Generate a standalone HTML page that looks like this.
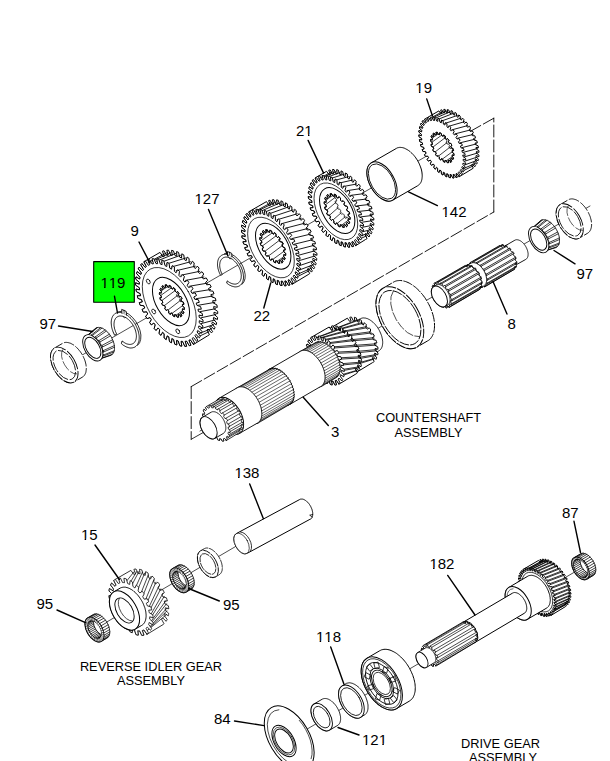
<!DOCTYPE html>
<html><head><meta charset="utf-8"><style>
html,body{margin:0;padding:0;background:#fff;width:610px;height:761px;overflow:hidden}
svg{display:block}
text{font-family:"Liberation Sans",sans-serif;fill:#000}
</style></head><body>
<svg width="610" height="761" viewBox="0 0 610 761" stroke-linecap="round" stroke-linejoin="round">
<line x1="191.20" y1="386.60" x2="191.20" y2="439.30" stroke="#000" stroke-width="0.9" stroke-dasharray="12,3"/>
<line x1="191.20" y1="386.60" x2="493.80" y2="212.00" stroke="#000" stroke-width="0.9" stroke-dasharray="12,3"/>
<line x1="493.80" y1="212.00" x2="493.80" y2="118.20" stroke="#000" stroke-width="0.9" stroke-dasharray="12,3"/>
<line x1="493.80" y1="118.20" x2="462.00" y2="136.00" stroke="#000" stroke-width="0.9" stroke-dasharray="12,3"/>
<line x1="191.20" y1="439.30" x2="205.00" y2="431.50" stroke="#000" stroke-width="0.8"/>
<line x1="58.00" y1="369.00" x2="470.00" y2="131.00" stroke="#000" stroke-width="0.7"/>
<line x1="200.00" y1="431.00" x2="590.00" y2="206.00" stroke="#000" stroke-width="0.7"/>
<line x1="88.00" y1="633.00" x2="245.00" y2="541.00" stroke="#000" stroke-width="0.7"/>
<line x1="280.00" y1="745.00" x2="590.00" y2="563.00" stroke="#000" stroke-width="0.7"/>
<path d="M472.3,168.8 L473.3,168.1 L471.6,164.8 L472.4,164.1 L474.7,166.8 L475.5,165.9 L473.6,162.7 L474.2,161.8 L476.7,164.1 L477.3,162.9 L475.1,160.0 L475.5,158.8 L478.1,160.8 L478.5,159.3 L476.0,156.8 L476.2,155.4 L478.9,156.8 L479.0,155.2 L476.4,153.1 L476.4,151.5 L479.0,152.4 L478.9,150.7 L476.3,149.0 L476.0,147.4 L478.5,147.7 L478.1,145.8 L475.5,144.7 L475.1,143.0 L477.4,142.8 L476.8,140.8 L474.3,140.2 L473.6,138.5 L475.6,137.7 L474.8,135.8 L472.5,135.7 L471.7,134.1 L473.4,132.8 L472.4,130.9 L470.2,131.4 L469.3,129.8 L470.6,128.0 L469.4,126.2 L467.6,127.3 L466.5,125.8 L467.4,123.5 L466.1,121.9 L464.6,123.5 L463.4,122.2 L463.9,119.5 L462.5,118.1 L461.4,120.1 L460.1,119.0 L460.2,116.1 L458.8,114.9 L458.0,117.4 L456.7,116.4 L456.4,113.3 L454.9,112.4 L454.6,115.2 L453.2,114.5 L452.5,111.2 L451.0,110.6 L451.1,113.7 L449.9,113.3 L448.7,109.9 L447.3,109.6 L447.8,112.9 L446.6,112.8 L445.1,109.4 L443.8,109.4 L444.7,112.8 L443.6,113.0 L441.8,109.8 L440.6,110.1 L441.9,113.5 L441.0,113.9 L438.9,110.9 L425.6,118.6 L424.6,119.2 L426.3,122.5 L425.5,123.3 L423.1,120.5 L422.3,121.5 L424.3,124.6 L423.7,125.6 L421.2,123.2 L420.6,124.4 L422.8,127.3 L422.4,128.5 L419.8,126.6 L419.4,128.0 L421.8,130.6 L421.6,131.9 L419.0,130.5 L418.9,132.1 L421.4,134.3 L421.4,135.8 L418.9,134.9 L419.0,136.7 L421.6,138.4 L421.8,140.0 L419.4,139.6 L419.7,141.5 L422.3,142.7 L422.7,144.4 L420.5,144.6 L421.1,146.5 L423.6,147.2 L424.2,148.9 L422.2,149.6 L423.0,151.5 L425.4,151.6 L426.2,153.3 L424.5,154.6 L425.5,156.4 L427.6,156.0 L428.6,157.6 L427.2,159.4 L428.4,161.1 L430.3,160.1 L431.4,161.6 L430.4,163.8 L431.7,165.4 L433.2,163.9 L434.4,165.2 L433.9,167.8 L435.3,169.2 L436.5,167.2 L437.7,168.3 L437.6,171.3 L439.1,172.4 L439.8,170.0 L441.2,170.9 L441.5,174.1 L443.0,175.0 L443.3,172.2 L444.6,172.8 L445.4,176.2 L446.8,176.8 L446.7,173.7 L448.0,174.1 L449.1,177.5 L450.5,177.7 L450.0,174.5 L451.2,174.6 L452.7,177.9 L454.0,177.9 L453.1,174.5 L454.2,174.4 L456.1,177.6 L457.2,177.2 L455.9,173.9 L456.9,173.4 L459.0,176.4Z" fill="#fff" stroke="#000" stroke-width="1.0" />
<path d="M461.5,171.6 L473.1,165.9 M463.1,168.7 L475.1,163.6 M464.1,165.2 L476.5,160.6 M464.5,161.3 L477.4,157.0 M464.3,156.9 L477.7,153.0 M463.4,152.3 L477.4,148.6 M462.1,147.6 L476.5,143.9 M460.1,142.8 L475.1,139.2 M457.7,138.2 L473.0,134.5 M454.9,133.9 L470.6,129.9 M451.7,129.9 L467.7,125.6 M448.3,126.4 L464.5,121.7 M444.7,123.5 L461.0,118.2 M441.0,121.2 L457.4,115.4 M437.4,119.6 L453.7,113.2 M433.9,118.8 L450.1,111.8 M430.6,118.8 L446.6,111.1 M427.7,119.6 L443.4,111.2" fill="none" stroke="#000" stroke-width="0.9" />
<path d="M459.0,176.4 L460.0,175.8 L458.3,172.5 L459.1,171.7 L461.5,174.5 L462.3,173.5 L460.3,170.4 L460.9,169.4 L463.4,171.8 L464.0,170.6 L461.8,167.7 L462.2,166.5 L464.8,168.4 L465.2,167.0 L462.8,164.4 L463.0,163.1 L465.6,164.5 L465.7,162.9 L463.2,160.7 L463.2,159.2 L465.7,160.1 L465.6,158.3 L463.0,156.6 L462.8,155.0 L465.2,155.4 L464.9,153.5 L462.3,152.3 L461.9,150.6 L464.1,150.4 L463.5,148.5 L461.0,147.8 L460.4,146.1 L462.4,145.4 L461.6,143.5 L459.2,143.4 L458.4,141.7 L460.1,140.4 L459.1,138.6 L457.0,139.0 L456.0,137.4 L457.4,135.6 L456.2,133.9 L454.3,134.9 L453.2,133.4 L454.2,131.2 L452.9,129.6 L451.4,131.1 L450.2,129.8 L450.7,127.2 L449.3,125.8 L448.1,127.8 L446.9,126.7 L447.0,123.7 L445.5,122.6 L444.8,125.0 L443.4,124.1 L443.1,120.9 L441.6,120.0 L441.3,122.8 L440.0,122.2 L439.2,118.8 L437.8,118.2 L437.9,121.3 L436.6,120.9 L435.5,117.5 L434.1,117.3 L434.6,120.5 L433.4,120.4 L431.9,117.1 L430.6,117.1 L431.5,120.5 L430.4,120.6 L428.5,117.4 L427.4,117.8 L428.7,121.1 L427.7,121.6 L425.6,118.6 L424.6,119.2 L426.3,122.5 L425.5,123.3 L423.1,120.5 L422.3,121.5 L424.3,124.6 L423.7,125.6 L421.2,123.2 L420.6,124.4 L422.8,127.3 L422.4,128.5 L419.8,126.6 L419.4,128.0 L421.8,130.6 L421.6,131.9 L419.0,130.5 L418.9,132.1 L421.4,134.3 L421.4,135.8 L418.9,134.9 L419.0,136.7 L421.6,138.4 L421.8,140.0 L419.4,139.6 L419.7,141.5 L422.3,142.7 L422.7,144.4 L420.5,144.6 L421.1,146.5 L423.6,147.2 L424.2,148.9 L422.2,149.6 L423.0,151.5 L425.4,151.6 L426.2,153.3 L424.5,154.6 L425.5,156.4 L427.6,156.0 L428.6,157.6 L427.2,159.4 L428.4,161.1 L430.3,160.1 L431.4,161.6 L430.4,163.8 L431.7,165.4 L433.2,163.9 L434.4,165.2 L433.9,167.8 L435.3,169.2 L436.5,167.2 L437.7,168.3 L437.6,171.3 L439.1,172.4 L439.8,170.0 L441.2,170.9 L441.5,174.1 L443.0,175.0 L443.3,172.2 L444.6,172.8 L445.4,176.2 L446.8,176.8 L446.7,173.7 L448.0,174.1 L449.1,177.5 L450.5,177.7 L450.0,174.5 L451.2,174.6 L452.7,177.9 L454.0,177.9 L453.1,174.5 L454.2,174.4 L456.1,177.6 L457.2,177.2 L455.9,173.9 L456.9,173.4 L459.0,176.4Z" fill="#fff" stroke="#000" stroke-width="1.0" />
<clipPath id="c1"><path d="M450.7,162.0 L451.2,161.6 L451.7,161.2 L450.6,159.0 L451.0,158.6 L451.3,158.1 L453.0,159.5 L453.3,158.8 L453.5,158.1 L452.1,156.2 L452.2,155.6 L452.3,154.9 L454.0,155.5 L454.0,154.6 L454.0,153.7 L452.3,152.4 L452.3,151.5 L452.1,150.7 L453.6,150.6 L453.4,149.6 L453.1,148.6 L451.4,147.9 L451.1,147.0 L450.8,146.2 L451.9,145.3 L451.4,144.3 L450.9,143.4 L449.4,143.4 L448.9,142.6 L448.4,141.8 L449.0,140.3 L448.3,139.4 L447.6,138.6 L446.5,139.4 L445.9,138.7 L445.3,138.1 L445.3,136.1 L444.5,135.5 L443.7,134.9 L443.1,136.4 L442.4,135.9 L441.8,135.6 L441.2,133.4 L440.4,133.0 L439.7,132.7 L439.6,134.7 L439.0,134.5 L438.4,134.4 L437.3,132.3 L436.6,132.3 L435.9,132.4 L436.5,134.5 L435.9,134.7 L435.4,134.9 L433.9,133.0 L433.4,133.4 L432.9,133.8 L434.0,136.0 L433.6,136.4 L433.3,136.9 L431.6,135.5 L431.3,136.2 L431.1,136.9 L432.5,138.8 L432.4,139.4 L432.3,140.1 L430.6,139.5 L430.6,140.4 L430.6,141.3 L432.3,142.6 L432.3,143.5 L432.5,144.3 L431.0,144.4 L431.2,145.4 L431.5,146.4 L433.2,147.1 L433.5,148.0 L433.8,148.8 L432.7,149.7 L433.2,150.7 L433.7,151.6 L435.2,151.6 L435.7,152.4 L436.2,153.2 L435.6,154.7 L436.3,155.6 L437.0,156.4 L438.1,155.6 L438.7,156.3 L439.3,156.9 L439.3,158.9 L440.1,159.5 L440.9,160.1 L441.5,158.6 L442.2,159.1 L442.8,159.4 L443.4,161.6 L444.2,162.0 L444.9,162.3 L445.0,160.3 L445.6,160.5 L446.2,160.6 L447.3,162.7 L448.0,162.7 L448.7,162.6 L448.1,160.5 L448.7,160.3 L449.2,160.1 L450.6,162.0Z"/></clipPath>
<path d="M450.7,162.0 L451.2,161.6 L451.7,161.2 L450.6,159.0 L451.0,158.6 L451.3,158.1 L453.0,159.5 L453.3,158.8 L453.5,158.1 L452.1,156.2 L452.2,155.6 L452.3,154.9 L454.0,155.5 L454.0,154.6 L454.0,153.7 L452.3,152.4 L452.3,151.5 L452.1,150.7 L453.6,150.6 L453.4,149.6 L453.1,148.6 L451.4,147.9 L451.1,147.0 L450.8,146.2 L451.9,145.3 L451.4,144.3 L450.9,143.4 L449.4,143.4 L448.9,142.6 L448.4,141.8 L449.0,140.3 L448.3,139.4 L447.6,138.6 L446.5,139.4 L445.9,138.7 L445.3,138.1 L445.3,136.1 L444.5,135.5 L443.7,134.9 L443.1,136.4 L442.4,135.9 L441.8,135.6 L441.2,133.4 L440.4,133.0 L439.7,132.7 L439.6,134.7 L439.0,134.5 L438.4,134.4 L437.3,132.3 L436.6,132.3 L435.9,132.4 L436.5,134.5 L435.9,134.7 L435.4,134.9 L433.9,133.0 L433.4,133.4 L432.9,133.8 L434.0,136.0 L433.6,136.4 L433.3,136.9 L431.6,135.5 L431.3,136.2 L431.1,136.9 L432.5,138.8 L432.4,139.4 L432.3,140.1 L430.6,139.5 L430.6,140.4 L430.6,141.3 L432.3,142.6 L432.3,143.5 L432.5,144.3 L431.0,144.4 L431.2,145.4 L431.5,146.4 L433.2,147.1 L433.5,148.0 L433.8,148.8 L432.7,149.7 L433.2,150.7 L433.7,151.6 L435.2,151.6 L435.7,152.4 L436.2,153.2 L435.6,154.7 L436.3,155.6 L437.0,156.4 L438.1,155.6 L438.7,156.3 L439.3,156.9 L439.3,158.9 L440.1,159.5 L440.9,160.1 L441.5,158.6 L442.2,159.1 L442.8,159.4 L443.4,161.6 L444.2,162.0 L444.9,162.3 L445.0,160.3 L445.6,160.5 L446.2,160.6 L447.3,162.7 L448.0,162.7 L448.7,162.6 L448.1,160.5 L448.7,160.3 L449.2,160.1 L450.6,162.0Z" fill="#fff" stroke="#000" stroke-width="0.9" />
<g clip-path="url(#c1)">
<path d="M451.4,159.8 L463.7,153.0 M435.8,133.5 L450.3,125.7 M433.2,135.2 L447.4,126.7 M431.7,138.3 L445.4,129.2 M431.5,142.5 L444.6,133.1 M432.5,147.4 L445.2,137.7 M434.8,152.2 L447.0,142.6 M438.0,156.5 L449.9,147.2 M441.6,159.7 L453.4,150.9 M445.4,161.4 L457.2,153.3 M448.8,161.5 L460.8,154.0" fill="none" stroke="#000" stroke-width="0.75" />
<path d="M463.9,154.3 L464.4,154.0 L464.9,153.6 L463.9,151.4 L464.2,151.0 L464.5,150.5 L466.2,151.8 L466.5,151.2 L466.8,150.5 L465.3,148.6 L465.5,147.9 L465.6,147.2 L467.2,147.9 L467.3,147.0 L467.3,146.1 L465.6,144.7 L465.5,143.9 L465.4,143.1 L466.9,143.0 L466.6,142.0 L466.4,141.0 L464.7,140.3 L464.4,139.4 L464.0,138.5 L465.1,137.7 L464.6,136.7 L464.1,135.7 L462.6,135.8 L462.1,134.9 L461.6,134.1 L462.2,132.7 L461.6,131.8 L460.9,130.9 L459.8,131.7 L459.1,131.1 L458.5,130.5 L458.5,128.5 L457.8,127.8 L457.0,127.3 L456.4,128.7 L455.7,128.3 L455.0,127.9 L454.5,125.7 L453.7,125.4 L452.9,125.1 L452.9,127.0 L452.2,126.9 L451.6,126.8 L450.5,124.6 L449.8,124.6 L449.2,124.7 L449.7,126.9 L449.2,127.0 L448.7,127.3 L447.2,125.4 L446.7,125.7 L446.2,126.1 L447.2,128.3 L446.9,128.7 L446.6,129.2 L444.9,127.9 L444.6,128.5 L444.3,129.2 L445.8,131.1 L445.6,131.8 L445.5,132.5 L443.9,131.8 L443.8,132.7 L443.8,133.6 L445.5,135.0 L445.6,135.8 L445.7,136.6 L444.2,136.7 L444.5,137.7 L444.7,138.7 L446.4,139.4 L446.7,140.3 L447.1,141.2 L446.0,142.0 L446.5,143.0 L447.0,144.0 L448.5,143.9 L449.0,144.8 L449.5,145.6 L448.9,147.0 L449.5,147.9 L450.2,148.8 L451.3,148.0 L452.0,148.6 L452.6,149.2 L452.6,151.2 L453.3,151.9 L454.1,152.4 L454.7,151.0 L455.4,151.4 L456.1,151.8 L456.6,154.0 L457.4,154.3 L458.2,154.6 L458.2,152.7 L458.9,152.8 L459.5,152.9 L460.6,155.1 L461.3,155.1 L461.9,155.0 L461.4,152.8 L461.9,152.7 L462.4,152.4 L463.9,154.3Z" fill="none" stroke="#000" stroke-width="0.75" />
</g>
<path d="M450.7,162.0 L451.2,161.6 L451.7,161.2 L450.6,159.0 L451.0,158.6 L451.3,158.1 L453.0,159.5 L453.3,158.8 L453.5,158.1 L452.1,156.2 L452.2,155.6 L452.3,154.9 L454.0,155.5 L454.0,154.6 L454.0,153.7 L452.3,152.4 L452.3,151.5 L452.1,150.7 L453.6,150.6 L453.4,149.6 L453.1,148.6 L451.4,147.9 L451.1,147.0 L450.8,146.2 L451.9,145.3 L451.4,144.3 L450.9,143.4 L449.4,143.4 L448.9,142.6 L448.4,141.8 L449.0,140.3 L448.3,139.4 L447.6,138.6 L446.5,139.4 L445.9,138.7 L445.3,138.1 L445.3,136.1 L444.5,135.5 L443.7,134.9 L443.1,136.4 L442.4,135.9 L441.8,135.6 L441.2,133.4 L440.4,133.0 L439.7,132.7 L439.6,134.7 L439.0,134.5 L438.4,134.4 L437.3,132.3 L436.6,132.3 L435.9,132.4 L436.5,134.5 L435.9,134.7 L435.4,134.9 L433.9,133.0 L433.4,133.4 L432.9,133.8 L434.0,136.0 L433.6,136.4 L433.3,136.9 L431.6,135.5 L431.3,136.2 L431.1,136.9 L432.5,138.8 L432.4,139.4 L432.3,140.1 L430.6,139.5 L430.6,140.4 L430.6,141.3 L432.3,142.6 L432.3,143.5 L432.5,144.3 L431.0,144.4 L431.2,145.4 L431.5,146.4 L433.2,147.1 L433.5,148.0 L433.8,148.8 L432.7,149.7 L433.2,150.7 L433.7,151.6 L435.2,151.6 L435.7,152.4 L436.2,153.2 L435.6,154.7 L436.3,155.6 L437.0,156.4 L438.1,155.6 L438.7,156.3 L439.3,156.9 L439.3,158.9 L440.1,159.5 L440.9,160.1 L441.5,158.6 L442.2,159.1 L442.8,159.4 L443.4,161.6 L444.2,162.0 L444.9,162.3 L445.0,160.3 L445.6,160.5 L446.2,160.6 L447.3,162.7 L448.0,162.7 L448.7,162.6 L448.1,160.5 L448.7,160.3 L449.2,160.1 L450.6,162.0Z" fill="none" stroke="#000" stroke-width="0.9" />
<path d="M417.9,185.6 L418.4,185.3 L418.9,184.9 L419.4,184.4 L419.8,183.9 L420.2,183.4 L420.6,182.8 L421.0,182.2 L421.3,181.5 L421.5,180.8 L421.7,180.1 L421.9,179.3 L422.0,178.5 L422.1,177.6 L422.2,176.7 L422.2,175.8 L422.2,174.9 L422.1,174.0 L422.0,173.0 L421.9,172.0 L421.7,171.0 L421.5,170.0 L421.2,169.0 L420.9,168.0 L420.5,166.9 L420.1,165.9 L419.7,164.9 L419.3,163.9 L418.8,162.9 L418.3,161.9 L417.7,160.9 L417.2,159.9 L416.5,159.0 L415.9,158.0 L415.3,157.1 L414.6,156.3 L413.9,155.4 L413.2,154.6 L412.4,153.8 L411.7,153.1 L410.9,152.4 L410.2,151.7 L409.4,151.1 L408.6,150.5 L407.8,150.0 L407.0,149.5 L406.2,149.1 L405.4,148.7 L404.7,148.3 L403.9,148.0 L403.1,147.8 L402.4,147.6 L401.6,147.5 L400.9,147.4 L400.2,147.4 L399.5,147.4 L398.8,147.5 L398.2,147.7 L397.5,147.8 L396.9,148.1 L396.4,148.4 L371.2,162.9 L370.7,163.2 L370.2,163.6 L369.7,164.1 L369.3,164.6 L368.9,165.1 L368.5,165.7 L368.2,166.3 L367.9,167.0 L367.6,167.7 L367.4,168.4 L367.2,169.2 L367.1,170.0 L367.0,170.9 L366.9,171.8 L366.9,172.7 L366.9,173.6 L367.0,174.5 L367.1,175.5 L367.2,176.5 L367.4,177.5 L367.7,178.5 L367.9,179.5 L368.2,180.5 L368.6,181.6 L369.0,182.6 L369.4,183.6 L369.8,184.6 L370.3,185.6 L370.8,186.6 L371.4,187.6 L372.0,188.6 L372.6,189.5 L373.2,190.5 L373.9,191.4 L374.5,192.2 L375.2,193.1 L375.9,193.9 L376.7,194.7 L377.4,195.4 L378.2,196.1 L379.0,196.8 L379.7,197.4 L380.5,198.0 L381.3,198.5 L382.1,199.0 L382.9,199.4 L383.7,199.8 L384.5,200.2 L385.2,200.5 L386.0,200.7 L386.8,200.9 L387.5,201.0 L388.2,201.1 L388.9,201.1 L389.6,201.1 L390.3,201.0 L391.0,200.8 L391.6,200.7 L392.2,200.4 L392.8,200.1Z" fill="#fff" stroke="#000" stroke-width="1.0" />
<ellipse cx="382.0" cy="181.5" rx="12.25" ry="21.50" transform="rotate(-30 382.0 181.5)" fill="#fff" stroke="#000" stroke-width="1.0"/>
<ellipse cx="382.0" cy="181.5" rx="11.03" ry="19.35" transform="rotate(-30 382.0 181.5)" fill="none" stroke="#000" stroke-width="0.8"/>
<path d="M365.9,239.3 L367.1,238.6 L364.9,234.3 L365.9,233.5 L368.9,237.0 L369.8,235.9 L367.2,231.9 L368.0,230.8 L371.2,233.9 L371.9,232.4 L369.0,228.8 L369.5,227.4 L372.8,229.9 L373.2,228.2 L370.1,225.0 L370.4,223.4 L373.7,225.3 L373.9,223.4 L370.6,220.7 L370.6,218.9 L373.9,220.1 L373.7,218.0 L370.4,215.9 L370.1,214.0 L373.3,214.5 L372.9,212.3 L369.5,210.9 L369.0,208.9 L372.0,208.7 L371.3,206.5 L368.1,205.7 L367.3,203.7 L369.9,202.8 L369.0,200.6 L366.0,200.5 L365.0,198.6 L367.2,196.9 L366.1,194.8 L363.4,195.4 L362.2,193.6 L364.0,191.3 L362.6,189.3 L360.3,190.6 L359.0,188.9 L360.3,186.1 L358.8,184.2 L356.8,186.3 L355.4,184.7 L356.2,181.4 L354.5,179.7 L353.1,182.4 L351.6,181.1 L351.8,177.3 L350.1,176.0 L349.1,179.1 L347.6,178.1 L347.3,174.0 L345.5,173.0 L345.1,176.6 L343.6,175.8 L342.7,171.6 L341.0,170.9 L341.2,174.8 L339.7,174.4 L338.2,170.0 L336.6,169.7 L337.3,173.9 L335.9,173.8 L334.0,169.5 L332.5,169.5 L333.7,173.8 L332.4,174.0 L330.1,169.9 L328.7,170.3 L330.5,174.6 L329.3,175.2 L326.6,171.3 L316.2,177.3 L315.1,178.0 L317.3,182.3 L316.3,183.1 L313.3,179.6 L312.4,180.7 L314.9,184.7 L314.2,185.8 L311.0,182.7 L310.3,184.2 L313.2,187.8 L312.7,189.2 L309.4,186.7 L309.0,188.4 L312.1,191.6 L311.8,193.2 L308.5,191.3 L308.3,193.2 L311.6,195.9 L311.6,197.7 L308.3,196.5 L308.5,198.6 L311.8,200.7 L312.1,202.6 L308.9,202.1 L309.3,204.3 L312.7,205.7 L313.1,207.7 L310.2,207.9 L310.9,210.1 L314.1,210.9 L314.9,212.9 L312.3,213.8 L313.2,216.0 L316.2,216.1 L317.1,218.0 L314.9,219.7 L316.1,221.8 L318.8,221.2 L319.9,223.0 L318.2,225.3 L319.6,227.3 L321.9,226.0 L323.2,227.7 L321.9,230.5 L323.4,232.4 L325.4,230.3 L326.8,231.9 L326.0,235.2 L327.7,236.9 L329.1,234.2 L330.6,235.5 L330.4,239.3 L332.1,240.6 L333.0,237.5 L334.6,238.5 L334.9,242.6 L336.7,243.6 L337.1,240.0 L338.6,240.8 L339.5,245.0 L341.2,245.7 L341.0,241.8 L342.5,242.2 L343.9,246.6 L345.6,246.9 L344.9,242.7 L346.3,242.8 L348.2,247.1 L349.7,247.1 L348.5,242.8 L349.8,242.6 L352.1,246.7 L353.5,246.3 L351.7,242.0 L352.8,241.4 L355.5,245.3Z" fill="#fff" stroke="#000" stroke-width="1.0" />
<path d="M358.4,239.5 L366.8,235.8 M360.2,236.1 L369.1,233.1 M361.4,232.1 L370.8,229.6 M361.8,227.4 L371.9,225.4 M361.6,222.3 L372.2,220.7 M360.7,216.9 L371.9,215.5 M359.0,211.4 L370.8,210.1 M356.8,205.9 L369.1,204.5 M354.0,200.5 L366.8,199.0 M350.6,195.4 L363.9,193.6 M346.9,190.7 L360.5,188.6 M342.9,186.6 L356.7,184.0 M338.7,183.2 L352.7,180.0 M334.4,180.5 L348.4,176.7 M330.2,178.7 L344.1,174.2 M326.1,177.7 L339.9,172.5 M322.3,177.7 L335.9,171.7 M318.8,178.6 L332.1,171.8" fill="none" stroke="#000" stroke-width="0.9" />
<path d="M355.5,245.3 L356.7,244.6 L354.5,240.3 L355.5,239.5 L358.5,243.0 L359.4,241.9 L356.9,237.9 L357.6,236.8 L360.8,239.9 L361.5,238.4 L358.6,234.8 L359.1,233.4 L362.4,235.9 L362.8,234.2 L359.7,231.0 L360.0,229.4 L363.3,231.3 L363.5,229.4 L360.2,226.7 L360.2,224.9 L363.5,226.1 L363.3,224.0 L360.0,221.9 L359.7,220.0 L362.9,220.5 L362.5,218.3 L359.1,216.9 L358.7,214.9 L361.6,214.7 L360.9,212.5 L357.7,211.7 L356.9,209.7 L359.5,208.8 L358.6,206.6 L355.6,206.5 L354.7,204.6 L356.9,202.9 L355.7,200.8 L353.0,201.4 L351.9,199.6 L353.6,197.3 L352.2,195.3 L349.9,196.6 L348.6,194.9 L349.9,192.1 L348.4,190.2 L346.4,192.3 L345.0,190.7 L345.8,187.4 L344.1,185.7 L342.7,188.4 L341.2,187.1 L341.4,183.3 L339.7,182.0 L338.8,185.1 L337.2,184.1 L336.9,180.0 L335.1,179.0 L334.7,182.6 L333.2,181.8 L332.3,177.6 L330.6,176.9 L330.8,180.8 L329.3,180.4 L327.9,176.0 L326.2,175.7 L326.9,179.9 L325.5,179.8 L323.6,175.5 L322.1,175.5 L323.3,179.8 L322.0,180.0 L319.7,175.9 L318.3,176.3 L320.1,180.6 L319.0,181.2 L316.2,177.3 L315.1,178.0 L317.3,182.3 L316.3,183.1 L313.3,179.6 L312.4,180.7 L314.9,184.7 L314.2,185.8 L311.0,182.7 L310.3,184.2 L313.2,187.8 L312.7,189.2 L309.4,186.7 L309.0,188.4 L312.1,191.6 L311.8,193.2 L308.5,191.3 L308.3,193.2 L311.6,195.9 L311.6,197.7 L308.3,196.5 L308.5,198.6 L311.8,200.7 L312.1,202.6 L308.9,202.1 L309.3,204.3 L312.7,205.7 L313.1,207.7 L310.2,207.9 L310.9,210.1 L314.1,210.9 L314.9,212.9 L312.3,213.8 L313.2,216.0 L316.2,216.1 L317.1,218.0 L314.9,219.7 L316.1,221.8 L318.8,221.2 L319.9,223.0 L318.2,225.3 L319.6,227.3 L321.9,226.0 L323.2,227.7 L321.9,230.5 L323.4,232.4 L325.4,230.3 L326.8,231.9 L326.0,235.2 L327.7,236.9 L329.1,234.2 L330.6,235.5 L330.4,239.3 L332.1,240.6 L333.0,237.5 L334.6,238.5 L334.9,242.6 L336.7,243.6 L337.1,240.0 L338.6,240.8 L339.5,245.0 L341.2,245.7 L341.0,241.8 L342.5,242.2 L343.9,246.6 L345.6,246.9 L344.9,242.7 L346.3,242.8 L348.2,247.1 L349.7,247.1 L348.5,242.8 L349.8,242.6 L352.1,246.7 L353.5,246.3 L351.7,242.0 L352.8,241.4 L355.5,245.3Z" fill="#fff" stroke="#000" stroke-width="1.0" />
<ellipse cx="335.9" cy="211.3" rx="17.74" ry="31.13" transform="rotate(-30 335.9 211.3)" fill="none" stroke="#000" stroke-width="0.7"/>
<ellipse cx="337.2" cy="210.6" rx="14.34" ry="25.15" transform="rotate(-30 337.2 210.6)" fill="none" stroke="#000" stroke-width="1.0"/>
<clipPath id="c2"><path d="M346.4,226.5 L347.0,226.2 L347.6,225.7 L346.4,223.3 L346.8,222.8 L347.1,222.3 L349.0,223.8 L349.3,223.1 L349.6,222.3 L348.0,220.2 L348.2,219.5 L348.3,218.7 L350.1,219.4 L350.2,218.5 L350.2,217.4 L348.3,215.9 L348.2,215.0 L348.1,214.1 L349.7,214.0 L349.5,212.9 L349.1,211.8 L347.3,211.0 L346.9,210.0 L346.6,209.1 L347.8,208.1 L347.3,207.0 L346.7,206.0 L345.0,206.0 L344.5,205.1 L343.9,204.2 L344.6,202.6 L343.9,201.6 L343.1,200.7 L341.9,201.6 L341.2,200.9 L340.5,200.2 L340.5,198.0 L339.6,197.3 L338.8,196.6 L338.1,198.2 L337.4,197.8 L336.6,197.3 L336.0,194.9 L335.1,194.5 L334.3,194.2 L334.2,196.4 L333.5,196.2 L332.8,196.1 L331.6,193.7 L330.9,193.7 L330.1,193.8 L330.7,196.2 L330.1,196.4 L329.6,196.6 L328.0,194.6 L327.4,194.9 L326.8,195.4 L328.0,197.8 L327.6,198.3 L327.3,198.8 L325.4,197.3 L325.1,198.0 L324.8,198.8 L326.4,200.9 L326.2,201.6 L326.1,202.4 L324.3,201.7 L324.2,202.6 L324.2,203.7 L326.1,205.2 L326.2,206.1 L326.3,207.0 L324.7,207.1 L324.9,208.2 L325.2,209.3 L327.1,210.1 L327.5,211.1 L327.8,212.0 L326.6,213.0 L327.1,214.1 L327.7,215.1 L329.4,215.1 L329.9,216.0 L330.5,216.9 L329.8,218.5 L330.5,219.5 L331.3,220.4 L332.5,219.5 L333.2,220.2 L333.9,220.9 L333.9,223.1 L334.8,223.8 L335.6,224.5 L336.3,222.9 L337.0,223.3 L337.8,223.8 L338.4,226.2 L339.3,226.6 L340.1,226.9 L340.2,224.7 L340.9,224.9 L341.6,225.0 L342.8,227.4 L343.5,227.4 L344.3,227.3 L343.7,224.9 L344.2,224.7 L344.8,224.5 L346.4,226.5Z"/></clipPath>
<path d="M346.4,226.5 L347.0,226.2 L347.6,225.7 L346.4,223.3 L346.8,222.8 L347.1,222.3 L349.0,223.8 L349.3,223.1 L349.6,222.3 L348.0,220.2 L348.2,219.5 L348.3,218.7 L350.1,219.4 L350.2,218.5 L350.2,217.4 L348.3,215.9 L348.2,215.0 L348.1,214.1 L349.7,214.0 L349.5,212.9 L349.1,211.8 L347.3,211.0 L346.9,210.0 L346.6,209.1 L347.8,208.1 L347.3,207.0 L346.7,206.0 L345.0,206.0 L344.5,205.1 L343.9,204.2 L344.6,202.6 L343.9,201.6 L343.1,200.7 L341.9,201.6 L341.2,200.9 L340.5,200.2 L340.5,198.0 L339.6,197.3 L338.8,196.6 L338.1,198.2 L337.4,197.8 L336.6,197.3 L336.0,194.9 L335.1,194.5 L334.3,194.2 L334.2,196.4 L333.5,196.2 L332.8,196.1 L331.6,193.7 L330.9,193.7 L330.1,193.8 L330.7,196.2 L330.1,196.4 L329.6,196.6 L328.0,194.6 L327.4,194.9 L326.8,195.4 L328.0,197.8 L327.6,198.3 L327.3,198.8 L325.4,197.3 L325.1,198.0 L324.8,198.8 L326.4,200.9 L326.2,201.6 L326.1,202.4 L324.3,201.7 L324.2,202.6 L324.2,203.7 L326.1,205.2 L326.2,206.1 L326.3,207.0 L324.7,207.1 L324.9,208.2 L325.2,209.3 L327.1,210.1 L327.5,211.1 L327.8,212.0 L326.6,213.0 L327.1,214.1 L327.7,215.1 L329.4,215.1 L329.9,216.0 L330.5,216.9 L329.8,218.5 L330.5,219.5 L331.3,220.4 L332.5,219.5 L333.2,220.2 L333.9,220.9 L333.9,223.1 L334.8,223.8 L335.6,224.5 L336.3,222.9 L337.0,223.3 L337.8,223.8 L338.4,226.2 L339.3,226.6 L340.1,226.9 L340.2,224.7 L340.9,224.9 L341.6,225.0 L342.8,227.4 L343.5,227.4 L344.3,227.3 L343.7,224.9 L344.2,224.7 L344.8,224.5 L346.4,226.5Z" fill="#fff" stroke="#000" stroke-width="0.9" />
<g clip-path="url(#c2)">
<path d="M347.3,224.2 L356.6,219.1 M330.0,195.1 L341.8,188.9 M327.1,196.9 L338.5,190.0 M325.5,200.4 L336.4,192.8 M325.2,205.0 L335.5,197.1 M326.4,210.4 L336.1,202.2 M328.9,215.8 L338.2,207.6 M332.4,220.5 L341.3,212.7 M336.5,224.0 L345.2,216.8 M340.6,225.9 L349.4,219.4 M344.4,226.0 L353.4,220.2" fill="none" stroke="#000" stroke-width="0.75" />
<path d="M356.8,220.5 L357.4,220.2 L358.0,219.7 L356.8,217.3 L357.2,216.8 L357.5,216.3 L359.4,217.8 L359.7,217.1 L360.0,216.3 L358.4,214.2 L358.6,213.5 L358.7,212.7 L360.5,213.4 L360.6,212.5 L360.6,211.4 L358.7,209.9 L358.6,209.0 L358.5,208.1 L360.1,208.0 L359.9,206.9 L359.5,205.8 L357.7,205.0 L357.3,204.0 L357.0,203.1 L358.2,202.1 L357.7,201.0 L357.1,200.0 L355.4,200.0 L354.9,199.1 L354.3,198.2 L355.0,196.6 L354.2,195.6 L353.5,194.7 L352.2,195.6 L351.6,194.9 L350.9,194.2 L350.9,192.0 L350.0,191.3 L349.2,190.6 L348.5,192.2 L347.8,191.8 L347.0,191.3 L346.4,188.9 L345.5,188.5 L344.7,188.2 L344.6,190.4 L343.9,190.2 L343.2,190.1 L342.0,187.7 L341.3,187.7 L340.5,187.8 L341.1,190.2 L340.5,190.4 L340.0,190.6 L338.4,188.6 L337.8,188.9 L337.2,189.4 L338.4,191.8 L338.0,192.3 L337.6,192.8 L335.8,191.3 L335.5,192.0 L335.2,192.8 L336.8,194.9 L336.6,195.6 L336.5,196.4 L334.7,195.7 L334.6,196.6 L334.6,197.7 L336.5,199.2 L336.6,200.1 L336.7,201.0 L335.1,201.1 L335.3,202.2 L335.6,203.3 L337.5,204.1 L337.8,205.1 L338.2,206.0 L337.0,207.0 L337.5,208.1 L338.1,209.1 L339.7,209.1 L340.3,210.0 L340.9,210.9 L340.2,212.5 L340.9,213.5 L341.7,214.4 L342.9,213.5 L343.6,214.2 L344.3,214.9 L344.3,217.1 L345.2,217.8 L346.0,218.5 L346.7,216.9 L347.4,217.3 L348.2,217.8 L348.8,220.2 L349.7,220.6 L350.5,220.9 L350.5,218.7 L351.3,218.9 L351.9,219.0 L353.2,221.4 L353.9,221.4 L354.7,221.3 L354.1,218.9 L354.6,218.7 L355.2,218.5 L356.8,220.5Z" fill="none" stroke="#000" stroke-width="0.75" />
</g>
<path d="M346.4,226.5 L347.0,226.2 L347.6,225.7 L346.4,223.3 L346.8,222.8 L347.1,222.3 L349.0,223.8 L349.3,223.1 L349.6,222.3 L348.0,220.2 L348.2,219.5 L348.3,218.7 L350.1,219.4 L350.2,218.5 L350.2,217.4 L348.3,215.9 L348.2,215.0 L348.1,214.1 L349.7,214.0 L349.5,212.9 L349.1,211.8 L347.3,211.0 L346.9,210.0 L346.6,209.1 L347.8,208.1 L347.3,207.0 L346.7,206.0 L345.0,206.0 L344.5,205.1 L343.9,204.2 L344.6,202.6 L343.9,201.6 L343.1,200.7 L341.9,201.6 L341.2,200.9 L340.5,200.2 L340.5,198.0 L339.6,197.3 L338.8,196.6 L338.1,198.2 L337.4,197.8 L336.6,197.3 L336.0,194.9 L335.1,194.5 L334.3,194.2 L334.2,196.4 L333.5,196.2 L332.8,196.1 L331.6,193.7 L330.9,193.7 L330.1,193.8 L330.7,196.2 L330.1,196.4 L329.6,196.6 L328.0,194.6 L327.4,194.9 L326.8,195.4 L328.0,197.8 L327.6,198.3 L327.3,198.8 L325.4,197.3 L325.1,198.0 L324.8,198.8 L326.4,200.9 L326.2,201.6 L326.1,202.4 L324.3,201.7 L324.2,202.6 L324.2,203.7 L326.1,205.2 L326.2,206.1 L326.3,207.0 L324.7,207.1 L324.9,208.2 L325.2,209.3 L327.1,210.1 L327.5,211.1 L327.8,212.0 L326.6,213.0 L327.1,214.1 L327.7,215.1 L329.4,215.1 L329.9,216.0 L330.5,216.9 L329.8,218.5 L330.5,219.5 L331.3,220.4 L332.5,219.5 L333.2,220.2 L333.9,220.9 L333.9,223.1 L334.8,223.8 L335.6,224.5 L336.3,222.9 L337.0,223.3 L337.8,223.8 L338.4,226.2 L339.3,226.6 L340.1,226.9 L340.2,224.7 L340.9,224.9 L341.6,225.0 L342.8,227.4 L343.5,227.4 L344.3,227.3 L343.7,224.9 L344.2,224.7 L344.8,224.5 L346.4,226.5Z" fill="none" stroke="#000" stroke-width="0.9" />
<path d="M308.5,274.4 L309.7,273.6 L307.3,269.1 L308.3,268.3 L311.4,272.1 L312.4,270.9 L309.7,266.7 L310.4,265.6 L313.8,268.9 L314.6,267.5 L311.5,263.5 L312.1,262.2 L315.6,265.0 L316.1,263.3 L312.7,259.8 L313.1,258.2 L316.6,260.4 L316.8,258.5 L313.4,255.5 L313.4,253.7 L317.0,255.3 L316.9,253.2 L313.3,250.8 L313.2,248.9 L316.6,249.7 L316.2,247.5 L312.7,245.7 L312.3,243.8 L315.5,243.8 L314.9,241.6 L311.4,240.5 L310.7,238.5 L313.7,237.9 L312.8,235.6 L309.5,235.2 L308.7,233.2 L311.2,231.9 L310.1,229.6 L307.1,230.0 L306.0,228.1 L308.2,226.0 L306.9,223.9 L304.2,225.0 L303.0,223.2 L304.6,220.5 L303.2,218.5 L300.9,220.3 L299.5,218.6 L300.7,215.4 L299.1,213.6 L297.2,216.0 L295.8,214.5 L296.4,210.8 L294.7,209.3 L293.4,212.3 L291.8,211.0 L291.9,206.9 L290.1,205.7 L289.3,209.2 L287.8,208.2 L287.3,203.8 L285.5,202.8 L285.3,206.8 L283.7,206.1 L282.7,201.5 L280.9,200.9 L281.2,205.2 L279.7,204.8 L278.2,200.2 L276.5,199.9 L277.4,204.4 L276.0,204.3 L273.9,199.7 L272.3,199.8 L273.7,204.4 L272.5,204.6 L270.0,200.2 L268.6,200.6 L270.5,205.3 L269.3,205.8 L266.5,201.6 L250.0,211.1 L248.8,211.9 L251.1,216.4 L250.2,217.2 L247.0,213.4 L246.0,214.6 L248.8,218.8 L248.0,219.9 L244.6,216.6 L243.9,218.0 L246.9,222.0 L246.4,223.3 L242.9,220.5 L242.4,222.2 L245.7,225.7 L245.4,227.3 L241.8,225.1 L241.6,227.0 L245.1,230.0 L245.0,231.8 L241.5,230.2 L241.6,232.3 L245.1,234.7 L245.3,236.6 L241.9,235.8 L242.2,238.0 L245.8,239.8 L246.2,241.7 L243.0,241.7 L243.6,243.9 L247.1,245.0 L247.7,247.0 L244.8,247.6 L245.6,249.9 L248.9,250.3 L249.8,252.3 L247.2,253.6 L248.3,255.9 L251.4,255.5 L252.4,257.4 L250.3,259.5 L251.6,261.6 L254.3,260.5 L255.5,262.3 L253.8,265.0 L255.3,267.0 L257.6,265.2 L258.9,266.9 L257.8,270.1 L259.4,271.9 L261.2,269.5 L262.7,271.0 L262.1,274.7 L263.8,276.2 L265.1,273.2 L266.6,274.5 L266.6,278.6 L268.3,279.8 L269.1,276.3 L270.7,277.3 L271.2,281.7 L272.9,282.7 L273.2,278.7 L274.7,279.4 L275.8,284.0 L277.5,284.6 L277.2,280.3 L278.7,280.7 L280.3,285.3 L282.0,285.6 L281.1,281.1 L282.5,281.2 L284.6,285.8 L286.1,285.7 L284.7,281.1 L286.0,280.9 L288.5,285.3 L289.9,284.9 L288.0,280.2 L289.1,279.7 L292.0,283.9Z" fill="#fff" stroke="#000" stroke-width="1.0" />
<path d="M294.9,277.9 L309.1,270.8 M296.8,274.6 L311.6,268.1 M298.1,270.5 L313.4,264.7 M298.7,265.9 L314.6,260.5 M298.6,260.8 L315.2,255.9 M297.9,255.4 L315.0,250.8 M296.5,249.9 L314.2,245.3 M294.4,244.2 L312.7,239.7 M291.8,238.6 L310.6,234.1 M288.7,233.3 L307.9,228.5 M285.1,228.3 L304.8,223.2 M281.2,223.8 L301.2,218.3 M277.0,219.8 L297.2,213.8 M272.7,216.6 L293.0,209.9 M268.4,214.1 L288.7,206.8 M264.1,212.4 L284.4,204.3 M260.0,211.6 L280.1,202.8 M256.1,211.7 L276.0,202.0 M252.7,212.6 L272.2,202.2" fill="none" stroke="#000" stroke-width="0.9" />
<path d="M292.0,283.9 L293.2,283.1 L290.9,278.6 L291.8,277.8 L295.0,281.6 L296.0,280.4 L293.2,276.2 L294.0,275.1 L297.4,278.4 L298.1,277.0 L295.1,273.0 L295.6,271.7 L299.1,274.5 L299.6,272.8 L296.3,269.3 L296.6,267.7 L300.2,269.9 L300.4,268.0 L296.9,265.0 L297.0,263.2 L300.5,264.8 L300.4,262.7 L296.9,260.3 L296.7,258.4 L300.1,259.2 L299.8,257.0 L296.2,255.2 L295.8,253.3 L299.0,253.3 L298.4,251.1 L294.9,250.0 L294.3,248.0 L297.2,247.4 L296.4,245.1 L293.1,244.7 L292.2,242.7 L294.8,241.4 L293.7,239.1 L290.6,239.5 L289.6,237.6 L291.7,235.5 L290.4,233.4 L287.7,234.5 L286.5,232.7 L288.2,230.0 L286.7,228.0 L284.4,229.8 L283.1,228.1 L284.2,224.9 L282.6,223.1 L280.8,225.5 L279.3,224.0 L279.9,220.3 L278.2,218.8 L276.9,221.8 L275.4,220.5 L275.4,216.4 L273.7,215.2 L272.9,218.7 L271.3,217.7 L270.8,213.3 L269.1,212.3 L268.8,216.3 L267.3,215.6 L266.2,211.0 L264.5,210.4 L264.8,214.7 L263.3,214.3 L261.7,209.7 L260.0,209.4 L260.9,213.9 L259.5,213.8 L257.4,209.2 L255.9,209.3 L257.3,213.9 L256.0,214.1 L253.5,209.7 L252.1,210.1 L254.0,214.8 L252.9,215.3 L250.0,211.1 L248.8,211.9 L251.1,216.4 L250.2,217.2 L247.0,213.4 L246.0,214.6 L248.8,218.8 L248.0,219.9 L244.6,216.6 L243.9,218.0 L246.9,222.0 L246.4,223.3 L242.9,220.5 L242.4,222.2 L245.7,225.7 L245.4,227.3 L241.8,225.1 L241.6,227.0 L245.1,230.0 L245.0,231.8 L241.5,230.2 L241.6,232.3 L245.1,234.7 L245.3,236.6 L241.9,235.8 L242.2,238.0 L245.8,239.8 L246.2,241.7 L243.0,241.7 L243.6,243.9 L247.1,245.0 L247.7,247.0 L244.8,247.6 L245.6,249.9 L248.9,250.3 L249.8,252.3 L247.2,253.6 L248.3,255.9 L251.4,255.5 L252.4,257.4 L250.3,259.5 L251.6,261.6 L254.3,260.5 L255.5,262.3 L253.8,265.0 L255.3,267.0 L257.6,265.2 L258.9,266.9 L257.8,270.1 L259.4,271.9 L261.2,269.5 L262.7,271.0 L262.1,274.7 L263.8,276.2 L265.1,273.2 L266.6,274.5 L266.6,278.6 L268.3,279.8 L269.1,276.3 L270.7,277.3 L271.2,281.7 L272.9,282.7 L273.2,278.7 L274.7,279.4 L275.8,284.0 L277.5,284.6 L277.2,280.3 L278.7,280.7 L280.3,285.3 L282.0,285.6 L281.1,281.1 L282.5,281.2 L284.6,285.8 L286.1,285.7 L284.7,281.1 L286.0,280.9 L288.5,285.3 L289.9,284.9 L288.0,280.2 L289.1,279.7 L292.0,283.9Z" fill="#fff" stroke="#000" stroke-width="1.0" />
<ellipse cx="271.0" cy="247.5" rx="18.96" ry="33.26" transform="rotate(-30 271.0 247.5)" fill="none" stroke="#000" stroke-width="0.7"/>
<ellipse cx="273.2" cy="246.2" rx="14.36" ry="25.20" transform="rotate(-30 273.2 246.2)" fill="none" stroke="#000" stroke-width="1.0"/>
<clipPath id="c3"><path d="M282.0,262.5 L282.6,262.1 L283.1,261.7 L281.9,259.3 L282.3,258.8 L282.7,258.2 L284.5,259.7 L284.9,259.0 L285.1,258.2 L283.5,256.2 L283.7,255.4 L283.8,254.6 L285.7,255.4 L285.7,254.4 L285.7,253.4 L283.8,251.9 L283.8,251.0 L283.6,250.1 L285.3,249.9 L285.0,248.8 L284.7,247.7 L282.8,247.0 L282.5,246.0 L282.1,245.0 L283.3,244.1 L282.8,243.0 L282.2,241.9 L280.6,242.0 L280.0,241.1 L279.5,240.2 L280.1,238.5 L279.4,237.6 L278.6,236.6 L277.4,237.5 L276.7,236.8 L276.0,236.1 L276.0,233.9 L275.2,233.2 L274.3,232.6 L273.6,234.2 L272.9,233.7 L272.2,233.3 L271.5,230.9 L270.7,230.5 L269.8,230.2 L269.8,232.3 L269.1,232.2 L268.4,232.0 L267.2,229.7 L266.4,229.7 L265.7,229.7 L266.3,232.2 L265.7,232.3 L265.1,232.6 L263.5,230.5 L262.9,230.9 L262.4,231.3 L263.5,233.7 L263.1,234.2 L262.8,234.8 L260.9,233.3 L260.6,234.0 L260.3,234.8 L261.9,236.8 L261.8,237.6 L261.6,238.4 L259.8,237.6 L259.7,238.6 L259.8,239.6 L261.6,241.1 L261.7,242.0 L261.9,242.9 L260.2,243.1 L260.5,244.2 L260.8,245.3 L262.6,246.0 L263.0,247.0 L263.4,248.0 L262.1,248.9 L262.7,250.0 L263.2,251.1 L264.9,251.0 L265.4,251.9 L266.0,252.8 L265.4,254.5 L266.1,255.4 L266.8,256.4 L268.1,255.5 L268.8,256.2 L269.5,256.9 L269.5,259.1 L270.3,259.8 L271.1,260.4 L271.8,258.8 L272.6,259.3 L273.3,259.7 L273.9,262.1 L274.8,262.5 L275.6,262.8 L275.7,260.7 L276.4,260.8 L277.1,261.0 L278.3,263.3 L279.1,263.3 L279.8,263.3 L279.2,260.8 L279.8,260.7 L280.3,260.4 L282.0,262.5Z"/></clipPath>
<path d="M282.0,262.5 L282.6,262.1 L283.1,261.7 L281.9,259.3 L282.3,258.8 L282.7,258.2 L284.5,259.7 L284.9,259.0 L285.1,258.2 L283.5,256.2 L283.7,255.4 L283.8,254.6 L285.7,255.4 L285.7,254.4 L285.7,253.4 L283.8,251.9 L283.8,251.0 L283.6,250.1 L285.3,249.9 L285.0,248.8 L284.7,247.7 L282.8,247.0 L282.5,246.0 L282.1,245.0 L283.3,244.1 L282.8,243.0 L282.2,241.9 L280.6,242.0 L280.0,241.1 L279.5,240.2 L280.1,238.5 L279.4,237.6 L278.6,236.6 L277.4,237.5 L276.7,236.8 L276.0,236.1 L276.0,233.9 L275.2,233.2 L274.3,232.6 L273.6,234.2 L272.9,233.7 L272.2,233.3 L271.5,230.9 L270.7,230.5 L269.8,230.2 L269.8,232.3 L269.1,232.2 L268.4,232.0 L267.2,229.7 L266.4,229.7 L265.7,229.7 L266.3,232.2 L265.7,232.3 L265.1,232.6 L263.5,230.5 L262.9,230.9 L262.4,231.3 L263.5,233.7 L263.1,234.2 L262.8,234.8 L260.9,233.3 L260.6,234.0 L260.3,234.8 L261.9,236.8 L261.8,237.6 L261.6,238.4 L259.8,237.6 L259.7,238.6 L259.8,239.6 L261.6,241.1 L261.7,242.0 L261.9,242.9 L260.2,243.1 L260.5,244.2 L260.8,245.3 L262.6,246.0 L263.0,247.0 L263.4,248.0 L262.1,248.9 L262.7,250.0 L263.2,251.1 L264.9,251.0 L265.4,251.9 L266.0,252.8 L265.4,254.5 L266.1,255.4 L266.8,256.4 L268.1,255.5 L268.8,256.2 L269.5,256.9 L269.5,259.1 L270.3,259.8 L271.1,260.4 L271.8,258.8 L272.6,259.3 L273.3,259.7 L273.9,262.1 L274.8,262.5 L275.6,262.8 L275.7,260.7 L276.4,260.8 L277.1,261.0 L278.3,263.3 L279.1,263.3 L279.8,263.3 L279.2,260.8 L279.8,260.7 L280.3,260.4 L282.0,262.5Z" fill="#fff" stroke="#000" stroke-width="0.9" />
<g clip-path="url(#c3)">
<path d="M282.8,260.1 L298.2,251.6 M265.5,231.0 L283.4,221.3 M262.7,232.9 L280.1,222.4 M261.0,236.3 L277.9,225.2 M260.7,241.0 L277.1,229.5 M261.9,246.3 L277.7,234.7 M264.4,251.7 L279.7,240.1 M267.9,256.4 L282.9,245.2 M272.0,260.0 L286.8,249.2 M276.2,261.9 L291.0,251.9 M279.9,262.0 L295.0,252.7" fill="none" stroke="#000" stroke-width="0.75" />
<path d="M298.4,253.0 L299.0,252.6 L299.6,252.2 L298.4,249.8 L298.8,249.3 L299.1,248.7 L301.0,250.2 L301.3,249.5 L301.6,248.7 L300.0,246.7 L300.2,245.9 L300.3,245.1 L302.1,245.9 L302.2,244.9 L302.2,243.9 L300.3,242.4 L300.2,241.5 L300.1,240.6 L301.7,240.4 L301.5,239.3 L301.1,238.2 L299.3,237.5 L298.9,236.5 L298.6,235.5 L299.8,234.6 L299.3,233.5 L298.7,232.4 L297.0,232.5 L296.5,231.6 L295.9,230.7 L296.6,229.0 L295.8,228.1 L295.1,227.1 L293.8,228.0 L293.2,227.3 L292.5,226.6 L292.5,224.4 L291.6,223.7 L290.8,223.1 L290.1,224.7 L289.3,224.2 L288.6,223.8 L288.0,221.4 L287.1,221.0 L286.3,220.7 L286.2,222.8 L285.5,222.7 L284.8,222.5 L283.6,220.2 L282.9,220.2 L282.1,220.2 L282.7,222.7 L282.1,222.8 L281.6,223.1 L279.9,221.0 L279.4,221.4 L278.8,221.8 L280.0,224.2 L279.6,224.7 L279.2,225.3 L277.4,223.8 L277.1,224.5 L276.8,225.3 L278.4,227.3 L278.2,228.1 L278.1,228.9 L276.2,228.1 L276.2,229.1 L276.2,230.1 L278.1,231.6 L278.2,232.5 L278.3,233.4 L276.7,233.6 L276.9,234.7 L277.2,235.8 L279.1,236.5 L279.4,237.5 L279.8,238.5 L278.6,239.4 L279.1,240.5 L279.7,241.6 L281.3,241.5 L281.9,242.4 L282.5,243.3 L281.8,245.0 L282.5,245.9 L283.3,246.9 L284.5,246.0 L285.2,246.7 L285.9,247.4 L285.9,249.6 L286.7,250.3 L287.6,250.9 L288.3,249.3 L289.0,249.8 L289.8,250.2 L290.4,252.6 L291.3,253.0 L292.1,253.3 L292.1,251.2 L292.9,251.3 L293.5,251.5 L294.7,253.8 L295.5,253.8 L296.3,253.8 L295.6,251.3 L296.2,251.2 L296.8,250.9 L298.4,253.0Z" fill="none" stroke="#000" stroke-width="0.75" />
</g>
<path d="M282.0,262.5 L282.6,262.1 L283.1,261.7 L281.9,259.3 L282.3,258.8 L282.7,258.2 L284.5,259.7 L284.9,259.0 L285.1,258.2 L283.5,256.2 L283.7,255.4 L283.8,254.6 L285.7,255.4 L285.7,254.4 L285.7,253.4 L283.8,251.9 L283.8,251.0 L283.6,250.1 L285.3,249.9 L285.0,248.8 L284.7,247.7 L282.8,247.0 L282.5,246.0 L282.1,245.0 L283.3,244.1 L282.8,243.0 L282.2,241.9 L280.6,242.0 L280.0,241.1 L279.5,240.2 L280.1,238.5 L279.4,237.6 L278.6,236.6 L277.4,237.5 L276.7,236.8 L276.0,236.1 L276.0,233.9 L275.2,233.2 L274.3,232.6 L273.6,234.2 L272.9,233.7 L272.2,233.3 L271.5,230.9 L270.7,230.5 L269.8,230.2 L269.8,232.3 L269.1,232.2 L268.4,232.0 L267.2,229.7 L266.4,229.7 L265.7,229.7 L266.3,232.2 L265.7,232.3 L265.1,232.6 L263.5,230.5 L262.9,230.9 L262.4,231.3 L263.5,233.7 L263.1,234.2 L262.8,234.8 L260.9,233.3 L260.6,234.0 L260.3,234.8 L261.9,236.8 L261.8,237.6 L261.6,238.4 L259.8,237.6 L259.7,238.6 L259.8,239.6 L261.6,241.1 L261.7,242.0 L261.9,242.9 L260.2,243.1 L260.5,244.2 L260.8,245.3 L262.6,246.0 L263.0,247.0 L263.4,248.0 L262.1,248.9 L262.7,250.0 L263.2,251.1 L264.9,251.0 L265.4,251.9 L266.0,252.8 L265.4,254.5 L266.1,255.4 L266.8,256.4 L268.1,255.5 L268.8,256.2 L269.5,256.9 L269.5,259.1 L270.3,259.8 L271.1,260.4 L271.8,258.8 L272.6,259.3 L273.3,259.7 L273.9,262.1 L274.8,262.5 L275.6,262.8 L275.7,260.7 L276.4,260.8 L277.1,261.0 L278.3,263.3 L279.1,263.3 L279.8,263.3 L279.2,260.8 L279.8,260.7 L280.3,260.4 L282.0,262.5Z" fill="none" stroke="#000" stroke-width="0.9" />
<path d="M242.0,284.3 L243.9,281.9 L245.0,278.7 L245.2,274.8 L244.4,270.5 L242.8,266.2 L240.5,262.1 L237.5,258.6 L234.2,255.8 L230.7,254.0 L227.4,253.3 L224.4,253.8" fill="none" stroke="#000" stroke-width="0.81" />
<path d="M227.0,283.3 L227.8,283.9 L228.6,284.5 L229.4,285.0 L230.3,285.4 L231.1,285.8 L231.9,286.2 L232.7,286.4 L233.5,286.6 L234.3,286.8 L235.1,286.9 L235.8,286.9 L236.6,286.8 L237.3,286.7 L238.0,286.5 L238.6,286.3 L239.3,286.0 L239.8,285.6 L240.4,285.2 L240.9,284.7 L241.4,284.2 L241.8,283.6 L242.2,282.9 L242.5,282.2 L242.8,281.5 L243.0,280.7 L243.2,279.9 L243.4,279.0 L243.5,278.1 L243.5,277.2 L243.5,276.2 L243.4,275.3 L243.3,274.3 L243.1,273.3 L242.9,272.2 L242.6,271.2 L242.3,270.2 L241.9,269.2 L241.5,268.1 L241.1,267.1 L240.6,266.1 L240.0,265.2 L239.5,264.2 L238.8,263.3 L238.2,262.4 L237.5,261.5 L236.8,260.7 L236.1,259.9 L235.3,259.1 L234.6,258.4 L233.8,257.8 L233.0,257.1 L232.2,256.6 L231.4,256.1 L230.5,255.7 L229.7,255.3 L228.9,255.0 L228.1,254.7 L227.3,254.5 L226.5,254.4 L225.7,254.3 L225.0,254.3 L224.2,254.4 L223.5,254.5 L222.9,254.7 L222.2,255.0 L221.6,255.3 L221.0,255.7 L220.5,256.1 L220.0,256.6 L219.5,257.2 L219.1,257.8 L218.7,258.4 L218.4,259.2 L218.1,259.9 L217.9,260.7 L217.7,261.5 L217.6,262.4 L217.5,263.3 L217.5,264.2 L217.5,265.2 L217.6,266.2 L217.8,267.2 L217.9,268.2 L218.2,269.2 L218.5,270.2 L218.8,271.3 L219.2,272.3 L219.6,273.3 L220.1,274.3 L220.6,275.3 L222.3,274.5 L221.8,273.7 L221.4,272.9 L221.1,272.0 L220.8,271.2 L220.5,270.3 L220.3,269.5 L220.1,268.6 L219.9,267.8 L219.8,266.9 L219.7,266.1 L219.7,265.3 L219.7,264.6 L219.8,263.8 L219.9,263.1 L220.0,262.4 L220.2,261.7 L220.5,261.1 L220.7,260.5 L221.0,260.0 L221.4,259.5 L221.8,259.0 L222.2,258.6 L222.6,258.2 L223.1,257.9 L223.6,257.6 L224.2,257.4 L224.7,257.3 L225.3,257.1 L225.9,257.1 L226.5,257.1 L227.2,257.1 L227.8,257.3 L228.5,257.4 L229.2,257.6 L229.8,257.9 L230.5,258.2 L231.2,258.6 L231.9,259.0 L232.6,259.4 L233.2,259.9 L233.9,260.5 L234.5,261.1 L235.1,261.7 L235.7,262.3 L236.3,263.0 L236.9,263.8 L237.4,264.5 L237.9,265.3 L238.4,266.1 L238.9,266.9 L239.3,267.7 L239.6,268.6 L240.0,269.4 L240.3,270.3 L240.6,271.1 L240.8,272.0 L241.0,272.8 L241.1,273.6 L241.2,274.5 L241.3,275.3 L241.3,276.1 L241.2,276.8 L241.2,277.6 L241.1,278.3 L240.9,279.0 L240.7,279.6 L240.5,280.3 L240.2,280.8 L239.9,281.4 L239.5,281.9 L239.1,282.3 L238.7,282.7 L238.3,283.1 L237.8,283.4 L237.2,283.6 L236.7,283.8 L236.1,284.0 L235.5,284.1 L234.9,284.1 L234.3,284.1 L233.7,284.0 L233.0,283.9 L232.3,283.7 L231.7,283.5 L231.0,283.2 L230.3,282.9 L229.6,282.5 L228.9,282.1 L228.3,281.6 L227.6,281.1Z" fill="#fff" stroke="#000" stroke-width="0.9" />
<path d="M231.9,256.7 L231.7,253.3 L227.5,251.5 L227.6,254.9" fill="#fff" stroke="#000" stroke-width="0.9" />
<line x1="229.59" y1="252.23" x2="229.73" y2="254.99" stroke="#000" stroke-width="0.7200000000000001"/>
<path d="M231.0,258.4 L229.9,258.9 L228.8,257.5" fill="#fff" stroke="#000" stroke-width="0.81" />
<path d="M208.0,335.6 L209.4,334.7 L207.0,329.9 L208.1,329.0 L211.4,332.9 L212.6,331.7 L209.7,327.1 L210.6,325.9 L214.2,329.3 L215.0,327.7 L211.8,323.5 L212.5,322.0 L216.2,324.8 L216.7,322.9 L213.3,319.2 L213.6,317.4 L217.4,319.6 L217.6,317.4 L214.0,314.2 L214.0,312.2 L217.7,313.7 L217.7,311.4 L213.9,308.8 L213.7,306.6 L217.3,307.4 L216.9,304.9 L213.2,302.9 L212.7,300.7 L216.0,300.7 L215.3,298.1 L211.7,296.9 L210.9,294.6 L214.0,293.8 L213.0,291.2 L209.5,290.8 L208.5,288.5 L211.2,287.0 L209.9,284.4 L206.7,284.8 L205.5,282.5 L207.7,280.3 L206.2,277.9 L203.4,279.0 L202.0,276.8 L203.7,274.0 L202.0,271.7 L199.5,273.5 L198.0,271.6 L199.1,268.1 L197.3,266.1 L195.3,268.6 L193.7,266.9 L194.2,262.9 L192.3,261.2 L190.8,264.3 L189.1,262.8 L189.1,258.5 L187.1,257.0 L186.2,260.7 L184.4,259.6 L183.8,254.9 L181.8,253.8 L181.5,258.0 L179.7,257.1 L178.5,252.3 L176.6,251.6 L176.8,256.1 L175.1,255.6 L173.4,250.8 L171.5,250.4 L172.4,255.2 L170.7,255.1 L168.5,250.2 L166.8,250.3 L168.2,255.2 L166.7,255.4 L164.0,250.8 L162.4,251.3 L164.4,256.2 L163.1,256.8 L160.0,252.4 L145.3,260.9 L143.9,261.8 L146.4,266.6 L145.2,267.5 L141.9,263.6 L140.8,264.8 L143.6,269.4 L142.7,270.6 L139.2,267.2 L138.3,268.8 L141.5,273.0 L140.9,274.5 L137.2,271.7 L136.6,273.6 L140.1,277.3 L139.7,279.1 L136.0,276.9 L135.7,279.1 L139.4,282.3 L139.3,284.3 L135.6,282.8 L135.6,285.1 L139.4,287.7 L139.6,289.9 L136.0,289.1 L136.4,291.6 L140.2,293.6 L140.6,295.8 L137.3,295.8 L138.0,298.4 L141.6,299.6 L142.4,301.9 L139.3,302.7 L140.3,305.3 L143.8,305.7 L144.8,308.0 L142.1,309.5 L143.4,312.1 L146.6,311.7 L147.8,314.0 L145.6,316.2 L147.1,318.6 L150.0,317.5 L151.4,319.7 L149.7,322.5 L151.3,324.8 L153.8,323.0 L155.3,324.9 L154.2,328.4 L156.0,330.4 L158.0,327.9 L159.7,329.6 L159.1,333.6 L161.0,335.3 L162.5,332.2 L164.2,333.7 L164.2,338.0 L166.2,339.5 L167.1,335.8 L168.9,336.9 L169.5,341.6 L171.5,342.7 L171.8,338.5 L173.6,339.4 L174.8,344.2 L176.8,344.9 L176.5,340.4 L178.2,340.9 L179.9,345.7 L181.8,346.1 L181.0,341.3 L182.6,341.4 L184.8,346.3 L186.6,346.2 L185.1,341.3 L186.6,341.1 L189.3,345.7 L190.9,345.2 L188.9,340.3 L190.3,339.7 L193.3,344.1Z" fill="#fff" stroke="#000" stroke-width="1.0" />
<path d="M196.7,337.5 L208.9,331.7 M198.9,333.6 L211.7,328.6 M200.4,328.9 L213.9,324.6 M201.1,323.6 L215.2,319.9 M201.0,317.8 L215.9,314.5 M200.2,311.6 L215.7,308.7 M198.5,305.2 L214.8,302.4 M196.2,298.7 L213.0,296.0 M193.2,292.3 L210.6,289.5 M189.6,286.2 L207.6,283.1 M185.5,280.4 L203.9,277.0 M181.0,275.2 L199.8,271.3 M176.2,270.7 L195.2,266.2 M171.3,267.0 L190.4,261.8 M166.3,264.1 L185.5,258.1 M161.4,262.2 L180.5,255.3 M156.6,261.2 L175.6,253.5 M152.2,261.3 L170.9,252.7 M148.2,262.4 L166.5,252.9" fill="none" stroke="#000" stroke-width="0.9" />
<path d="M193.3,344.1 L194.7,343.2 L192.2,338.4 L193.4,337.5 L196.7,341.4 L197.8,340.2 L195.0,335.6 L195.9,334.4 L199.4,337.8 L200.3,336.2 L197.1,332.0 L197.7,330.5 L201.4,333.3 L202.0,331.4 L198.5,327.7 L198.9,325.9 L202.6,328.1 L202.9,325.9 L199.2,322.7 L199.3,320.7 L203.0,322.2 L203.0,319.9 L199.2,317.3 L199.0,315.1 L202.6,315.9 L202.2,313.4 L198.4,311.4 L198.0,309.2 L201.3,309.2 L200.6,306.6 L197.0,305.4 L196.2,303.1 L199.3,302.3 L198.3,299.7 L194.8,299.3 L193.8,297.0 L196.5,295.5 L195.2,292.9 L192.0,293.3 L190.8,291.0 L193.0,288.8 L191.5,286.4 L188.6,287.5 L187.2,285.3 L188.9,282.5 L187.3,280.2 L184.8,282.0 L183.3,280.1 L184.4,276.6 L182.6,274.6 L180.6,277.1 L178.9,275.4 L179.5,271.4 L177.6,269.7 L176.1,272.8 L174.4,271.3 L174.4,267.0 L172.4,265.5 L171.5,269.2 L169.7,268.1 L169.1,263.4 L167.1,262.3 L166.8,266.5 L165.0,265.6 L163.8,260.8 L161.8,260.1 L162.1,264.6 L160.4,264.1 L158.7,259.3 L156.8,258.9 L157.6,263.7 L156.0,263.6 L153.8,258.7 L152.0,258.8 L153.5,263.7 L152.0,263.9 L149.3,259.3 L147.7,259.8 L149.7,264.7 L148.3,265.3 L145.3,260.9 L143.9,261.8 L146.4,266.6 L145.2,267.5 L141.9,263.6 L140.8,264.8 L143.6,269.4 L142.7,270.6 L139.2,267.2 L138.3,268.8 L141.5,273.0 L140.9,274.5 L137.2,271.7 L136.6,273.6 L140.1,277.3 L139.7,279.1 L136.0,276.9 L135.7,279.1 L139.4,282.3 L139.3,284.3 L135.6,282.8 L135.6,285.1 L139.4,287.7 L139.6,289.9 L136.0,289.1 L136.4,291.6 L140.2,293.6 L140.6,295.8 L137.3,295.8 L138.0,298.4 L141.6,299.6 L142.4,301.9 L139.3,302.7 L140.3,305.3 L143.8,305.7 L144.8,308.0 L142.1,309.5 L143.4,312.1 L146.6,311.7 L147.8,314.0 L145.6,316.2 L147.1,318.6 L150.0,317.5 L151.4,319.7 L149.7,322.5 L151.3,324.8 L153.8,323.0 L155.3,324.9 L154.2,328.4 L156.0,330.4 L158.0,327.9 L159.7,329.6 L159.1,333.6 L161.0,335.3 L162.5,332.2 L164.2,333.7 L164.2,338.0 L166.2,339.5 L167.1,335.8 L168.9,336.9 L169.5,341.6 L171.5,342.7 L171.8,338.5 L173.6,339.4 L174.8,344.2 L176.8,344.9 L176.5,340.4 L178.2,340.9 L179.9,345.7 L181.8,346.1 L181.0,341.3 L182.6,341.4 L184.8,346.3 L186.6,346.2 L185.1,341.3 L186.6,341.1 L189.3,345.7 L190.9,345.2 L188.9,340.3 L190.3,339.7 L193.3,344.1Z" fill="#fff" stroke="#000" stroke-width="1.0" />
<ellipse cx="169.3" cy="302.5" rx="21.92" ry="38.45" transform="rotate(-30 169.3 302.5)" fill="none" stroke="#000" stroke-width="0.7"/>
<ellipse cx="171.0" cy="301.5" rx="15.05" ry="26.40" transform="rotate(-30 171.0 301.5)" fill="none" stroke="#000" stroke-width="1.0"/>
<ellipse cx="148.3" cy="281.5" rx="1.6" ry="2.6" transform="rotate(-30 148.3 281.5)" fill="none" stroke="#000" stroke-width="0.8"/>
<ellipse cx="153.7" cy="311.5" rx="1.6" ry="2.6" transform="rotate(-30 153.7 311.5)" fill="none" stroke="#000" stroke-width="0.8"/>
<ellipse cx="177.8" cy="331.3" rx="1.6" ry="2.6" transform="rotate(-30 177.8 331.3)" fill="none" stroke="#000" stroke-width="0.8"/>
<clipPath id="c4"><path d="M180.8,316.4 L181.3,316.0 L181.9,315.6 L180.7,313.3 L181.1,312.8 L181.5,312.3 L183.2,313.7 L183.6,313.0 L183.8,312.3 L182.3,310.3 L182.4,309.6 L182.5,308.8 L184.3,309.5 L184.4,308.6 L184.4,307.6 L182.6,306.2 L182.5,305.3 L182.4,304.4 L183.9,304.3 L183.7,303.2 L183.4,302.2 L181.6,301.4 L181.3,300.5 L180.9,299.6 L182.1,298.7 L181.6,297.6 L181.0,296.6 L179.4,296.6 L178.9,295.8 L178.4,294.9 L179.0,293.3 L178.3,292.4 L177.6,291.5 L176.4,292.4 L175.7,291.7 L175.0,291.0 L175.1,288.9 L174.2,288.2 L173.4,287.6 L172.8,289.2 L172.1,288.7 L171.3,288.3 L170.7,286.0 L169.9,285.6 L169.1,285.3 L169.1,287.4 L168.4,287.2 L167.7,287.1 L166.6,284.8 L165.8,284.8 L165.1,284.9 L165.7,287.2 L165.1,287.4 L164.6,287.6 L163.0,285.6 L162.5,286.0 L161.9,286.4 L163.1,288.7 L162.7,289.2 L162.3,289.7 L160.6,288.3 L160.2,289.0 L160.0,289.7 L161.5,291.7 L161.4,292.4 L161.2,293.2 L159.5,292.5 L159.4,293.4 L159.4,294.4 L161.2,295.8 L161.3,296.7 L161.4,297.6 L159.9,297.7 L160.1,298.8 L160.4,299.8 L162.2,300.6 L162.5,301.5 L162.9,302.4 L161.7,303.3 L162.2,304.4 L162.8,305.4 L164.4,305.4 L164.9,306.2 L165.4,307.1 L164.8,308.7 L165.5,309.6 L166.2,310.5 L167.4,309.6 L168.1,310.3 L168.8,311.0 L168.7,313.1 L169.6,313.8 L170.4,314.4 L171.0,312.8 L171.7,313.3 L172.5,313.7 L173.1,316.0 L173.9,316.4 L174.7,316.7 L174.7,314.6 L175.4,314.8 L176.1,314.9 L177.2,317.2 L178.0,317.2 L178.7,317.1 L178.1,314.8 L178.7,314.6 L179.2,314.4 L180.8,316.4Z"/></clipPath>
<path d="M180.8,316.4 L181.3,316.0 L181.9,315.6 L180.7,313.3 L181.1,312.8 L181.5,312.3 L183.2,313.7 L183.6,313.0 L183.8,312.3 L182.3,310.3 L182.4,309.6 L182.5,308.8 L184.3,309.5 L184.4,308.6 L184.4,307.6 L182.6,306.2 L182.5,305.3 L182.4,304.4 L183.9,304.3 L183.7,303.2 L183.4,302.2 L181.6,301.4 L181.3,300.5 L180.9,299.6 L182.1,298.7 L181.6,297.6 L181.0,296.6 L179.4,296.6 L178.9,295.8 L178.4,294.9 L179.0,293.3 L178.3,292.4 L177.6,291.5 L176.4,292.4 L175.7,291.7 L175.0,291.0 L175.1,288.9 L174.2,288.2 L173.4,287.6 L172.8,289.2 L172.1,288.7 L171.3,288.3 L170.7,286.0 L169.9,285.6 L169.1,285.3 L169.1,287.4 L168.4,287.2 L167.7,287.1 L166.6,284.8 L165.8,284.8 L165.1,284.9 L165.7,287.2 L165.1,287.4 L164.6,287.6 L163.0,285.6 L162.5,286.0 L161.9,286.4 L163.1,288.7 L162.7,289.2 L162.3,289.7 L160.6,288.3 L160.2,289.0 L160.0,289.7 L161.5,291.7 L161.4,292.4 L161.2,293.2 L159.5,292.5 L159.4,293.4 L159.4,294.4 L161.2,295.8 L161.3,296.7 L161.4,297.6 L159.9,297.7 L160.1,298.8 L160.4,299.8 L162.2,300.6 L162.5,301.5 L162.9,302.4 L161.7,303.3 L162.2,304.4 L162.8,305.4 L164.4,305.4 L164.9,306.2 L165.4,307.1 L164.8,308.7 L165.5,309.6 L166.2,310.5 L167.4,309.6 L168.1,310.3 L168.8,311.0 L168.7,313.1 L169.6,313.8 L170.4,314.4 L171.0,312.8 L171.7,313.3 L172.5,313.7 L173.1,316.0 L173.9,316.4 L174.7,316.7 L174.7,314.6 L175.4,314.8 L176.1,314.9 L177.2,317.2 L178.0,317.2 L178.7,317.1 L178.1,314.8 L178.7,314.6 L179.2,314.4 L180.8,316.4Z" fill="#fff" stroke="#000" stroke-width="0.9" />
<g clip-path="url(#c4)">
<path d="M181.6,314.1 L195.3,306.5 M165.0,286.1 L181.1,277.4 M162.2,287.9 L177.9,278.5 M160.6,291.2 L175.8,281.2 M160.4,295.7 L175.0,285.3 M161.5,300.8 L175.6,290.2 M163.9,306.0 L177.5,295.5 M167.3,310.6 L180.6,300.3 M171.2,314.0 L184.3,304.3 M175.2,315.8 L188.3,306.8 M178.8,315.9 L192.2,307.6" fill="none" stroke="#000" stroke-width="0.75" />
<path d="M195.5,307.9 L196.1,307.5 L196.6,307.1 L195.5,304.8 L195.8,304.3 L196.2,303.8 L198.0,305.2 L198.3,304.5 L198.6,303.8 L197.0,301.8 L197.2,301.1 L197.3,300.3 L199.1,301.0 L199.1,300.1 L199.1,299.1 L197.3,297.7 L197.2,296.8 L197.1,295.9 L198.7,295.8 L198.4,294.7 L198.1,293.7 L196.3,292.9 L196.0,292.0 L195.6,291.1 L196.8,290.2 L196.3,289.1 L195.8,288.1 L194.2,288.1 L193.6,287.3 L193.1,286.4 L193.7,284.8 L193.0,283.9 L192.3,283.0 L191.1,283.9 L190.4,283.2 L189.8,282.5 L189.8,280.4 L189.0,279.7 L188.1,279.1 L187.5,280.7 L186.8,280.2 L186.1,279.8 L185.5,277.5 L184.6,277.1 L183.8,276.8 L183.8,278.9 L183.1,278.7 L182.4,278.6 L181.3,276.3 L180.5,276.3 L179.8,276.4 L180.4,278.7 L179.8,278.9 L179.3,279.1 L177.7,277.1 L177.2,277.5 L176.7,277.9 L177.8,280.2 L177.4,280.7 L177.1,281.2 L175.3,279.8 L175.0,280.5 L174.7,281.2 L176.2,283.2 L176.1,283.9 L176.0,284.7 L174.2,284.0 L174.1,284.9 L174.2,285.9 L175.9,287.3 L176.0,288.2 L176.2,289.1 L174.6,289.2 L174.8,290.3 L175.1,291.3 L176.9,292.1 L177.2,293.0 L177.6,293.9 L176.4,294.8 L176.9,295.9 L177.5,296.9 L179.1,296.9 L179.6,297.7 L180.2,298.6 L179.5,300.2 L180.2,301.1 L180.9,302.0 L182.1,301.1 L182.8,301.8 L183.5,302.5 L183.5,304.6 L184.3,305.3 L185.1,305.9 L185.8,304.3 L186.5,304.8 L187.2,305.2 L187.8,307.5 L188.6,307.9 L189.4,308.2 L189.5,306.1 L190.1,306.3 L190.8,306.4 L192.0,308.7 L192.7,308.7 L193.4,308.6 L192.8,306.3 L193.4,306.1 L193.9,305.9 L195.5,307.9Z" fill="none" stroke="#000" stroke-width="0.75" />
</g>
<path d="M180.8,316.4 L181.3,316.0 L181.9,315.6 L180.7,313.3 L181.1,312.8 L181.5,312.3 L183.2,313.7 L183.6,313.0 L183.8,312.3 L182.3,310.3 L182.4,309.6 L182.5,308.8 L184.3,309.5 L184.4,308.6 L184.4,307.6 L182.6,306.2 L182.5,305.3 L182.4,304.4 L183.9,304.3 L183.7,303.2 L183.4,302.2 L181.6,301.4 L181.3,300.5 L180.9,299.6 L182.1,298.7 L181.6,297.6 L181.0,296.6 L179.4,296.6 L178.9,295.8 L178.4,294.9 L179.0,293.3 L178.3,292.4 L177.6,291.5 L176.4,292.4 L175.7,291.7 L175.0,291.0 L175.1,288.9 L174.2,288.2 L173.4,287.6 L172.8,289.2 L172.1,288.7 L171.3,288.3 L170.7,286.0 L169.9,285.6 L169.1,285.3 L169.1,287.4 L168.4,287.2 L167.7,287.1 L166.6,284.8 L165.8,284.8 L165.1,284.9 L165.7,287.2 L165.1,287.4 L164.6,287.6 L163.0,285.6 L162.5,286.0 L161.9,286.4 L163.1,288.7 L162.7,289.2 L162.3,289.7 L160.6,288.3 L160.2,289.0 L160.0,289.7 L161.5,291.7 L161.4,292.4 L161.2,293.2 L159.5,292.5 L159.4,293.4 L159.4,294.4 L161.2,295.8 L161.3,296.7 L161.4,297.6 L159.9,297.7 L160.1,298.8 L160.4,299.8 L162.2,300.6 L162.5,301.5 L162.9,302.4 L161.7,303.3 L162.2,304.4 L162.8,305.4 L164.4,305.4 L164.9,306.2 L165.4,307.1 L164.8,308.7 L165.5,309.6 L166.2,310.5 L167.4,309.6 L168.1,310.3 L168.8,311.0 L168.7,313.1 L169.6,313.8 L170.4,314.4 L171.0,312.8 L171.7,313.3 L172.5,313.7 L173.1,316.0 L173.9,316.4 L174.7,316.7 L174.7,314.6 L175.4,314.8 L176.1,314.9 L177.2,317.2 L178.0,317.2 L178.7,317.1 L178.1,314.8 L178.7,314.6 L179.2,314.4 L180.8,316.4Z" fill="none" stroke="#000" stroke-width="0.9" />
<path d="M137.6,345.3 L139.6,342.8 L140.7,339.3 L140.9,335.0 L140.0,330.4 L138.2,325.7 L135.6,321.2 L132.4,317.3 L128.8,314.2 L125.1,312.2 L121.5,311.4 L118.3,311.9" fill="none" stroke="#000" stroke-width="0.81" />
<path d="M121.7,343.9 L122.5,344.6 L123.4,345.3 L124.3,345.8 L125.2,346.3 L126.1,346.8 L126.9,347.1 L127.8,347.4 L128.7,347.7 L129.5,347.9 L130.3,348.0 L131.2,348.0 L131.9,347.9 L132.7,347.8 L133.4,347.6 L134.1,347.4 L134.8,347.1 L135.4,346.7 L136.0,346.2 L136.5,345.7 L137.0,345.1 L137.5,344.5 L137.9,343.8 L138.2,343.0 L138.5,342.2 L138.8,341.4 L139.0,340.5 L139.1,339.5 L139.2,338.6 L139.2,337.6 L139.2,336.5 L139.1,335.5 L138.9,334.4 L138.7,333.3 L138.5,332.2 L138.2,331.1 L137.8,329.9 L137.4,328.8 L136.9,327.7 L136.4,326.6 L135.9,325.5 L135.3,324.4 L134.7,323.4 L134.0,322.4 L133.3,321.4 L132.6,320.4 L131.8,319.5 L131.0,318.6 L130.2,317.8 L129.4,317.0 L128.5,316.3 L127.6,315.6 L126.8,315.0 L125.9,314.4 L125.0,314.0 L124.1,313.5 L123.2,313.2 L122.4,312.9 L121.5,312.7 L120.7,312.5 L119.8,312.4 L119.0,312.4 L118.3,312.5 L117.5,312.6 L116.8,312.8 L116.1,313.1 L115.4,313.4 L114.8,313.8 L114.3,314.3 L113.7,314.8 L113.3,315.4 L112.8,316.1 L112.4,316.8 L112.1,317.6 L111.8,318.4 L111.6,319.2 L111.4,320.2 L111.3,321.1 L111.2,322.1 L111.2,323.1 L111.3,324.1 L111.4,325.2 L111.5,326.3 L111.7,327.4 L112.0,328.5 L112.3,329.6 L112.7,330.7 L113.1,331.9 L113.6,333.0 L114.1,334.1 L114.6,335.2 L116.8,334.2 L116.3,333.3 L115.9,332.4 L115.5,331.5 L115.2,330.6 L114.9,329.7 L114.6,328.8 L114.4,328.0 L114.3,327.1 L114.1,326.2 L114.0,325.3 L114.0,324.5 L114.0,323.7 L114.1,322.9 L114.2,322.2 L114.3,321.4 L114.5,320.7 L114.7,320.1 L115.0,319.5 L115.3,318.9 L115.6,318.4 L116.0,317.9 L116.4,317.5 L116.9,317.1 L117.4,316.8 L117.9,316.5 L118.5,316.3 L119.0,316.1 L119.7,316.0 L120.3,316.0 L120.9,316.0 L121.6,316.1 L122.3,316.2 L122.9,316.3 L123.6,316.6 L124.3,316.9 L125.0,317.2 L125.8,317.6 L126.5,318.0 L127.2,318.5 L127.8,319.1 L128.5,319.6 L129.2,320.3 L129.8,320.9 L130.5,321.6 L131.1,322.4 L131.7,323.1 L132.2,323.9 L132.8,324.7 L133.3,325.6 L133.8,326.4 L134.2,327.3 L134.6,328.2 L135.0,329.1 L135.3,330.0 L135.6,330.9 L135.8,331.8 L136.0,332.7 L136.2,333.5 L136.3,334.4 L136.4,335.3 L136.4,336.1 L136.4,336.9 L136.3,337.7 L136.2,338.4 L136.1,339.1 L135.9,339.8 L135.6,340.5 L135.3,341.1 L135.0,341.6 L134.7,342.1 L134.3,342.6 L133.8,343.0 L133.4,343.4 L132.9,343.7 L132.3,343.9 L131.8,344.1 L131.2,344.3 L130.6,344.4 L130.0,344.4 L129.3,344.4 L128.7,344.3 L128.0,344.2 L127.3,344.0 L126.6,343.8 L125.9,343.5 L125.2,343.1 L124.5,342.7 L123.8,342.2 L123.1,341.7 L122.4,341.2Z" fill="#fff" stroke="#000" stroke-width="0.9" />
<path d="M126.5,315.1 L126.2,311.4 L121.7,309.4 L121.9,313.1" fill="#fff" stroke="#000" stroke-width="0.9" />
<line x1="123.95" y1="310.22" x2="124.14" y2="313.21" stroke="#000" stroke-width="0.7200000000000001"/>
<path d="M125.5,317.5 L124.4,317.9 L123.2,316.4" fill="#fff" stroke="#000" stroke-width="0.81" />
<path d="M111.4,355.0 L111.8,354.7 L112.1,354.4 L112.5,354.1 L112.8,353.8 L113.1,353.4 L113.4,353.0 L113.6,352.5 L113.8,352.0 L114.0,351.5 L114.2,351.0 L114.3,350.4 L114.4,349.8 L114.5,349.2 L114.5,348.6 L114.5,347.9 L114.5,347.2 L114.4,346.6 L114.4,345.9 L114.3,345.2 L114.1,344.4 L114.0,343.7 L113.8,343.0 L113.5,342.2 L113.3,341.5 L113.0,340.8 L112.7,340.0 L112.4,339.3 L112.0,338.6 L111.7,337.8 L111.3,337.1 L110.9,336.4 L110.4,335.8 L110.0,335.1 L109.5,334.4 L109.0,333.8 L108.5,333.2 L108.0,332.6 L107.5,332.1 L106.9,331.5 L106.4,331.0 L105.8,330.5 L105.3,330.1 L104.7,329.7 L104.1,329.3 L103.6,328.9 L103.0,328.6 L102.4,328.3 L101.9,328.1 L101.3,327.9 L100.7,327.7 L100.2,327.6 L99.7,327.5 L99.1,327.4 L98.6,327.4 L98.1,327.4 L97.6,327.5 L97.2,327.6 L96.7,327.7 L96.3,327.9 L95.9,328.1 L87.3,335.4 L87.0,335.6 L86.7,335.8 L86.4,336.1 L86.1,336.4 L85.9,336.8 L85.6,337.1 L85.4,337.5 L85.2,337.9 L85.1,338.4 L84.9,338.8 L84.8,339.3 L84.7,339.9 L84.7,340.4 L84.6,340.9 L84.6,341.5 L84.6,342.1 L84.7,342.7 L84.7,343.3 L84.8,343.9 L85.0,344.5 L85.1,345.2 L85.3,345.8 L85.5,346.5 L85.7,347.1 L85.9,347.7 L86.2,348.4 L86.5,349.0 L86.8,349.7 L87.1,350.3 L87.4,350.9 L87.8,351.5 L88.2,352.1 L88.6,352.7 L89.0,353.2 L89.4,353.8 L89.8,354.3 L90.3,354.8 L90.8,355.3 L91.2,355.8 L91.7,356.2 L92.2,356.6 L92.7,357.0 L93.2,357.4 L93.7,357.7 L94.2,358.0 L94.7,358.3 L95.2,358.6 L95.6,358.8 L96.1,359.0 L96.6,359.1 L97.1,359.2 L97.6,359.3 L98.0,359.3 L98.5,359.4 L98.9,359.3 L99.3,359.3 L99.7,359.2 L100.1,359.1 L100.5,358.9 L100.8,358.7Z" fill="#fff" stroke="#000" stroke-width="0.9" />
<path d="M101.6,358.2 L112.3,354.3 M103.0,356.2 L113.8,352.0 M103.3,355.1 L114.2,350.7 M103.6,352.0 L114.5,347.2 M103.4,350.6 L114.3,345.6 M102.5,347.0 L113.3,341.5 M101.9,345.5 L112.6,339.7 M100.0,342.0 L110.4,335.8 M99.0,340.6 L109.3,334.2 M96.5,337.9 L106.4,331.0 M95.3,336.9 L105.0,329.9 M92.6,335.3 L101.9,328.1 M91.4,335.0 L100.5,327.7 M88.9,334.8 L97.6,327.5 M87.9,335.1 L96.5,327.8" fill="none" stroke="#000" stroke-width="0.75" />
<path d="M100.8,358.7 L101.4,358.4 L101.8,358.0 L101.3,356.6 L101.6,356.1 L101.9,355.6 L103.0,356.2 L103.2,355.5 L103.4,354.7 L102.5,353.5 L102.6,352.8 L102.6,352.0 L103.6,352.0 L103.5,351.1 L103.4,350.2 L102.3,349.3 L102.1,348.4 L101.9,347.6 L102.5,347.0 L102.1,346.0 L101.7,345.1 L100.7,344.7 L100.2,343.9 L99.8,343.0 L100.0,342.0 L99.4,341.1 L98.8,340.3 L97.9,340.5 L97.3,339.8 L96.7,339.2 L96.5,337.9 L95.8,337.2 L95.0,336.7 L94.5,337.4 L93.8,337.0 L93.1,336.7 L92.6,335.3 L91.8,335.1 L91.1,334.9 L91.0,336.0 L90.4,336.0 L89.8,336.0 L88.9,334.8 L88.3,335.0 L87.7,335.2 L88.0,336.5 L87.6,336.8 L87.2,337.2 L86.1,336.4 L85.7,336.9 L85.4,337.5 L86.1,338.8 L85.9,339.5 L85.7,340.1 L84.7,339.9 L84.6,340.7 L84.6,341.5 L85.6,342.6 L85.6,343.4 L85.8,344.2 L85.0,344.5 L85.2,345.5 L85.5,346.5 L86.5,347.1 L86.9,348.0 L87.2,348.8 L86.8,349.7 L87.3,350.6 L87.8,351.5 L88.8,351.6 L89.3,352.4 L89.9,353.1 L89.8,354.3 L90.5,355.1 L91.2,355.8 L91.9,355.3 L92.6,355.9 L93.3,356.4 L93.7,357.7 L94.4,358.2 L95.2,358.6 L95.5,357.6 L96.2,357.8 L96.8,358.0 L97.6,359.3 L98.2,359.4 L98.9,359.3 L98.8,358.1 L99.3,357.9 L99.9,357.7 L100.8,358.7Z" fill="#fff" stroke="#000" stroke-width="0.9" />
<ellipse cx="92.8" cy="347.8" rx="8.21" ry="14.40" transform="rotate(-30 92.8 347.8)" fill="#fff" stroke="#000" stroke-width="0.9"/>
<ellipse cx="92.8" cy="347.8" rx="6.57" ry="11.52" transform="rotate(-30 92.8 347.8)" fill="#fff" stroke="#000" stroke-width="0.9"/>
<path d="M82.3,377.2 L82.8,376.9 L83.3,376.5 L83.7,376.1 L84.1,375.7 L84.5,375.2 L84.8,374.7 L85.1,374.1 L85.4,373.5 L85.7,372.8 L85.9,372.2 L86.0,371.4 L86.1,370.7 L86.2,369.9 L86.3,369.1 L86.3,368.3 L86.3,367.5 L86.2,366.6 L86.1,365.7 L86.0,364.8 L85.8,363.9 L85.6,363.0 L85.4,362.1 L85.1,361.1 L84.8,360.2 L84.4,359.2 L84.0,358.3 L83.6,357.4 L83.2,356.5 L82.7,355.6 L82.2,354.7 L81.7,353.8 L81.1,352.9 L80.6,352.1 L80.0,351.3 L79.3,350.5 L78.7,349.7 L78.0,349.0 L77.4,348.2 L76.7,347.6 L76.0,346.9 L75.3,346.3 L74.6,345.8 L73.9,345.2 L73.2,344.7 L72.4,344.3 L71.7,343.9 L71.0,343.5 L70.3,343.2 L69.6,343.0 L68.9,342.8 L68.2,342.6 L67.5,342.5 L66.8,342.4 L66.2,342.4 L65.6,342.4 L65.0,342.5 L64.4,342.6 L63.8,342.8 L63.2,343.0 L62.7,343.3 L54.5,348.0 L54.0,348.3 L53.5,348.7 L53.1,349.1 L52.7,349.6 L52.3,350.1 L52.0,350.6 L51.7,351.2 L51.4,351.8 L51.2,352.4 L51.0,353.1 L50.8,353.8 L50.7,354.6 L50.6,355.3 L50.5,356.1 L50.5,356.9 L50.6,357.8 L50.6,358.7 L50.7,359.5 L50.8,360.4 L51.0,361.4 L51.2,362.3 L51.5,363.2 L51.8,364.1 L52.1,365.1 L52.4,366.0 L52.8,366.9 L53.2,367.9 L53.7,368.8 L54.1,369.7 L54.6,370.6 L55.2,371.5 L55.7,372.3 L56.3,373.2 L56.9,374.0 L57.5,374.8 L58.1,375.6 L58.8,376.3 L59.4,377.0 L60.1,377.7 L60.8,378.3 L61.5,378.9 L62.2,379.5 L62.9,380.0 L63.7,380.5 L64.4,381.0 L65.1,381.4 L65.8,381.7 L66.5,382.0 L67.2,382.3 L67.9,382.5 L68.6,382.7 L69.3,382.8 L70.0,382.8 L70.6,382.9 L71.3,382.8 L71.9,382.8 L72.5,382.6 L73.0,382.5 L73.6,382.2 L74.1,382.0Z" fill="#fff" stroke="#000" stroke-width="0.9" stroke-dasharray="10,2.5"/>
<ellipse cx="64.3" cy="365.0" rx="11.17" ry="19.60" transform="rotate(-30 64.3 365.0)" fill="#fff" stroke="#000" stroke-width="0.9" stroke-dasharray="10,2.5"/>
<ellipse cx="64.3" cy="365.0" rx="9.16" ry="16.07" transform="rotate(-30 64.3 365.0)" fill="none" stroke="#000" stroke-width="0.765" stroke-dasharray="10,2.5"/>
<path d="M62.9,349.6 L61.7,352.5 L61.6,356.3 L62.6,360.6 L64.6,364.8 L67.3,368.7 L70.5,371.7 L73.8,373.5 L76.9,373.9" fill="none" stroke="#000" stroke-width="0.63" stroke-dasharray="10,2.5"/>
<path d="M587.7,233.2 L588.1,232.9 L588.6,232.5 L589.0,232.1 L589.4,231.7 L589.8,231.2 L590.1,230.7 L590.4,230.1 L590.7,229.5 L590.9,228.9 L591.1,228.2 L591.3,227.5 L591.4,226.8 L591.5,226.0 L591.6,225.2 L591.6,224.4 L591.6,223.6 L591.5,222.7 L591.4,221.9 L591.3,221.0 L591.1,220.1 L590.9,219.2 L590.6,218.3 L590.4,217.4 L590.1,216.4 L589.7,215.5 L589.3,214.6 L588.9,213.7 L588.5,212.8 L588.0,211.9 L587.5,211.0 L587.0,210.1 L586.5,209.3 L585.9,208.5 L585.3,207.6 L584.7,206.9 L584.1,206.1 L583.4,205.4 L582.8,204.7 L582.1,204.0 L581.4,203.4 L580.7,202.8 L580.0,202.2 L579.3,201.7 L578.6,201.2 L577.9,200.8 L577.2,200.4 L576.5,200.0 L575.8,199.7 L575.1,199.5 L574.4,199.3 L573.7,199.1 L573.1,199.0 L572.4,198.9 L571.8,198.9 L571.2,198.9 L570.6,199.0 L570.0,199.1 L569.4,199.3 L568.9,199.5 L568.4,199.8 L560.1,204.6 L559.6,204.9 L559.1,205.3 L558.7,205.7 L558.3,206.1 L557.9,206.6 L557.6,207.1 L557.3,207.7 L557.0,208.3 L556.8,208.9 L556.6,209.6 L556.4,210.3 L556.3,211.0 L556.2,211.8 L556.2,212.6 L556.1,213.4 L556.2,214.2 L556.2,215.1 L556.3,215.9 L556.5,216.8 L556.6,217.7 L556.8,218.6 L557.1,219.5 L557.3,220.4 L557.7,221.4 L558.0,222.3 L558.4,223.2 L558.8,224.1 L559.2,225.0 L559.7,225.9 L560.2,226.8 L560.7,227.7 L561.2,228.5 L561.8,229.3 L562.4,230.2 L563.0,230.9 L563.6,231.7 L564.3,232.4 L564.9,233.1 L565.6,233.8 L566.3,234.4 L567.0,235.0 L567.7,235.6 L568.4,236.1 L569.1,236.6 L569.8,237.0 L570.5,237.4 L571.2,237.8 L571.9,238.1 L572.6,238.3 L573.3,238.5 L574.0,238.7 L574.6,238.8 L575.3,238.9 L575.9,238.9 L576.6,238.9 L577.2,238.8 L577.7,238.7 L578.3,238.5 L578.8,238.3 L579.4,238.0Z" fill="#fff" stroke="#000" stroke-width="0.9" stroke-dasharray="10,2.5"/>
<ellipse cx="569.7" cy="221.3" rx="11.00" ry="19.30" transform="rotate(-30 569.7 221.3)" fill="#fff" stroke="#000" stroke-width="0.9" stroke-dasharray="10,2.5"/>
<ellipse cx="569.7" cy="221.3" rx="9.24" ry="16.21" transform="rotate(-30 569.7 221.3)" fill="none" stroke="#000" stroke-width="0.765" stroke-dasharray="10,2.5"/>
<path d="M568.3,205.8 L567.1,208.7 L567.0,212.5 L568.0,216.8 L570.0,221.1 L572.7,225.0 L576.0,228.0 L579.3,229.8 L582.5,230.3" fill="none" stroke="#000" stroke-width="0.63" stroke-dasharray="10,2.5"/>
<path d="M556.4,247.3 L556.8,247.0 L557.2,246.7 L557.5,246.4 L557.8,246.1 L558.1,245.7 L558.4,245.3 L558.6,244.8 L558.9,244.3 L559.0,243.8 L559.2,243.3 L559.3,242.7 L559.4,242.1 L559.5,241.5 L559.5,240.9 L559.5,240.2 L559.5,239.5 L559.5,238.9 L559.4,238.2 L559.3,237.5 L559.2,236.7 L559.0,236.0 L558.8,235.3 L558.6,234.5 L558.3,233.8 L558.1,233.1 L557.8,232.3 L557.4,231.6 L557.1,230.9 L556.7,230.1 L556.3,229.4 L555.9,228.7 L555.5,228.1 L555.0,227.4 L554.5,226.7 L554.0,226.1 L553.5,225.5 L553.0,224.9 L552.5,224.4 L552.0,223.8 L551.4,223.3 L550.9,222.8 L550.3,222.4 L549.7,222.0 L549.2,221.6 L548.6,221.2 L548.0,220.9 L547.5,220.6 L546.9,220.4 L546.3,220.2 L545.8,220.0 L545.2,219.9 L544.7,219.8 L544.2,219.7 L543.7,219.7 L543.2,219.7 L542.7,219.8 L542.2,219.9 L541.8,220.0 L541.3,220.2 L540.9,220.4 L533.2,227.2 L532.9,227.4 L532.6,227.6 L532.3,227.9 L532.0,228.2 L531.8,228.6 L531.5,228.9 L531.3,229.3 L531.1,229.7 L531.0,230.2 L530.8,230.6 L530.7,231.1 L530.6,231.7 L530.6,232.2 L530.5,232.7 L530.5,233.3 L530.5,233.9 L530.6,234.5 L530.6,235.1 L530.7,235.7 L530.9,236.3 L531.0,237.0 L531.2,237.6 L531.4,238.3 L531.6,238.9 L531.8,239.5 L532.1,240.2 L532.4,240.8 L532.7,241.5 L533.0,242.1 L533.3,242.7 L533.7,243.3 L534.1,243.9 L534.5,244.5 L534.9,245.0 L535.3,245.6 L535.7,246.1 L536.2,246.6 L536.7,247.1 L537.1,247.6 L537.6,248.0 L538.1,248.4 L538.6,248.8 L539.1,249.2 L539.6,249.5 L540.1,249.8 L540.6,250.1 L541.1,250.4 L541.5,250.6 L542.0,250.8 L542.5,250.9 L543.0,251.0 L543.5,251.1 L543.9,251.1 L544.4,251.2 L544.8,251.1 L545.2,251.1 L545.6,251.0 L546.0,250.9 L546.4,250.7 L546.7,250.5Z" fill="#fff" stroke="#000" stroke-width="0.9" />
<path d="M547.5,250.0 L557.3,246.6 M548.9,248.0 L558.9,244.3 M549.2,246.9 L559.3,243.0 M549.5,243.8 L559.5,239.5 M549.3,242.4 L559.4,237.9 M548.4,238.8 L558.3,233.8 M547.8,237.3 L557.6,232.0 M545.9,233.8 L555.5,228.1 M544.9,232.4 L554.3,226.5 M542.4,229.7 L551.4,223.3 M541.2,228.7 L550.1,222.2 M538.5,227.1 L546.9,220.4 M537.3,226.8 L545.6,220.0 M534.8,226.6 L542.7,219.8 M533.8,226.9 L541.6,220.1" fill="none" stroke="#000" stroke-width="0.75" />
<path d="M546.7,250.5 L547.3,250.2 L547.7,249.8 L547.2,248.4 L547.5,247.9 L547.8,247.4 L548.9,248.0 L549.1,247.3 L549.3,246.5 L548.4,245.3 L548.5,244.6 L548.5,243.8 L549.5,243.8 L549.4,242.9 L549.3,242.0 L548.2,241.1 L548.0,240.2 L547.8,239.4 L548.4,238.8 L548.0,237.8 L547.6,236.9 L546.6,236.5 L546.1,235.7 L545.7,234.8 L545.9,233.8 L545.3,232.9 L544.7,232.1 L543.8,232.3 L543.2,231.6 L542.6,231.0 L542.4,229.7 L541.7,229.0 L540.9,228.5 L540.4,229.2 L539.7,228.8 L539.0,228.5 L538.5,227.1 L537.7,226.9 L537.0,226.7 L536.9,227.8 L536.3,227.8 L535.7,227.8 L534.8,226.6 L534.2,226.8 L533.6,227.0 L533.9,228.3 L533.5,228.6 L533.1,229.0 L532.0,228.2 L531.6,228.7 L531.3,229.3 L532.0,230.6 L531.8,231.3 L531.6,231.9 L530.6,231.7 L530.5,232.5 L530.5,233.3 L531.5,234.4 L531.5,235.2 L531.7,236.0 L530.9,236.3 L531.1,237.3 L531.4,238.3 L532.4,238.9 L532.8,239.8 L533.1,240.6 L532.7,241.5 L533.2,242.4 L533.7,243.3 L534.7,243.4 L535.2,244.2 L535.8,244.9 L535.7,246.1 L536.4,246.9 L537.1,247.6 L537.8,247.1 L538.5,247.7 L539.2,248.2 L539.6,249.5 L540.3,250.0 L541.1,250.4 L541.4,249.4 L542.1,249.6 L542.7,249.8 L543.5,251.1 L544.1,251.2 L544.8,251.1 L544.7,249.9 L545.2,249.7 L545.8,249.5 L546.7,250.5Z" fill="#fff" stroke="#000" stroke-width="0.9" />
<ellipse cx="538.7" cy="239.6" rx="8.26" ry="14.50" transform="rotate(-30 538.7 239.6)" fill="#fff" stroke="#000" stroke-width="0.9"/>
<ellipse cx="538.7" cy="239.6" rx="6.61" ry="11.60" transform="rotate(-30 538.7 239.6)" fill="#fff" stroke="#000" stroke-width="0.9"/>
<path d="M525.9,259.3 L526.2,259.1 L526.4,258.9 L526.7,258.7 L526.9,258.4 L527.1,258.1 L527.3,257.8 L527.5,257.5 L527.6,257.2 L527.7,256.8 L527.9,256.4 L527.9,256.0 L528.0,255.6 L528.1,255.2 L528.1,254.7 L528.1,254.3 L528.1,253.8 L528.1,253.3 L528.0,252.8 L527.9,252.3 L527.8,251.8 L527.7,251.3 L527.6,250.8 L527.4,250.2 L527.2,249.7 L527.0,249.2 L526.8,248.7 L526.6,248.1 L526.3,247.6 L526.1,247.1 L525.8,246.6 L525.5,246.1 L525.2,245.6 L524.9,245.2 L524.5,244.7 L524.2,244.3 L523.8,243.8 L523.5,243.4 L523.1,243.0 L522.7,242.6 L522.3,242.3 L521.9,241.9 L521.5,241.6 L521.1,241.3 L520.7,241.0 L520.3,240.8 L519.9,240.6 L519.5,240.4 L519.1,240.2 L518.7,240.1 L518.3,239.9 L517.9,239.8 L517.6,239.8 L517.2,239.7 L516.8,239.7 L516.5,239.7 L516.1,239.8 L515.8,239.9 L515.5,239.9 L515.2,240.1 L514.9,240.2 L501.4,248.0 L501.2,248.2 L500.9,248.4 L500.7,248.6 L500.4,248.8 L500.2,249.1 L500.0,249.4 L499.9,249.7 L499.7,250.1 L499.6,250.4 L499.5,250.8 L499.4,251.2 L499.3,251.6 L499.3,252.1 L499.2,252.5 L499.2,253.0 L499.2,253.5 L499.3,253.9 L499.3,254.4 L499.4,254.9 L499.5,255.5 L499.6,256.0 L499.8,256.5 L499.9,257.0 L500.1,257.5 L500.3,258.1 L500.5,258.6 L500.7,259.1 L501.0,259.6 L501.2,260.1 L501.5,260.6 L501.8,261.1 L502.1,261.6 L502.4,262.1 L502.8,262.5 L503.1,263.0 L503.5,263.4 L503.9,263.8 L504.2,264.2 L504.6,264.6 L505.0,265.0 L505.4,265.3 L505.8,265.6 L506.2,265.9 L506.6,266.2 L507.0,266.5 L507.4,266.7 L507.8,266.9 L508.2,267.0 L508.6,267.2 L509.0,267.3 L509.4,267.4 L509.8,267.5 L510.1,267.5 L510.5,267.5 L510.9,267.5 L511.2,267.5 L511.5,267.4 L511.9,267.3 L512.2,267.2 L512.4,267.0Z" fill="#fff" stroke="#000" stroke-width="0.9" />
<ellipse cx="506.9" cy="257.5" rx="6.27" ry="11.00" transform="rotate(-30 506.9 257.5)" fill="#fff" stroke="#000" stroke-width="0.9"/>
<path d="M513.9,269.6 L514.4,269.3 L514.9,268.9 L514.2,267.3 L514.5,266.8 L514.8,266.3 L516.1,267.2 L516.3,266.5 L516.5,265.8 L515.5,264.4 L515.5,263.7 L515.6,263.0 L516.8,263.3 L516.8,262.4 L516.7,261.5 L515.4,260.5 L515.3,259.7 L515.1,258.9 L516.0,258.5 L515.7,257.5 L515.3,256.6 L514.1,256.1 L513.7,255.3 L513.3,254.5 L513.9,253.5 L513.3,252.6 L512.7,251.8 L511.7,252.0 L511.2,251.3 L510.6,250.6 L510.7,249.2 L510.0,248.5 L509.3,247.8 L508.6,248.7 L507.9,248.2 L507.3,247.7 L506.9,246.1 L506.2,245.7 L505.4,245.4 L505.2,246.7 L504.6,246.5 L504.0,246.4 L503.1,244.8 L502.5,244.7 L501.8,244.8 L502.1,246.4 L501.6,246.5 L501.1,246.7 L499.9,245.4 L470.5,262.4 L470.0,262.7 L469.6,263.1 L470.3,264.7 L469.9,265.2 L469.6,265.7 L468.4,264.8 L468.1,265.5 L467.9,266.2 L469.0,267.6 L468.9,268.3 L468.9,269.0 L467.7,268.7 L467.7,269.6 L467.8,270.5 L469.0,271.5 L469.2,272.3 L469.4,273.1 L468.4,273.5 L468.8,274.5 L469.1,275.4 L470.3,275.9 L470.7,276.7 L471.1,277.5 L470.6,278.5 L471.1,279.4 L471.7,280.2 L472.7,280.0 L473.3,280.7 L473.9,281.4 L473.8,282.8 L474.5,283.5 L475.2,284.2 L475.9,283.3 L476.5,283.8 L477.2,284.3 L477.6,285.9 L478.3,286.3 L479.0,286.6 L479.2,285.3 L479.9,285.5 L480.5,285.6 L481.3,287.2 L482.0,287.3 L482.6,287.2 L482.4,285.6 L482.9,285.5 L483.4,285.3 L484.5,286.6Z" fill="#fff" stroke="#000" stroke-width="0.9" />
<path d="M485.1,286.2 L514.6,269.2 M486.6,284.2 L516.1,267.2 M486.9,283.3 L516.4,266.3 M487.3,280.3 L516.8,263.3 M487.3,279.1 L516.7,262.1 M486.6,275.5 L516.0,258.5 M486.2,274.2 L515.6,257.2 M484.4,270.5 L513.9,253.5 M483.7,269.3 L513.1,252.3 M481.2,266.2 L510.7,249.2 M480.3,265.3 L509.7,248.3 M477.4,263.1 L506.9,246.1 M476.5,262.6 L505.9,245.6 M473.7,261.8 L503.1,244.8 M472.8,261.7 L502.3,244.7" fill="none" stroke="#000" stroke-width="0.8" />
<path d="M484.5,286.6 L485.0,286.3 L485.5,285.9 L484.7,284.3 L485.1,283.8 L485.4,283.3 L486.6,284.2 L486.9,283.5 L487.1,282.8 L486.0,281.4 L486.1,280.7 L486.2,280.0 L487.3,280.3 L487.3,279.4 L487.2,278.5 L486.0,277.5 L485.8,276.7 L485.6,275.9 L486.6,275.5 L486.3,274.5 L485.9,273.6 L484.7,273.1 L484.3,272.3 L483.9,271.5 L484.4,270.5 L483.9,269.6 L483.3,268.8 L482.3,269.0 L481.7,268.3 L481.1,267.6 L481.2,266.2 L480.5,265.5 L479.8,264.8 L479.1,265.7 L478.5,265.2 L477.9,264.7 L477.4,263.1 L476.7,262.7 L476.0,262.4 L475.8,263.7 L475.1,263.5 L474.5,263.4 L473.7,261.8 L473.0,261.7 L472.4,261.8 L472.6,263.4 L472.1,263.5 L471.6,263.7 L470.5,262.4 L470.0,262.7 L469.6,263.1 L470.3,264.7 L469.9,265.2 L469.6,265.7 L468.4,264.8 L468.1,265.5 L467.9,266.2 L469.0,267.6 L468.9,268.3 L468.9,269.0 L467.7,268.7 L467.7,269.6 L467.8,270.5 L469.0,271.5 L469.2,272.3 L469.4,273.1 L468.4,273.5 L468.8,274.5 L469.1,275.4 L470.3,275.9 L470.7,276.7 L471.1,277.5 L470.6,278.5 L471.1,279.4 L471.7,280.2 L472.7,280.0 L473.3,280.7 L473.9,281.4 L473.8,282.8 L474.5,283.5 L475.2,284.2 L475.9,283.3 L476.5,283.8 L477.2,284.3 L477.6,285.9 L478.3,286.3 L479.0,286.6 L479.2,285.3 L479.9,285.5 L480.5,285.6 L481.3,287.2 L482.0,287.3 L482.6,287.2 L482.4,285.6 L482.9,285.5 L483.4,285.3 L484.5,286.6Z" fill="#fff" stroke="#000" stroke-width="0.9" />
<path d="M484.0,285.8 L484.3,285.5 L484.6,285.3 L484.9,285.0 L485.2,284.7 L485.4,284.4 L485.7,284.1 L485.9,283.7 L486.1,283.3 L486.2,282.8 L486.3,282.4 L486.5,281.9 L486.5,281.4 L486.6,280.9 L486.6,280.4 L486.6,279.8 L486.6,279.3 L486.6,278.7 L486.5,278.1 L486.4,277.5 L486.3,276.9 L486.2,276.3 L486.0,275.7 L485.8,275.1 L485.6,274.5 L485.4,273.8 L485.1,273.2 L484.9,272.6 L484.6,272.0 L484.3,271.4 L483.9,270.8 L483.6,270.2 L483.2,269.6 L482.8,269.1 L482.4,268.5 L482.0,268.0 L481.6,267.5 L481.2,267.0 L480.7,266.5 L480.3,266.1 L479.8,265.7 L479.3,265.3 L478.9,264.9 L478.4,264.5 L477.9,264.2 L477.4,263.9 L477.0,263.7 L476.5,263.4 L476.0,263.2 L475.5,263.0 L475.1,262.9 L474.6,262.8 L474.2,262.7 L473.7,262.7 L473.3,262.6 L472.9,262.7 L472.5,262.7 L472.1,262.8 L471.7,262.9 L471.3,263.1 L471.0,263.2 L465.8,266.2 L465.5,266.5 L465.2,266.7 L464.9,267.0 L464.6,267.3 L464.4,267.6 L464.1,267.9 L463.9,268.3 L463.8,268.7 L463.6,269.2 L463.5,269.6 L463.4,270.1 L463.3,270.6 L463.2,271.1 L463.2,271.6 L463.2,272.2 L463.2,272.7 L463.2,273.3 L463.3,273.9 L463.4,274.5 L463.5,275.1 L463.6,275.7 L463.8,276.3 L464.0,276.9 L464.2,277.5 L464.4,278.2 L464.7,278.8 L465.0,279.4 L465.2,280.0 L465.6,280.6 L465.9,281.2 L466.2,281.8 L466.6,282.4 L467.0,282.9 L467.4,283.5 L467.8,284.0 L468.2,284.5 L468.6,285.0 L469.1,285.5 L469.5,285.9 L470.0,286.3 L470.5,286.7 L470.9,287.1 L471.4,287.5 L471.9,287.8 L472.4,288.1 L472.8,288.3 L473.3,288.6 L473.8,288.8 L474.3,289.0 L474.7,289.1 L475.2,289.2 L475.6,289.3 L476.1,289.3 L476.5,289.4 L476.9,289.3 L477.3,289.3 L477.7,289.2 L478.1,289.1 L478.5,288.9 L478.8,288.8Z" fill="#fff" stroke="#000" stroke-width="0.9" />
<ellipse cx="472.3" cy="277.5" rx="7.41" ry="13.00" transform="rotate(-30 472.3 277.5)" fill="#fff" stroke="#000" stroke-width="0.9"/>
<path d="M479.3,289.6 L479.8,289.3 L480.3,288.9 L479.5,287.3 L479.9,286.8 L480.2,286.3 L481.4,287.2 L481.7,286.5 L481.9,285.8 L480.8,284.4 L480.9,283.7 L481.0,283.0 L482.1,283.3 L482.1,282.4 L482.0,281.5 L480.8,280.5 L480.6,279.7 L480.4,278.9 L481.4,278.5 L481.1,277.5 L480.7,276.6 L479.5,276.1 L479.1,275.3 L478.7,274.5 L479.2,273.5 L478.7,272.6 L478.1,271.8 L477.1,272.0 L476.5,271.3 L475.9,270.6 L476.0,269.2 L475.3,268.5 L474.6,267.8 L473.9,268.7 L473.3,268.2 L472.7,267.7 L472.2,266.1 L471.5,265.7 L470.8,265.4 L470.6,266.7 L469.9,266.5 L469.3,266.4 L468.5,264.8 L467.8,264.7 L467.2,264.8 L467.5,266.4 L466.9,266.5 L466.4,266.7 L465.3,265.4 L435.0,282.9 L434.5,283.2 L434.0,283.6 L434.8,285.2 L434.4,285.7 L434.1,286.2 L432.9,285.3 L432.6,286.0 L432.4,286.7 L433.5,288.1 L433.4,288.8 L433.3,289.5 L432.2,289.2 L432.2,290.1 L432.3,291.0 L433.5,292.0 L433.7,292.8 L433.9,293.6 L432.9,294.0 L433.2,295.0 L433.6,295.9 L434.8,296.4 L435.2,297.2 L435.6,298.0 L435.1,299.0 L435.6,299.9 L436.2,300.7 L437.2,300.5 L437.8,301.2 L438.4,301.9 L438.3,303.3 L439.0,304.0 L439.7,304.7 L440.4,303.8 L441.0,304.3 L441.6,304.8 L442.1,306.4 L442.8,306.8 L443.5,307.1 L443.7,305.8 L444.4,306.0 L445.0,306.1 L445.8,307.7 L446.5,307.8 L447.1,307.7 L446.9,306.1 L447.4,306.0 L447.9,305.8 L449.0,307.1Z" fill="#fff" stroke="#000" stroke-width="0.9" />
<path d="M449.6,306.7 L480.0,289.2 M451.1,304.7 L481.4,287.2 M451.4,303.8 L481.7,286.3 M451.8,300.8 L482.1,283.3 M451.8,299.6 L482.1,282.1 M451.1,296.0 L481.4,278.5 M450.6,294.7 L481.0,277.2 M448.9,291.0 L479.2,273.5 M448.2,289.8 L478.5,272.3 M445.7,286.7 L476.0,269.2 M444.8,285.8 L475.1,268.3 M441.9,283.6 L472.2,266.1 M441.0,283.1 L471.3,265.6 M438.2,282.3 L468.5,264.8 M437.3,282.2 L467.6,264.7" fill="none" stroke="#000" stroke-width="0.8" />
<path d="M449.0,307.1 L449.5,306.8 L449.9,306.4 L449.2,304.8 L449.6,304.3 L449.9,303.8 L451.1,304.7 L451.4,304.0 L451.6,303.3 L450.5,301.9 L450.6,301.2 L450.6,300.5 L451.8,300.8 L451.8,299.9 L451.7,299.0 L450.5,298.0 L450.3,297.2 L450.1,296.4 L451.1,296.0 L450.8,295.0 L450.4,294.1 L449.2,293.6 L448.8,292.8 L448.4,292.0 L448.9,291.0 L448.4,290.1 L447.8,289.3 L446.8,289.5 L446.2,288.8 L445.6,288.1 L445.7,286.7 L445.0,286.0 L444.3,285.3 L443.6,286.2 L443.0,285.7 L442.4,285.2 L441.9,283.6 L441.2,283.2 L440.5,282.9 L440.3,284.2 L439.6,284.0 L439.0,283.9 L438.2,282.3 L437.5,282.2 L436.9,282.3 L437.1,283.9 L436.6,284.0 L436.1,284.2 L435.0,282.9 L434.5,283.2 L434.0,283.6 L434.8,285.2 L434.4,285.7 L434.1,286.2 L432.9,285.3 L432.6,286.0 L432.4,286.7 L433.5,288.1 L433.4,288.8 L433.3,289.5 L432.2,289.2 L432.2,290.1 L432.3,291.0 L433.5,292.0 L433.7,292.8 L433.9,293.6 L432.9,294.0 L433.2,295.0 L433.6,295.9 L434.8,296.4 L435.2,297.2 L435.6,298.0 L435.1,299.0 L435.6,299.9 L436.2,300.7 L437.2,300.5 L437.8,301.2 L438.4,301.9 L438.3,303.3 L439.0,304.0 L439.7,304.7 L440.4,303.8 L441.0,304.3 L441.6,304.8 L442.1,306.4 L442.8,306.8 L443.5,307.1 L443.7,305.8 L444.4,306.0 L445.0,306.1 L445.8,307.7 L446.5,307.8 L447.1,307.7 L446.9,306.1 L447.4,306.0 L447.9,305.8 L449.0,307.1Z" fill="#fff" stroke="#000" stroke-width="0.9" />
<path d="M447.7,305.0 L448.0,304.8 L448.3,304.6 L448.6,304.3 L448.8,304.1 L449.0,303.8 L449.2,303.5 L449.4,303.1 L449.6,302.8 L449.7,302.4 L449.8,302.0 L449.9,301.6 L450.0,301.1 L450.0,300.7 L450.1,300.2 L450.1,299.7 L450.1,299.2 L450.0,298.7 L450.0,298.2 L449.9,297.7 L449.8,297.1 L449.7,296.6 L449.5,296.1 L449.4,295.5 L449.2,295.0 L449.0,294.4 L448.7,293.9 L448.5,293.3 L448.2,292.8 L448.0,292.2 L447.7,291.7 L447.4,291.2 L447.0,290.7 L446.7,290.2 L446.4,289.7 L446.0,289.3 L445.6,288.8 L445.2,288.4 L444.8,288.0 L444.4,287.6 L444.0,287.2 L443.6,286.8 L443.2,286.5 L442.8,286.2 L442.4,285.9 L441.9,285.6 L441.5,285.4 L441.1,285.2 L440.7,285.0 L440.3,284.9 L439.9,284.7 L439.5,284.6 L439.1,284.6 L438.7,284.5 L438.3,284.5 L437.9,284.5 L437.6,284.6 L437.2,284.7 L436.9,284.8 L436.6,284.9 L436.2,285.0 L433.6,286.5 L433.4,286.7 L433.1,286.9 L432.8,287.2 L432.6,287.4 L432.4,287.7 L432.2,288.0 L432.0,288.4 L431.8,288.7 L431.7,289.1 L431.6,289.5 L431.5,289.9 L431.4,290.4 L431.4,290.8 L431.3,291.3 L431.3,291.8 L431.3,292.3 L431.4,292.8 L431.4,293.3 L431.5,293.8 L431.6,294.4 L431.7,294.9 L431.9,295.4 L432.0,296.0 L432.2,296.5 L432.4,297.1 L432.7,297.6 L432.9,298.2 L433.2,298.7 L433.4,299.3 L433.7,299.8 L434.0,300.3 L434.4,300.8 L434.7,301.3 L435.0,301.8 L435.4,302.2 L435.8,302.7 L436.2,303.1 L436.6,303.5 L437.0,303.9 L437.4,304.3 L437.8,304.7 L438.2,305.0 L438.6,305.3 L439.0,305.6 L439.5,305.9 L439.9,306.1 L440.3,306.3 L440.7,306.5 L441.1,306.6 L441.5,306.8 L441.9,306.9 L442.3,306.9 L442.7,307.0 L443.1,307.0 L443.5,307.0 L443.8,306.9 L444.2,306.8 L444.5,306.7 L444.8,306.6 L445.1,306.5Z" fill="#fff" stroke="#000" stroke-width="0.9" />
<ellipse cx="439.4" cy="296.5" rx="6.55" ry="11.50" transform="rotate(-30 439.4 296.5)" fill="#fff" stroke="#000" stroke-width="0.9"/>
<path d="M427.6,340.9 L428.5,340.4 L429.3,339.8 L430.1,339.1 L430.8,338.3 L431.4,337.4 L432.0,336.5 L432.5,335.5 L433.0,334.5 L433.4,333.3 L433.8,332.2 L434.0,330.9 L434.3,329.6 L434.4,328.3 L434.5,326.9 L434.5,325.5 L434.5,324.0 L434.4,322.5 L434.2,321.0 L434.0,319.4 L433.7,317.8 L433.3,316.2 L432.9,314.6 L432.4,313.0 L431.9,311.4 L431.3,309.8 L430.6,308.1 L429.9,306.5 L429.1,304.9 L428.3,303.4 L427.4,301.8 L426.5,300.3 L425.6,298.8 L424.6,297.3 L423.5,295.9 L422.5,294.5 L421.3,293.2 L420.2,291.9 L419.1,290.7 L417.9,289.5 L416.7,288.4 L415.5,287.3 L414.2,286.4 L413.0,285.4 L411.7,284.6 L410.5,283.8 L409.2,283.1 L408.0,282.5 L406.8,282.0 L405.5,281.5 L404.3,281.2 L403.1,280.9 L401.9,280.7 L400.8,280.5 L399.7,280.5 L398.6,280.6 L397.5,280.7 L396.5,280.9 L395.5,281.2 L394.5,281.6 L393.6,282.1 L382.9,288.3 L382.0,288.8 L381.2,289.4 L380.5,290.1 L379.8,290.9 L379.1,291.8 L378.5,292.7 L378.0,293.7 L377.5,294.7 L377.1,295.9 L376.8,297.0 L376.5,298.3 L376.3,299.6 L376.1,300.9 L376.0,302.3 L376.0,303.7 L376.1,305.2 L376.2,306.7 L376.3,308.2 L376.6,309.8 L376.9,311.4 L377.2,313.0 L377.7,314.6 L378.1,316.2 L378.7,317.8 L379.3,319.4 L379.9,321.1 L380.7,322.7 L381.4,324.3 L382.2,325.8 L383.1,327.4 L384.0,328.9 L385.0,330.4 L386.0,331.9 L387.0,333.3 L388.1,334.7 L389.2,336.0 L390.3,337.3 L391.5,338.5 L392.7,339.7 L393.9,340.8 L395.1,341.9 L396.3,342.8 L397.6,343.8 L398.8,344.6 L400.1,345.4 L401.3,346.1 L402.5,346.7 L403.8,347.2 L405.0,347.7 L406.2,348.0 L407.4,348.3 L408.6,348.5 L409.8,348.7 L410.9,348.7 L412.0,348.6 L413.0,348.5 L414.1,348.3 L415.1,348.0 L416.0,347.6 L416.9,347.1Z" fill="#fff" stroke="#000" stroke-width="1.0" stroke-dasharray="9,2"/>
<ellipse cx="399.9" cy="317.7" rx="19.38" ry="34.00" transform="rotate(-30 399.9 317.7)" fill="#fff" stroke="#000" stroke-width="1.0" stroke-dasharray="9,2"/>
<ellipse cx="399.9" cy="317.7" rx="17.05" ry="29.92" transform="rotate(-30 399.9 317.7)" fill="none" stroke="#000" stroke-width="0.85" stroke-dasharray="9,2"/>
<path d="M393.2,291.4 L391.0,296.8 L390.8,303.9 L392.6,311.8 L396.3,319.8 L401.4,326.9 L407.3,332.5 L413.5,335.8 L419.3,336.6" fill="none" stroke="#000" stroke-width="0.7" stroke-dasharray="9,2"/>
<path d="M378.9,350.8 L379.4,350.5 L379.8,350.2 L380.2,349.8 L380.6,349.4 L381.0,348.9 L381.3,348.4 L381.6,347.9 L381.8,347.3 L382.1,346.7 L382.3,346.0 L382.4,345.4 L382.5,344.7 L382.6,343.9 L382.7,343.2 L382.7,342.4 L382.7,341.6 L382.6,340.8 L382.5,340.0 L382.4,339.1 L382.2,338.2 L382.0,337.4 L381.8,336.5 L381.5,335.6 L381.2,334.7 L380.9,333.9 L380.5,333.0 L380.1,332.1 L379.7,331.2 L379.3,330.4 L378.8,329.5 L378.3,328.7 L377.8,327.9 L377.3,327.1 L376.7,326.3 L376.1,325.6 L375.5,324.8 L374.9,324.1 L374.3,323.5 L373.6,322.8 L373.0,322.2 L372.3,321.7 L371.6,321.1 L371.0,320.6 L370.3,320.2 L369.6,319.7 L368.9,319.4 L368.2,319.0 L367.6,318.7 L366.9,318.5 L366.2,318.3 L365.6,318.1 L364.9,318.0 L364.3,318.0 L363.7,317.9 L363.1,318.0 L362.5,318.0 L362.0,318.2 L361.4,318.3 L360.9,318.5 L360.4,318.8 L350.9,324.3 L350.4,324.6 L350.0,324.9 L349.6,325.3 L349.2,325.7 L348.9,326.2 L348.5,326.7 L348.2,327.2 L348.0,327.8 L347.8,328.4 L347.6,329.1 L347.4,329.7 L347.3,330.4 L347.2,331.2 L347.2,331.9 L347.2,332.7 L347.2,333.5 L347.2,334.3 L347.3,335.1 L347.5,336.0 L347.6,336.9 L347.8,337.7 L348.0,338.6 L348.3,339.5 L348.6,340.4 L348.9,341.2 L349.3,342.1 L349.7,343.0 L350.1,343.9 L350.6,344.7 L351.0,345.6 L351.5,346.4 L352.0,347.2 L352.6,348.0 L353.1,348.8 L353.7,349.5 L354.3,350.3 L354.9,351.0 L355.6,351.6 L356.2,352.3 L356.9,352.9 L357.5,353.4 L358.2,354.0 L358.9,354.5 L359.6,354.9 L360.2,355.4 L360.9,355.7 L361.6,356.1 L362.3,356.4 L362.9,356.6 L363.6,356.8 L364.3,357.0 L364.9,357.1 L365.5,357.1 L366.1,357.2 L366.7,357.1 L367.3,357.1 L367.9,356.9 L368.4,356.8 L368.9,356.6 L369.4,356.3Z" fill="#fff" stroke="#000" stroke-width="0.9" />
<ellipse cx="360.2" cy="340.3" rx="10.54" ry="18.50" transform="rotate(-30 360.2 340.3)" fill="#fff" stroke="#000" stroke-width="0.9"/>
<path d="M372.9,362.4 L373.6,362.0 L374.2,361.5 L372.3,357.8 L372.7,357.3 L373.2,356.7 L375.9,359.4 L376.4,358.7 L376.8,357.9 L374.3,354.6 L374.5,353.9 L374.8,353.1 L377.7,354.9 L377.9,353.9 L378.0,352.9 L375.2,350.3 L375.2,349.4 L375.2,348.4 L378.0,349.3 L377.9,348.1 L377.8,346.9 L374.8,345.2 L374.6,344.2 L374.4,343.1 L376.9,342.9 L376.5,341.6 L376.1,340.3 L373.3,339.7 L372.9,338.6 L372.4,337.6 L374.4,336.2 L373.8,335.0 L373.2,333.8 L370.7,334.2 L370.1,333.2 L369.5,332.2 L370.8,330.0 L370.0,328.8 L369.2,327.8 L367.3,329.2 L366.6,328.4 L365.8,327.5 L366.3,324.5 L365.4,323.6 L364.4,322.8 L363.3,325.1 L362.5,324.5 L361.6,323.9 L361.3,320.3 L360.3,319.7 L359.4,319.2 L359.0,322.3 L358.2,321.9 L357.4,321.6 L356.2,317.8 L355.3,317.5 L354.4,317.3 L354.8,320.9 L354.0,320.8 L353.3,320.8 L351.5,317.1 L350.6,317.1 L349.8,317.3 L351.1,321.1 L350.4,321.3 L349.8,321.6 L347.4,318.2 L330.1,328.2 L329.4,328.6 L328.8,329.1 L330.7,332.8 L330.3,333.3 L329.8,333.9 L327.1,331.2 L326.6,331.9 L326.2,332.7 L328.7,336.0 L328.4,336.7 L328.2,337.5 L325.3,335.7 L325.1,336.7 L325.0,337.7 L327.8,340.3 L327.8,341.2 L327.8,342.2 L325.0,341.3 L325.1,342.5 L325.2,343.7 L328.1,345.4 L328.3,346.4 L328.6,347.5 L326.1,347.7 L326.5,349.0 L326.9,350.3 L329.7,350.9 L330.1,352.0 L330.5,353.0 L328.6,354.4 L329.2,355.6 L329.8,356.8 L332.3,356.4 L332.9,357.4 L333.5,358.4 L332.2,360.6 L333.0,361.8 L333.8,362.8 L335.7,361.4 L336.4,362.2 L337.2,363.1 L336.7,366.1 L337.6,367.0 L338.5,367.8 L339.7,365.5 L340.5,366.1 L341.3,366.7 L341.7,370.3 L342.6,370.9 L343.6,371.4 L344.0,368.3 L344.8,368.7 L345.6,369.0 L346.8,372.8 L347.7,373.1 L348.6,373.3 L348.2,369.7 L348.9,369.8 L349.7,369.8 L351.5,373.5 L352.4,373.5 L353.2,373.3 L351.9,369.5 L352.6,369.3 L353.2,369.0 L355.6,372.4Z" fill="#fff" stroke="#000" stroke-width="1.0" />
<path d="M359.0,363.8 L373.7,359.2 M359.1,362.7 L374.3,358.5 M359.3,358.6 L375.8,355.6 M359.2,357.3 L376.1,354.6 M358.2,352.7 L376.6,350.8 M357.8,351.3 L376.6,349.6 M356.0,346.6 L376.1,345.1 M355.3,345.3 L375.8,343.8 M352.6,340.8 L374.3,339.0 M351.8,339.6 L373.8,337.7 M348.5,335.8 L371.4,333.0 M347.5,334.8 L370.6,331.8 M343.9,331.9 L367.5,327.7 M342.9,331.3 L366.6,326.6 M339.2,329.6 L363.1,323.3 M338.2,329.3 L362.1,322.5 M334.8,328.9 L358.4,320.3 M334.0,329.0 L357.4,319.9" fill="none" stroke="#000" stroke-width="0.8" />
<path d="M355.6,372.4 L356.2,372.0 L356.9,371.5 L354.9,367.8 L355.4,367.3 L355.8,366.7 L358.6,369.4 L359.1,368.7 L359.4,367.9 L357.0,364.6 L357.2,363.9 L357.4,363.1 L360.4,364.9 L360.5,363.9 L360.7,362.9 L357.9,360.3 L357.9,359.4 L357.9,358.4 L360.7,359.3 L360.6,358.1 L360.4,356.9 L357.5,355.2 L357.3,354.2 L357.1,353.1 L359.6,352.9 L359.2,351.6 L358.8,350.3 L356.0,349.7 L355.6,348.6 L355.1,347.6 L357.1,346.2 L356.5,345.0 L355.9,343.8 L353.4,344.2 L352.8,343.2 L352.2,342.2 L353.5,340.0 L352.7,338.8 L351.9,337.8 L350.0,339.2 L349.2,338.4 L348.5,337.5 L349.0,334.5 L348.1,333.6 L347.1,332.8 L345.9,335.1 L345.1,334.5 L344.3,333.9 L344.0,330.3 L343.0,329.7 L342.1,329.2 L341.7,332.3 L340.9,331.9 L340.0,331.6 L338.9,327.8 L338.0,327.5 L337.0,327.3 L337.5,330.9 L336.7,330.8 L336.0,330.8 L334.1,327.1 L333.3,327.1 L332.5,327.3 L333.7,331.1 L333.1,331.3 L332.5,331.6 L330.1,328.2 L329.4,328.6 L328.8,329.1 L330.7,332.8 L330.3,333.3 L329.8,333.9 L327.1,331.2 L326.6,331.9 L326.2,332.7 L328.7,336.0 L328.4,336.7 L328.2,337.5 L325.3,335.7 L325.1,336.7 L325.0,337.7 L327.8,340.3 L327.8,341.2 L327.8,342.2 L325.0,341.3 L325.1,342.5 L325.2,343.7 L328.1,345.4 L328.3,346.4 L328.6,347.5 L326.1,347.7 L326.5,349.0 L326.9,350.3 L329.7,350.9 L330.1,352.0 L330.5,353.0 L328.6,354.4 L329.2,355.6 L329.8,356.8 L332.3,356.4 L332.9,357.4 L333.5,358.4 L332.2,360.6 L333.0,361.8 L333.8,362.8 L335.7,361.4 L336.4,362.2 L337.2,363.1 L336.7,366.1 L337.6,367.0 L338.5,367.8 L339.7,365.5 L340.5,366.1 L341.3,366.7 L341.7,370.3 L342.6,370.9 L343.6,371.4 L344.0,368.3 L344.8,368.7 L345.6,369.0 L346.8,372.8 L347.7,373.1 L348.6,373.3 L348.2,369.7 L348.9,369.8 L349.7,369.8 L351.5,373.5 L352.4,373.5 L353.2,373.3 L351.9,369.5 L352.6,369.3 L353.2,369.0 L355.6,372.4Z" fill="#fff" stroke="#000" stroke-width="1.0" />
<path d="M356.2,373.8 L356.8,373.4 L357.4,372.9 L355.4,369.0 L355.8,368.6 L356.3,368.0 L359.2,371.0 L359.6,370.3 L360.0,369.6 L357.4,366.1 L357.7,365.4 L357.9,364.7 L361.0,366.8 L361.2,365.9 L361.4,364.9 L358.5,362.0 L358.6,361.2 L358.6,360.3 L361.6,361.5 L361.6,360.4 L361.5,359.3 L358.4,357.2 L358.3,356.2 L358.2,355.3 L361.0,355.4 L360.7,354.2 L360.4,353.0 L357.3,351.9 L357.0,350.9 L356.7,349.9 L359.0,349.0 L358.5,347.8 L358.0,346.6 L355.2,346.6 L354.7,345.5 L354.2,344.6 L356.0,342.7 L355.3,341.6 L354.6,340.4 L352.3,341.4 L351.6,340.5 L351.0,339.6 L352.0,336.9 L351.2,335.9 L350.4,334.9 L348.7,336.9 L347.9,336.1 L347.2,335.4 L347.5,332.0 L346.5,331.3 L345.6,330.5 L344.6,333.3 L343.9,332.8 L343.1,332.2 L342.5,328.4 L341.6,327.9 L340.7,327.4 L340.5,330.9 L339.7,330.6 L338.9,330.3 L337.6,326.3 L336.7,326.1 L335.8,325.9 L336.5,329.8 L335.7,329.7 L335.0,329.7 L333.1,325.8 L332.3,325.9 L331.5,326.1 L332.9,330.1 L332.3,330.3 L331.7,330.6 L329.2,327.0 L311.8,337.0 L311.2,337.4 L310.6,337.9 L312.6,341.8 L312.2,342.2 L311.7,342.8 L308.9,339.8 L308.4,340.5 L308.0,341.2 L310.6,344.7 L310.3,345.4 L310.1,346.1 L307.0,344.0 L306.8,344.9 L306.6,345.9 L309.5,348.8 L309.4,349.6 L309.4,350.5 L306.4,349.3 L306.4,350.4 L306.5,351.5 L309.6,353.6 L309.7,354.6 L309.8,355.5 L307.0,355.4 L307.3,356.6 L307.6,357.8 L310.7,358.9 L311.0,359.9 L311.3,360.9 L309.0,361.8 L309.5,363.0 L310.0,364.2 L312.8,364.2 L313.3,365.3 L313.8,366.2 L312.0,368.1 L312.7,369.2 L313.4,370.4 L315.7,369.4 L316.4,370.3 L317.0,371.2 L316.0,373.9 L316.8,374.9 L317.6,375.9 L319.3,373.9 L320.1,374.7 L320.8,375.4 L320.5,378.8 L321.5,379.5 L322.4,380.3 L323.4,377.5 L324.2,378.0 L324.9,378.6 L325.5,382.4 L326.4,382.9 L327.3,383.4 L327.5,379.9 L328.3,380.2 L329.1,380.5 L330.4,384.5 L331.3,384.7 L332.2,384.9 L331.5,381.0 L332.3,381.1 L333.0,381.1 L334.9,385.0 L335.7,384.9 L336.5,384.7 L335.1,380.7 L335.7,380.5 L336.3,380.2 L338.8,383.8Z" fill="#fff" stroke="#000" stroke-width="1.0" />
<path d="M342.2,375.5 L356.5,370.9 M342.5,374.5 L357.1,370.3 M342.8,370.6 L358.8,367.7 M342.8,369.4 L359.1,366.8 M342.2,365.0 L360.0,363.3 M341.9,363.7 L360.1,362.2 M340.4,359.1 L360.0,358.0 M339.9,357.8 L359.8,356.8 M337.6,353.3 L358.8,352.3 M336.9,352.1 L358.4,351.0 M334.0,348.0 L356.5,346.4 M333.1,346.9 L355.9,345.1 M329.7,343.5 L353.3,340.7 M328.8,342.7 L352.5,339.6 M325.2,340.2 L349.4,335.8 M324.2,339.6 L348.4,334.8 M320.7,338.2 L345.0,331.8 M319.8,338.0 L344.0,331.1 M316.5,337.8 L340.4,329.1 M315.7,337.9 L339.4,328.7" fill="none" stroke="#000" stroke-width="0.8" />
<path d="M338.8,383.8 L339.5,383.4 L340.1,382.9 L338.0,379.0 L338.5,378.6 L338.9,378.0 L341.8,381.0 L342.3,380.3 L342.7,379.6 L340.1,376.1 L340.4,375.4 L340.6,374.7 L343.7,376.8 L343.9,375.9 L344.1,374.9 L341.2,372.0 L341.2,371.2 L341.3,370.3 L344.3,371.5 L344.3,370.4 L344.2,369.3 L341.1,367.2 L341.0,366.2 L340.8,365.3 L343.6,365.4 L343.4,364.2 L343.0,363.0 L340.0,361.9 L339.7,360.9 L339.3,359.9 L341.7,359.0 L341.2,357.8 L340.7,356.6 L337.9,356.6 L337.4,355.5 L336.9,354.6 L338.7,352.7 L338.0,351.6 L337.3,350.4 L335.0,351.4 L334.3,350.5 L333.7,349.6 L334.7,346.9 L333.9,345.9 L333.0,344.9 L331.3,346.9 L330.6,346.1 L329.8,345.4 L330.1,342.0 L329.2,341.3 L328.3,340.5 L327.3,343.3 L326.5,342.8 L325.7,342.2 L325.2,338.4 L324.3,337.9 L323.3,337.4 L323.2,340.9 L322.4,340.6 L321.6,340.3 L320.3,336.3 L319.4,336.1 L318.5,335.9 L319.1,339.8 L318.4,339.7 L317.7,339.7 L315.7,335.8 L314.9,335.9 L314.2,336.1 L315.6,340.1 L314.9,340.3 L314.4,340.6 L311.8,337.0 L311.2,337.4 L310.6,337.9 L312.6,341.8 L312.2,342.2 L311.7,342.8 L308.9,339.8 L308.4,340.5 L308.0,341.2 L310.6,344.7 L310.3,345.4 L310.1,346.1 L307.0,344.0 L306.8,344.9 L306.6,345.9 L309.5,348.8 L309.4,349.6 L309.4,350.5 L306.4,349.3 L306.4,350.4 L306.5,351.5 L309.6,353.6 L309.7,354.6 L309.8,355.5 L307.0,355.4 L307.3,356.6 L307.6,357.8 L310.7,358.9 L311.0,359.9 L311.3,360.9 L309.0,361.8 L309.5,363.0 L310.0,364.2 L312.8,364.2 L313.3,365.3 L313.8,366.2 L312.0,368.1 L312.7,369.2 L313.4,370.4 L315.7,369.4 L316.4,370.3 L317.0,371.2 L316.0,373.9 L316.8,374.9 L317.6,375.9 L319.3,373.9 L320.1,374.7 L320.8,375.4 L320.5,378.8 L321.5,379.5 L322.4,380.3 L323.4,377.5 L324.2,378.0 L324.9,378.6 L325.5,382.4 L326.4,382.9 L327.3,383.4 L327.5,379.9 L328.3,380.2 L329.1,380.5 L330.4,384.5 L331.3,384.7 L332.2,384.9 L331.5,381.0 L332.3,381.1 L333.0,381.1 L334.9,385.0 L335.7,384.9 L336.5,384.7 L335.1,380.7 L335.7,380.5 L336.3,380.2 L338.8,383.8Z" fill="#fff" stroke="#000" stroke-width="1.0" />
<path d="M336.3,377.5 L336.8,377.2 L336.5,376.4 L337.0,376.0 L337.6,376.5 L338.0,376.1 L337.7,375.3 L338.1,374.7 L338.7,375.2 L339.0,374.6 L338.6,373.8 L338.9,373.2 L339.5,373.5 L339.8,372.8 L339.3,372.1 L339.5,371.4 L340.1,371.6 L340.2,370.8 L339.7,370.1 L339.8,369.3 L340.4,369.4 L340.4,368.6 L339.8,368.0 L339.8,367.1 L340.3,367.1 L340.3,366.2 L339.7,365.6 L339.5,364.7 L340.0,364.6 L339.8,363.6 L339.2,363.2 L339.0,362.2 L339.5,362.0 L339.2,361.0 L338.5,360.6 L338.2,359.7 L338.6,359.4 L338.2,358.3 L337.6,358.1 L337.2,357.2 L337.5,356.7 L337.0,355.7 L336.4,355.6 L335.9,354.7 L336.1,354.2 L335.6,353.2 L335.0,353.2 L334.4,352.3 L334.6,351.7 L334.0,350.8 L333.4,350.9 L332.8,350.1 L332.9,349.4 L332.2,348.6 L331.7,348.8 L331.0,348.1 L331.0,347.4 L330.3,346.7 L329.9,347.0 L329.2,346.3 L329.1,345.6 L328.3,345.0 L328.0,345.4 L327.2,344.9 L327.0,344.1 L326.3,343.6 L326.0,344.1 L325.3,343.7 L325.0,342.9 L324.2,342.5 L324.1,343.1 L323.4,342.8 L323.0,342.0 L322.2,341.8 L322.2,342.5 L321.5,342.3 L321.0,341.6 L320.3,341.5 L320.4,342.2 L319.7,342.2 L319.2,341.5 L318.5,341.5 L318.6,342.3 L318.0,342.4 L317.5,341.7 L316.9,341.9 L317.1,342.7 L316.5,343.0 L316.0,342.4 L300.4,351.4 L299.9,351.7 L300.1,352.5 L299.7,352.9 L299.1,352.4 L298.6,352.8 L299.0,353.6 L298.6,354.2 L298.0,353.7 L297.6,354.3 L298.0,355.1 L297.8,355.7 L297.1,355.4 L296.9,356.1 L297.4,356.8 L297.2,357.5 L296.6,357.3 L296.4,358.1 L297.0,358.8 L296.9,359.6 L296.3,359.5 L296.3,360.3 L296.8,360.9 L296.9,361.8 L296.3,361.8 L296.4,362.7 L297.0,363.3 L297.1,364.2 L296.6,364.3 L296.8,365.3 L297.4,365.7 L297.7,366.7 L297.2,366.9 L297.5,367.9 L298.1,368.3 L298.4,369.2 L298.1,369.5 L298.5,370.6 L299.1,370.8 L299.5,371.7 L299.2,372.2 L299.7,373.2 L300.2,373.3 L300.7,374.2 L300.5,374.7 L301.1,375.7 L301.6,375.7 L302.2,376.6 L302.1,377.2 L302.7,378.1 L303.2,378.0 L303.8,378.8 L303.8,379.5 L304.5,380.3 L304.9,380.1 L305.6,380.8 L305.6,381.5 L306.4,382.2 L306.8,381.9 L307.5,382.6 L307.6,383.3 L308.3,383.9 L308.7,383.5 L309.4,384.0 L309.6,384.8 L310.4,385.3 L310.6,384.8 L311.4,385.2 L311.6,386.0 L312.4,386.4 L312.6,385.8 L313.3,386.1 L313.7,386.9 L314.4,387.1 L314.5,386.4 L315.2,386.6 L315.6,387.3 L316.3,387.4 L316.3,386.7 L317.0,386.7 L317.4,387.4 L318.1,387.4 L318.0,386.6 L318.6,386.5 L319.2,387.2 L319.8,387.0 L319.6,386.2 L320.1,385.9 L320.7,386.5Z" fill="#fff" stroke="#000" stroke-width="0.8" />
<path d="M322.0,385.5 L337.6,376.5 M323.1,384.2 L338.7,375.2 M323.9,382.5 L339.5,373.5 M324.5,380.6 L340.1,371.6 M324.8,378.4 L340.4,369.4 M324.8,376.1 L340.3,367.1 M324.4,373.6 L340.0,364.6 M323.9,371.0 L339.5,362.0 M323.0,368.4 L338.6,359.4 M321.9,365.7 L337.5,356.7 M320.6,363.2 L336.1,354.2 M319.0,360.7 L334.6,351.7 M317.3,358.4 L332.9,349.4 M315.4,356.4 L331.0,347.4 M313.5,354.6 L329.1,345.6 M311.5,353.1 L327.0,344.1 M309.4,351.9 L325.0,342.9 M307.4,351.0 L323.0,342.0 M305.5,350.6 L321.0,341.6 M303.6,350.5 L319.2,341.5 M301.9,350.7 L317.5,341.7" fill="none" stroke="#000" stroke-width="0.6" />
<path d="M320.7,386.5 L321.2,386.2 L320.9,385.4 L321.4,385.0 L322.0,385.5 L322.4,385.1 L322.1,384.3 L322.5,383.7 L323.1,384.2 L323.4,383.6 L323.0,382.8 L323.3,382.2 L323.9,382.5 L324.2,381.8 L323.7,381.1 L323.9,380.4 L324.5,380.6 L324.6,379.8 L324.1,379.1 L324.2,378.3 L324.8,378.4 L324.8,377.6 L324.2,377.0 L324.2,376.1 L324.8,376.1 L324.7,375.2 L324.1,374.6 L323.9,373.7 L324.4,373.6 L324.3,372.6 L323.6,372.2 L323.4,371.2 L323.9,371.0 L323.6,370.0 L322.9,369.6 L322.6,368.7 L323.0,368.4 L322.6,367.3 L322.0,367.1 L321.6,366.2 L321.9,365.7 L321.4,364.7 L320.8,364.6 L320.3,363.7 L320.6,363.2 L320.0,362.2 L319.4,362.2 L318.9,361.3 L319.0,360.7 L318.4,359.8 L317.9,359.9 L317.2,359.1 L317.3,358.4 L316.6,357.6 L316.1,357.8 L315.5,357.1 L315.4,356.4 L314.7,355.7 L314.3,356.0 L313.6,355.3 L313.5,354.6 L312.7,354.0 L312.4,354.4 L311.7,353.9 L311.5,353.1 L310.7,352.6 L310.4,353.1 L309.7,352.7 L309.4,351.9 L308.7,351.5 L308.5,352.1 L307.8,351.8 L307.4,351.0 L306.7,350.8 L306.6,351.5 L305.9,351.3 L305.5,350.6 L304.7,350.5 L304.8,351.2 L304.1,351.2 L303.6,350.5 L302.9,350.5 L303.1,351.3 L302.4,351.4 L301.9,350.7 L301.3,350.9 L301.5,351.7 L301.0,352.0 L300.4,351.4 L299.9,351.7 L300.1,352.5 L299.7,352.9 L299.1,352.4 L298.6,352.8 L299.0,353.6 L298.6,354.2 L298.0,353.7 L297.6,354.3 L298.0,355.1 L297.8,355.7 L297.1,355.4 L296.9,356.1 L297.4,356.8 L297.2,357.5 L296.6,357.3 L296.4,358.1 L297.0,358.8 L296.9,359.6 L296.3,359.5 L296.3,360.3 L296.8,360.9 L296.9,361.8 L296.3,361.8 L296.4,362.7 L297.0,363.3 L297.1,364.2 L296.6,364.3 L296.8,365.3 L297.4,365.7 L297.7,366.7 L297.2,366.9 L297.5,367.9 L298.1,368.3 L298.4,369.2 L298.1,369.5 L298.5,370.6 L299.1,370.8 L299.5,371.7 L299.2,372.2 L299.7,373.2 L300.2,373.3 L300.7,374.2 L300.5,374.7 L301.1,375.7 L301.6,375.7 L302.2,376.6 L302.1,377.2 L302.7,378.1 L303.2,378.0 L303.8,378.8 L303.8,379.5 L304.5,380.3 L304.9,380.1 L305.6,380.8 L305.6,381.5 L306.4,382.2 L306.8,381.9 L307.5,382.6 L307.6,383.3 L308.3,383.9 L308.7,383.5 L309.4,384.0 L309.6,384.8 L310.4,385.3 L310.6,384.8 L311.4,385.2 L311.6,386.0 L312.4,386.4 L312.6,385.8 L313.3,386.1 L313.7,386.9 L314.4,387.1 L314.5,386.4 L315.2,386.6 L315.6,387.3 L316.3,387.4 L316.3,386.7 L317.0,386.7 L317.4,387.4 L318.1,387.4 L318.0,386.6 L318.6,386.5 L319.2,387.2 L319.8,387.0 L319.6,386.2 L320.1,385.9 L320.7,386.5Z" fill="#fff" stroke="#000" stroke-width="0.8" />
<path d="M320.9,386.4 L321.5,386.1 L321.9,385.7 L322.4,385.3 L322.8,384.8 L323.2,384.3 L323.5,383.7 L323.9,383.1 L324.1,382.5 L324.4,381.8 L324.6,381.1 L324.8,380.4 L324.9,379.6 L325.0,378.8 L325.0,378.0 L325.1,377.1 L325.0,376.3 L325.0,375.4 L324.9,374.5 L324.7,373.5 L324.5,372.6 L324.3,371.6 L324.1,370.7 L323.8,369.7 L323.5,368.7 L323.1,367.8 L322.7,366.8 L322.3,365.8 L321.8,364.9 L321.3,363.9 L320.8,363.0 L320.3,362.1 L319.7,361.2 L319.1,360.3 L318.5,359.5 L317.8,358.7 L317.2,357.9 L316.5,357.1 L315.8,356.4 L315.1,355.7 L314.4,355.0 L313.7,354.4 L312.9,353.8 L312.2,353.2 L311.4,352.7 L310.7,352.3 L310.0,351.9 L309.2,351.5 L308.5,351.2 L307.7,350.9 L307.0,350.7 L306.3,350.5 L305.6,350.4 L304.9,350.3 L304.2,350.3 L303.6,350.3 L302.9,350.4 L302.3,350.5 L301.7,350.7 L301.2,350.9 L300.6,351.2 L269.5,369.2 L269.0,369.5 L268.5,369.9 L268.0,370.3 L267.6,370.8 L267.2,371.3 L266.9,371.9 L266.5,372.5 L266.3,373.1 L266.0,373.8 L265.8,374.5 L265.6,375.2 L265.5,376.0 L265.4,376.8 L265.4,377.6 L265.4,378.5 L265.4,379.3 L265.4,380.2 L265.5,381.1 L265.7,382.1 L265.9,383.0 L266.1,384.0 L266.3,384.9 L266.6,385.9 L266.9,386.9 L267.3,387.8 L267.7,388.8 L268.1,389.8 L268.6,390.7 L269.1,391.7 L269.6,392.6 L270.1,393.5 L270.7,394.4 L271.3,395.3 L271.9,396.1 L272.6,396.9 L273.2,397.7 L273.9,398.5 L274.6,399.2 L275.3,399.9 L276.0,400.6 L276.7,401.2 L277.5,401.8 L278.2,402.4 L279.0,402.9 L279.7,403.3 L280.5,403.7 L281.2,404.1 L281.9,404.4 L282.7,404.7 L283.4,404.9 L284.1,405.1 L284.8,405.2 L285.5,405.3 L286.2,405.3 L286.8,405.3 L287.5,405.2 L288.1,405.1 L288.7,404.9 L289.2,404.7 L289.8,404.4Z" fill="#fff" stroke="#000" stroke-width="0.9" />
<ellipse cx="279.6" cy="386.8" rx="11.57" ry="20.30" transform="rotate(-30 279.6 386.8)" fill="#fff" stroke="#000" stroke-width="0.9"/>
<path d="M290.2,404.1 L290.8,403.8 L290.5,402.9 L291.0,402.5 L291.6,403.0 L292.1,402.5 L291.8,401.7 L292.2,401.1 L292.8,401.5 L293.2,400.8 L292.7,400.0 L293.0,399.3 L293.6,399.6 L293.9,398.8 L293.4,398.0 L293.5,397.2 L294.1,397.4 L294.3,396.5 L293.7,395.8 L293.7,394.9 L294.3,394.9 L294.3,393.9 L293.7,393.3 L293.6,392.3 L294.1,392.2 L294.0,391.1 L293.3,390.6 L293.1,389.6 L293.6,389.4 L293.3,388.3 L292.7,387.9 L292.3,386.8 L292.7,386.5 L292.3,385.4 L291.7,385.1 L291.2,384.0 L291.5,383.6 L291.0,382.5 L290.4,382.3 L289.8,381.3 L290.1,380.8 L289.4,379.7 L288.9,379.7 L288.2,378.7 L288.4,378.1 L287.7,377.1 L287.1,377.2 L286.4,376.3 L286.4,375.6 L285.7,374.7 L285.2,375.0 L284.4,374.2 L284.4,373.4 L283.5,372.7 L283.2,373.0 L282.4,372.3 L282.2,371.5 L281.3,370.9 L281.0,371.4 L280.2,370.8 L280.0,370.0 L279.1,369.6 L278.9,370.1 L278.1,369.7 L277.7,368.9 L276.9,368.6 L276.8,369.3 L276.0,369.0 L275.6,368.3 L274.8,368.1 L274.7,368.8 L274.0,368.8 L273.5,368.0 L272.7,368.1 L272.8,368.8 L272.1,369.0 L271.6,368.3 L270.9,368.5 L271.1,369.3 L270.5,369.6 L269.9,369.0 L237.0,388.0 L236.4,388.3 L236.7,389.2 L236.2,389.6 L235.5,389.1 L235.1,389.6 L235.4,390.4 L235.0,391.0 L234.4,390.6 L234.0,391.3 L234.5,392.1 L234.2,392.8 L233.5,392.5 L233.3,393.3 L233.8,394.1 L233.6,394.9 L233.0,394.7 L232.9,395.6 L233.5,396.3 L233.4,397.2 L232.9,397.2 L232.9,398.2 L233.5,398.8 L233.6,399.8 L233.1,399.9 L233.2,401.0 L233.8,401.5 L234.1,402.5 L233.6,402.7 L233.9,403.8 L234.5,404.2 L234.9,405.3 L234.5,405.6 L234.9,406.7 L235.5,407.0 L236.0,408.1 L235.7,408.5 L236.2,409.6 L236.8,409.8 L237.3,410.8 L237.1,411.3 L237.7,412.4 L238.3,412.4 L239.0,413.4 L238.8,414.0 L239.5,415.0 L240.1,414.9 L240.8,415.8 L240.7,416.5 L241.5,417.4 L242.0,417.1 L242.7,417.9 L242.8,418.7 L243.6,419.4 L244.0,419.1 L244.8,419.8 L245.0,420.6 L245.8,421.2 L246.2,420.7 L247.0,421.3 L247.2,422.1 L248.1,422.5 L248.3,422.0 L249.1,422.4 L249.5,423.2 L250.3,423.5 L250.4,422.8 L251.2,423.1 L251.6,423.8 L252.4,424.0 L252.5,423.3 L253.2,423.3 L253.7,424.1 L254.4,424.0 L254.4,423.3 L255.0,423.1 L255.6,423.8 L256.3,423.6 L256.1,422.8 L256.7,422.5 L257.3,423.1Z" fill="#fff" stroke="#000" stroke-width="0.8" />
<path d="M258.7,422.0 L291.6,403.0 M259.9,420.5 L292.8,401.5 M260.7,418.6 L293.6,399.6 M261.2,416.4 L294.1,397.4 M261.4,413.9 L294.3,394.9 M261.2,411.2 L294.1,392.2 M260.7,408.4 L293.6,389.4 M259.8,405.5 L292.7,386.5 M258.6,402.6 L291.5,383.6 M257.2,399.8 L290.1,380.8 M255.4,397.1 L288.4,378.1 M253.5,394.6 L286.4,375.6 M251.5,392.4 L284.4,373.4 M249.3,390.5 L282.2,371.5 M247.0,389.0 L280.0,370.0 M244.8,387.9 L277.7,368.9 M242.6,387.3 L275.6,368.3 M240.6,387.0 L273.5,368.0 M238.7,387.3 L271.6,368.3" fill="none" stroke="#000" stroke-width="0.6" />
<path d="M257.3,423.1 L257.9,422.8 L257.6,421.9 L258.1,421.5 L258.7,422.0 L259.2,421.5 L258.9,420.7 L259.3,420.1 L259.9,420.5 L260.2,419.8 L259.8,419.0 L260.1,418.3 L260.7,418.6 L261.0,417.8 L260.5,417.0 L260.6,416.2 L261.2,416.4 L261.3,415.5 L260.8,414.8 L260.8,413.9 L261.4,413.9 L261.4,412.9 L260.8,412.3 L260.7,411.3 L261.2,411.2 L261.0,410.1 L260.4,409.6 L260.2,408.6 L260.7,408.4 L260.4,407.3 L259.8,406.9 L259.4,405.8 L259.8,405.5 L259.4,404.4 L258.8,404.1 L258.3,403.0 L258.6,402.6 L258.1,401.5 L257.5,401.3 L256.9,400.3 L257.2,399.8 L256.5,398.7 L256.0,398.7 L255.3,397.7 L255.4,397.1 L254.7,396.1 L254.2,396.2 L253.5,395.3 L253.5,394.6 L252.8,393.7 L252.3,394.0 L251.5,393.2 L251.5,392.4 L250.6,391.7 L250.2,392.0 L249.4,391.3 L249.3,390.5 L248.4,389.9 L248.1,390.4 L247.3,389.8 L247.0,389.0 L246.2,388.6 L246.0,389.1 L245.2,388.7 L244.8,387.9 L244.0,387.6 L243.9,388.3 L243.1,388.0 L242.6,387.3 L241.8,387.1 L241.8,387.8 L241.1,387.8 L240.6,387.0 L239.8,387.1 L239.9,387.8 L239.2,388.0 L238.7,387.3 L238.0,387.5 L238.2,388.3 L237.6,388.6 L237.0,388.0 L236.4,388.3 L236.7,389.2 L236.2,389.6 L235.5,389.1 L235.1,389.6 L235.4,390.4 L235.0,391.0 L234.4,390.6 L234.0,391.3 L234.5,392.1 L234.2,392.8 L233.5,392.5 L233.3,393.3 L233.8,394.1 L233.6,394.9 L233.0,394.7 L232.9,395.6 L233.5,396.3 L233.4,397.2 L232.9,397.2 L232.9,398.2 L233.5,398.8 L233.6,399.8 L233.1,399.9 L233.2,401.0 L233.8,401.5 L234.1,402.5 L233.6,402.7 L233.9,403.8 L234.5,404.2 L234.9,405.3 L234.5,405.6 L234.9,406.7 L235.5,407.0 L236.0,408.1 L235.7,408.5 L236.2,409.6 L236.8,409.8 L237.3,410.8 L237.1,411.3 L237.7,412.4 L238.3,412.4 L239.0,413.4 L238.8,414.0 L239.5,415.0 L240.1,414.9 L240.8,415.8 L240.7,416.5 L241.5,417.4 L242.0,417.1 L242.7,417.9 L242.8,418.7 L243.6,419.4 L244.0,419.1 L244.8,419.8 L245.0,420.6 L245.8,421.2 L246.2,420.7 L247.0,421.3 L247.2,422.1 L248.1,422.5 L248.3,422.0 L249.1,422.4 L249.5,423.2 L250.3,423.5 L250.4,422.8 L251.2,423.1 L251.6,423.8 L252.4,424.0 L252.5,423.3 L253.2,423.3 L253.7,424.1 L254.4,424.0 L254.4,423.3 L255.0,423.1 L255.6,423.8 L256.3,423.6 L256.1,422.8 L256.7,422.5 L257.3,423.1Z" fill="#fff" stroke="#000" stroke-width="0.8" />
<path d="M257.7,422.9 L258.2,422.6 L258.7,422.2 L259.2,421.8 L259.6,421.3 L260.0,420.8 L260.3,420.2 L260.6,419.6 L260.9,419.0 L261.2,418.3 L261.4,417.6 L261.5,416.9 L261.7,416.1 L261.8,415.3 L261.8,414.5 L261.8,413.6 L261.8,412.8 L261.7,411.9 L261.6,411.0 L261.5,410.0 L261.3,409.1 L261.1,408.1 L260.9,407.2 L260.6,406.2 L260.2,405.2 L259.9,404.3 L259.5,403.3 L259.1,402.3 L258.6,401.4 L258.1,400.4 L257.6,399.5 L257.0,398.6 L256.5,397.7 L255.9,396.8 L255.3,396.0 L254.6,395.2 L254.0,394.4 L253.3,393.6 L252.6,392.9 L251.9,392.2 L251.2,391.5 L250.4,390.9 L249.7,390.3 L249.0,389.7 L248.2,389.2 L247.5,388.8 L246.7,388.4 L246.0,388.0 L245.2,387.7 L244.5,387.4 L243.8,387.2 L243.1,387.0 L242.4,386.9 L241.7,386.8 L241.0,386.8 L240.4,386.8 L239.7,386.9 L239.1,387.0 L238.5,387.2 L238.0,387.4 L237.4,387.7 L219.2,398.2 L218.7,398.5 L218.2,398.9 L217.8,399.3 L217.4,399.8 L217.0,400.3 L216.6,400.9 L216.3,401.5 L216.0,402.1 L215.8,402.8 L215.6,403.5 L215.4,404.2 L215.3,405.0 L215.2,405.8 L215.1,406.6 L215.1,407.5 L215.1,408.3 L215.2,409.2 L215.3,410.1 L215.5,411.1 L215.6,412.0 L215.8,413.0 L216.1,413.9 L216.4,414.9 L216.7,415.9 L217.1,416.8 L217.5,417.8 L217.9,418.8 L218.4,419.7 L218.8,420.7 L219.4,421.6 L219.9,422.5 L220.5,423.4 L221.1,424.3 L221.7,425.1 L222.3,425.9 L223.0,426.7 L223.7,427.5 L224.4,428.2 L225.1,428.9 L225.8,429.6 L226.5,430.2 L227.2,430.8 L228.0,431.4 L228.7,431.9 L229.5,432.3 L230.2,432.7 L231.0,433.1 L231.7,433.4 L232.4,433.7 L233.2,433.9 L233.9,434.1 L234.6,434.2 L235.3,434.3 L235.9,434.3 L236.6,434.3 L237.2,434.2 L237.8,434.1 L238.4,433.9 L239.0,433.7 L239.5,433.4Z" fill="#fff" stroke="#000" stroke-width="0.9" />
<ellipse cx="229.4" cy="415.8" rx="11.57" ry="20.30" transform="rotate(-30 229.4 415.8)" fill="#fff" stroke="#000" stroke-width="0.9"/>
<path d="M239.1,432.7 L239.8,432.3 L240.3,431.8 L239.3,429.6 L239.7,429.1 L240.1,428.5 L241.8,429.8 L242.2,429.0 L242.5,428.2 L241.1,426.2 L241.2,425.4 L241.4,424.6 L243.0,425.2 L243.1,424.1 L243.1,423.1 L241.4,421.6 L241.3,420.6 L241.1,419.6 L242.6,419.4 L242.3,418.3 L242.0,417.1 L240.3,416.3 L239.9,415.2 L239.5,414.2 L240.6,413.3 L240.0,412.1 L239.4,411.0 L237.9,410.9 L237.3,409.9 L236.6,409.0 L237.2,407.4 L236.4,406.4 L235.6,405.4 L234.4,406.1 L233.7,405.3 L232.9,404.6 L232.8,402.5 L232.0,401.8 L231.1,401.1 L230.4,402.5 L229.6,402.0 L228.8,401.5 L228.1,399.3 L227.2,398.9 L226.3,398.6 L226.2,400.5 L225.4,400.3 L224.7,400.2 L223.5,398.0 L222.7,398.0 L221.9,398.1 L222.4,400.3 L221.8,400.5 L221.2,400.7 L219.6,398.9 L206.6,406.4 L206.0,406.8 L205.5,407.3 L206.5,409.5 L206.0,410.0 L205.7,410.6 L203.9,409.3 L203.6,410.1 L203.3,410.9 L204.7,412.9 L204.6,413.7 L204.4,414.5 L202.7,413.9 L202.7,415.0 L202.7,416.0 L204.4,417.5 L204.5,418.5 L204.6,419.5 L203.2,419.7 L203.5,420.8 L203.8,422.0 L205.5,422.8 L205.9,423.9 L206.3,424.9 L205.2,425.8 L205.8,427.0 L206.4,428.1 L207.9,428.2 L208.5,429.2 L209.1,430.1 L208.6,431.7 L209.4,432.7 L210.2,433.7 L211.4,433.0 L212.1,433.8 L212.9,434.5 L212.9,436.6 L213.8,437.3 L214.7,438.0 L215.4,436.6 L216.2,437.1 L217.0,437.6 L217.7,439.8 L218.6,440.2 L219.5,440.5 L219.6,438.6 L220.4,438.8 L221.1,438.9 L222.3,441.1 L223.1,441.1 L223.8,441.0 L223.4,438.8 L224.0,438.6 L224.6,438.4 L226.1,440.2Z" fill="#fff" stroke="#000" stroke-width="0.8" />
<path d="M226.9,438.2 L239.9,430.7 M228.1,436.4 L241.1,428.9 M228.8,434.7 L241.8,427.2 M229.2,432.1 L242.2,424.6 M229.2,429.8 L242.2,422.3 M228.8,426.7 L241.8,419.2 M228.1,424.1 L241.1,416.6 M226.9,420.9 L239.9,413.4 M225.6,418.4 L238.6,410.9 M223.7,415.4 L236.7,407.9 M222.0,413.2 L235.0,405.7 M219.6,410.8 L232.6,403.3 M217.7,409.3 L230.6,401.8 M215.2,407.8 L228.2,400.3 M213.2,407.0 L226.2,399.5 M210.9,406.6 L223.9,399.1 M209.1,406.7 L222.1,399.2" fill="none" stroke="#000" stroke-width="0.7200000000000001" />
<path d="M226.1,440.2 L226.8,439.8 L227.3,439.3 L226.3,437.1 L226.7,436.6 L227.1,436.0 L228.8,437.3 L229.2,436.5 L229.5,435.7 L228.1,433.7 L228.2,432.9 L228.4,432.1 L230.1,432.7 L230.1,431.6 L230.1,430.6 L228.4,429.1 L228.3,428.1 L228.1,427.1 L229.6,426.9 L229.3,425.8 L229.0,424.6 L227.3,423.8 L226.9,422.7 L226.5,421.7 L227.6,420.8 L227.0,419.6 L226.4,418.5 L224.9,418.4 L224.3,417.4 L223.7,416.5 L224.2,414.9 L223.4,413.9 L222.6,412.9 L221.4,413.6 L220.7,412.8 L219.9,412.1 L219.9,410.0 L219.0,409.3 L218.1,408.6 L217.4,410.0 L216.6,409.5 L215.8,409.0 L215.1,406.8 L214.2,406.4 L213.3,406.1 L213.2,408.0 L212.4,407.8 L211.7,407.7 L210.5,405.5 L209.7,405.5 L208.9,405.6 L209.4,407.8 L208.8,408.0 L208.2,408.2 L206.6,406.4 L206.0,406.8 L205.5,407.3 L206.5,409.5 L206.0,410.0 L205.7,410.6 L203.9,409.3 L203.6,410.1 L203.3,410.9 L204.7,412.9 L204.6,413.7 L204.4,414.5 L202.7,413.9 L202.7,415.0 L202.7,416.0 L204.4,417.5 L204.5,418.5 L204.6,419.5 L203.2,419.7 L203.5,420.8 L203.8,422.0 L205.5,422.8 L205.9,423.9 L206.3,424.9 L205.2,425.8 L205.8,427.0 L206.4,428.1 L207.9,428.2 L208.5,429.2 L209.1,430.1 L208.6,431.7 L209.4,432.7 L210.2,433.7 L211.4,433.0 L212.1,433.8 L212.9,434.5 L212.9,436.6 L213.8,437.3 L214.7,438.0 L215.4,436.6 L216.2,437.1 L217.0,437.6 L217.7,439.8 L218.6,440.2 L219.5,440.5 L219.6,438.6 L220.4,438.8 L221.1,438.9 L222.3,441.1 L223.1,441.1 L223.8,441.0 L223.4,438.8 L224.0,438.6 L224.6,438.4 L226.1,440.2Z" fill="#fff" stroke="#000" stroke-width="0.8" />
<path d="M223.4,433.4 L223.7,433.2 L224.0,432.9 L224.2,432.7 L224.5,432.4 L224.7,432.1 L224.9,431.8 L225.1,431.4 L225.3,431.0 L225.4,430.6 L225.6,430.2 L225.7,429.8 L225.7,429.3 L225.8,428.8 L225.8,428.3 L225.8,427.8 L225.8,427.3 L225.8,426.7 L225.7,426.2 L225.6,425.6 L225.5,425.1 L225.4,424.5 L225.2,423.9 L225.1,423.3 L224.9,422.8 L224.7,422.2 L224.4,421.6 L224.2,421.0 L223.9,420.4 L223.6,419.9 L223.3,419.3 L223.0,418.8 L222.6,418.2 L222.3,417.7 L221.9,417.2 L221.5,416.7 L221.1,416.2 L220.7,415.8 L220.3,415.3 L219.9,414.9 L219.4,414.5 L219.0,414.1 L218.5,413.8 L218.1,413.4 L217.7,413.1 L217.2,412.9 L216.8,412.6 L216.3,412.4 L215.9,412.2 L215.4,412.0 L215.0,411.9 L214.6,411.8 L214.1,411.7 L213.7,411.7 L213.3,411.7 L212.9,411.7 L212.5,411.7 L212.2,411.8 L211.8,411.9 L211.5,412.1 L211.2,412.2 L202.5,417.2 L202.2,417.4 L201.9,417.7 L201.6,417.9 L201.4,418.2 L201.1,418.5 L200.9,418.8 L200.7,419.2 L200.6,419.6 L200.4,420.0 L200.3,420.4 L200.2,420.8 L200.1,421.3 L200.1,421.8 L200.0,422.3 L200.0,422.8 L200.0,423.3 L200.1,423.9 L200.1,424.4 L200.2,425.0 L200.3,425.5 L200.5,426.1 L200.6,426.7 L200.8,427.3 L201.0,427.8 L201.2,428.4 L201.4,429.0 L201.7,429.6 L202.0,430.2 L202.3,430.7 L202.6,431.3 L202.9,431.8 L203.2,432.4 L203.6,432.9 L204.0,433.4 L204.4,433.9 L204.8,434.4 L205.2,434.8 L205.6,435.3 L206.0,435.7 L206.4,436.1 L206.9,436.5 L207.3,436.8 L207.8,437.2 L208.2,437.5 L208.7,437.7 L209.1,438.0 L209.6,438.2 L210.0,438.4 L210.4,438.6 L210.9,438.7 L211.3,438.8 L211.7,438.9 L212.1,438.9 L212.5,438.9 L212.9,438.9 L213.3,438.9 L213.7,438.8 L214.0,438.7 L214.4,438.5 L214.7,438.4Z" fill="#fff" stroke="#000" stroke-width="0.9" />
<ellipse cx="208.6" cy="427.8" rx="6.95" ry="12.20" transform="rotate(-30 208.6 427.8)" fill="#fff" stroke="#000" stroke-width="0.9"/>
<path d="M310.3,519.2 L310.6,519.1 L310.9,518.9 L311.1,518.6 L311.4,518.4 L311.6,518.1 L311.8,517.8 L312.0,517.5 L312.1,517.1 L312.3,516.8 L312.4,516.4 L312.5,516.0 L312.6,515.6 L312.7,515.1 L312.7,514.7 L312.7,514.2 L312.7,513.7 L312.7,513.2 L312.7,512.7 L312.6,512.2 L312.5,511.7 L312.4,511.1 L312.3,510.6 L312.1,510.1 L312.0,509.5 L311.8,509.0 L311.6,508.5 L311.4,507.9 L311.1,507.4 L310.9,506.9 L310.6,506.3 L310.3,505.8 L310.0,505.3 L309.7,504.8 L309.4,504.4 L309.0,503.9 L308.7,503.4 L308.3,503.0 L308.0,502.6 L307.6,502.2 L307.2,501.8 L306.8,501.5 L306.4,501.1 L306.0,500.8 L305.6,500.5 L305.2,500.3 L304.8,500.0 L304.4,499.8 L304.0,499.6 L303.6,499.4 L303.2,499.3 L302.8,499.2 L302.4,499.1 L302.1,499.1 L301.7,499.1 L301.3,499.1 L301.0,499.1 L300.6,499.2 L300.3,499.2 L300.0,499.4 L299.7,499.5 L236.3,533.6 L236.0,533.8 L235.7,534.0 L235.5,534.2 L235.2,534.5 L235.0,534.8 L234.8,535.1 L234.6,535.4 L234.5,535.7 L234.3,536.1 L234.2,536.5 L234.1,536.9 L234.0,537.3 L233.9,537.7 L233.9,538.2 L233.9,538.7 L233.9,539.2 L233.9,539.6 L233.9,540.2 L234.0,540.7 L234.1,541.2 L234.2,541.7 L234.3,542.3 L234.4,542.8 L234.6,543.3 L234.8,543.9 L235.0,544.4 L235.2,544.9 L235.5,545.5 L235.7,546.0 L236.0,546.5 L236.3,547.0 L236.6,547.5 L236.9,548.0 L237.2,548.5 L237.5,549.0 L237.9,549.4 L238.3,549.9 L238.6,550.3 L239.0,550.7 L239.4,551.1 L239.8,551.4 L240.2,551.7 L240.6,552.1 L241.0,552.3 L241.4,552.6 L241.8,552.9 L242.2,553.1 L242.6,553.3 L243.0,553.4 L243.4,553.6 L243.8,553.7 L244.2,553.7 L244.5,553.8 L244.9,553.8 L245.3,553.8 L245.6,553.8 L246.0,553.7 L246.3,553.6 L246.6,553.5 L246.9,553.4Z" fill="#fff" stroke="#000" stroke-width="1.0" />
<ellipse cx="241.6" cy="543.5" rx="6.38" ry="11.20" transform="rotate(-28.3 241.6 543.5)" fill="#fff" stroke="#000" stroke-width="0.6"/>
<path d="M250.6,550.8 L251.4,548.5 L251.5,545.7 L250.8,542.5 L249.4,539.3 L247.5,536.4 L245.2,534.1 L242.8,532.6 L240.5,532.0" fill="none" stroke="#000" stroke-width="0.8" />
<path d="M312.7,514.5 L309.7,515.2 L312.2,516.9" fill="none" stroke="#000" stroke-width="0.8" />
<path d="M219.3,574.7 L219.6,574.4 L220.0,574.2 L220.3,573.9 L220.6,573.5 L220.9,573.1 L221.2,572.7 L221.4,572.3 L221.6,571.8 L221.8,571.3 L222.0,570.8 L222.1,570.3 L222.2,569.7 L222.2,569.1 L222.3,568.5 L222.3,567.9 L222.3,567.2 L222.2,566.6 L222.2,565.9 L222.1,565.2 L221.9,564.5 L221.8,563.8 L221.6,563.1 L221.4,562.4 L221.1,561.6 L220.9,560.9 L220.6,560.2 L220.2,559.5 L219.9,558.8 L219.5,558.1 L219.2,557.4 L218.8,556.8 L218.3,556.1 L217.9,555.4 L217.4,554.8 L217.0,554.2 L216.5,553.6 L216.0,553.1 L215.5,552.5 L215.0,552.0 L214.4,551.5 L213.9,551.0 L213.3,550.6 L212.8,550.2 L212.2,549.8 L211.7,549.5 L211.1,549.2 L210.6,548.9 L210.0,548.7 L209.5,548.5 L209.0,548.3 L208.4,548.2 L207.9,548.1 L207.4,548.0 L206.9,548.0 L206.4,548.0 L206.0,548.1 L205.5,548.2 L205.1,548.3 L204.7,548.5 L204.3,548.7 L200.4,550.9 L200.1,551.2 L199.7,551.4 L199.4,551.7 L199.1,552.1 L198.8,552.5 L198.5,552.9 L198.3,553.3 L198.1,553.8 L197.9,554.3 L197.8,554.8 L197.6,555.3 L197.5,555.9 L197.5,556.5 L197.4,557.1 L197.4,557.7 L197.4,558.4 L197.5,559.0 L197.6,559.7 L197.7,560.4 L197.8,561.1 L197.9,561.8 L198.1,562.5 L198.3,563.2 L198.6,564.0 L198.9,564.7 L199.1,565.4 L199.5,566.1 L199.8,566.8 L200.2,567.5 L200.5,568.2 L200.9,568.8 L201.4,569.5 L201.8,570.2 L202.3,570.8 L202.7,571.4 L203.2,572.0 L203.7,572.5 L204.2,573.1 L204.8,573.6 L205.3,574.1 L205.8,574.6 L206.4,575.0 L206.9,575.4 L207.5,575.8 L208.0,576.1 L208.6,576.4 L209.1,576.7 L209.7,576.9 L210.2,577.1 L210.7,577.3 L211.3,577.4 L211.8,577.5 L212.3,577.6 L212.8,577.6 L213.3,577.6 L213.7,577.5 L214.2,577.4 L214.6,577.3 L215.1,577.1 L215.4,576.9Z" fill="#fff" stroke="#000" stroke-width="0.85" stroke-dasharray="7,1.5"/>
<ellipse cx="207.9" cy="563.9" rx="8.55" ry="15.00" transform="rotate(-30 207.9 563.9)" fill="#fff" stroke="#000" stroke-width="0.85" stroke-dasharray="7,1.5"/>
<ellipse cx="207.9" cy="563.9" rx="6.50" ry="11.40" transform="rotate(-30 207.9 563.9)" fill="none" stroke="#000" stroke-width="0.7224999999999999" stroke-dasharray="7,1.5"/>
<path d="M191.5,589.0 L191.8,588.8 L192.1,588.5 L192.4,588.2 L192.7,587.9 L193.0,587.6 L193.2,587.2 L193.4,586.8 L193.6,586.4 L193.8,585.9 L193.9,585.5 L194.0,585.0 L194.1,584.5 L194.2,583.9 L194.2,583.4 L194.2,582.8 L194.2,582.2 L194.2,581.6 L194.1,581.0 L194.0,580.4 L193.9,579.7 L193.7,579.1 L193.6,578.4 L193.4,577.8 L193.2,577.2 L192.9,576.5 L192.6,575.9 L192.4,575.2 L192.1,574.6 L191.7,573.9 L191.4,573.3 L191.0,572.7 L190.6,572.1 L190.2,571.5 L189.8,571.0 L189.4,570.4 L189.0,569.9 L188.5,569.4 L188.0,568.9 L187.6,568.4 L187.1,568.0 L186.6,567.5 L186.1,567.1 L185.6,566.8 L185.1,566.4 L184.6,566.1 L184.1,565.9 L183.6,565.6 L183.1,565.4 L182.6,565.2 L182.1,565.1 L181.7,564.9 L181.2,564.9 L180.7,564.8 L180.3,564.8 L179.8,564.8 L179.4,564.9 L179.0,565.0 L178.6,565.1 L178.2,565.2 L177.9,565.4 L172.5,568.5 L172.2,568.7 L171.8,569.0 L171.5,569.3 L171.3,569.6 L171.0,569.9 L170.8,570.3 L170.5,570.7 L170.4,571.1 L170.2,571.6 L170.1,572.0 L169.9,572.5 L169.9,573.0 L169.8,573.6 L169.8,574.1 L169.7,574.7 L169.8,575.3 L169.8,575.9 L169.9,576.5 L170.0,577.1 L170.1,577.8 L170.2,578.4 L170.4,579.1 L170.6,579.7 L170.8,580.3 L171.1,581.0 L171.3,581.6 L171.6,582.3 L171.9,582.9 L172.2,583.6 L172.6,584.2 L173.0,584.8 L173.3,585.4 L173.7,586.0 L174.1,586.5 L174.6,587.1 L175.0,587.6 L175.5,588.1 L175.9,588.6 L176.4,589.1 L176.9,589.5 L177.4,590.0 L177.9,590.4 L178.4,590.7 L178.9,591.1 L179.4,591.4 L179.9,591.6 L180.4,591.9 L180.9,592.1 L181.3,592.3 L181.8,592.4 L182.3,592.6 L182.8,592.6 L183.2,592.7 L183.7,592.7 L184.1,592.7 L184.6,592.6 L185.0,592.5 L185.4,592.4 L185.7,592.3 L186.1,592.1Z" fill="#fff" stroke="#000" stroke-width="0.9" />
<path d="M187.3,591.1 L192.6,588.0 M188.2,589.7 L193.5,586.6 M188.7,587.9 L194.1,584.8 M188.9,585.9 L194.2,582.8 M188.7,583.6 L194.0,580.5 M188.1,581.2 L193.5,578.1 M187.2,578.8 L192.6,575.7 M186.0,576.4 L191.4,573.3 M184.6,574.2 L189.9,571.1 M182.9,572.2 L188.3,569.1 M181.1,570.5 L186.5,567.4 M179.2,569.2 L184.6,566.1 M177.4,568.4 L182.7,565.3 M175.6,567.9 L181.0,564.8 M173.9,568.0 L179.3,564.9" fill="none" stroke="#000" stroke-width="0.75" />
<ellipse cx="179.3" cy="580.3" rx="7.75" ry="13.60" transform="rotate(-30 179.3 580.3)" fill="#fff" stroke="#000" stroke-width="0.9"/>
<clipPath id="c5"><path d="M184.1,588.5 L184.6,588.1 L185.1,587.6 L185.5,586.9 L185.8,586.1 L185.9,585.2 L186.0,584.2 L185.9,583.2 L185.7,582.1 L185.5,580.9 L185.1,579.8 L184.6,578.7 L184.0,577.6 L183.3,576.5 L182.6,575.5 L181.8,574.6 L181.0,573.8 L180.1,573.1 L179.3,572.6 L178.4,572.1 L177.5,571.8 L176.7,571.6 L175.9,571.6 L175.2,571.8 L174.5,572.1 L174.0,572.5 L173.5,573.0 L173.1,573.7 L172.8,574.5 L172.7,575.4 L172.6,576.4 L172.7,577.4 L172.9,578.5 L173.1,579.7 L173.5,580.8 L174.0,581.9 L174.6,583.0 L175.3,584.1 L176.0,585.1 L176.8,586.0 L177.6,586.8 L178.5,587.5 L179.3,588.0 L180.2,588.5 L181.1,588.8 L181.9,589.0 L182.7,589.0 L183.4,588.8 L184.1,588.5Z"/></clipPath>
<path d="M184.1,588.5 L184.6,588.1 L185.1,587.6 L185.5,586.9 L185.8,586.1 L185.9,585.2 L186.0,584.2 L185.9,583.2 L185.7,582.1 L185.5,580.9 L185.1,579.8 L184.6,578.7 L184.0,577.6 L183.3,576.5 L182.6,575.5 L181.8,574.6 L181.0,573.8 L180.1,573.1 L179.3,572.6 L178.4,572.1 L177.5,571.8 L176.7,571.6 L175.9,571.6 L175.2,571.8 L174.5,572.1 L174.0,572.5 L173.5,573.0 L173.1,573.7 L172.8,574.5 L172.7,575.4 L172.6,576.4 L172.7,577.4 L172.9,578.5 L173.1,579.7 L173.5,580.8 L174.0,581.9 L174.6,583.0 L175.3,584.1 L176.0,585.1 L176.8,586.0 L177.6,586.8 L178.5,587.5 L179.3,588.0 L180.2,588.5 L181.1,588.8 L181.9,589.0 L182.7,589.0 L183.4,588.8 L184.1,588.5Z" fill="#fff" stroke="#000" stroke-width="0.9" />
<g clip-path="url(#c5)">
<path d="M184.1,588.5 L189.4,585.4 M184.9,587.9 L190.3,584.8 M175.5,571.7 L180.9,568.6 M174.5,572.1 L179.9,569.0 M173.7,572.7 L179.1,569.6 M173.1,573.7 L178.5,570.6 M172.7,575.0 L178.1,571.9 M172.6,576.4 L178.0,573.3 M172.7,578.0 L178.1,574.9 M173.1,579.7 L178.5,576.6 M173.8,581.4 L179.1,578.3 M174.6,583.0 L180.0,579.9 M175.6,584.6 L181.0,581.5 M176.8,586.0 L182.1,582.9 M178.0,587.1 L183.4,584.0 M179.3,588.0 L184.7,584.9 M180.6,588.7 L186.0,585.6 M181.9,589.0 L187.3,585.9 M183.1,588.9 L188.4,585.8" fill="none" stroke="#000" stroke-width="0.75" />
<ellipse cx="184.7" cy="577.2" rx="5.43" ry="9.52" transform="rotate(-30 184.7 577.2)" fill="#fff" stroke="#000" stroke-width="0.8"/>
</g>
<path d="M185.9,591.7 L184.2,588.8 M187.0,590.8 L185.1,588.1 M187.9,589.4 L185.7,587.1 M188.4,587.7 L186.1,585.8 M188.6,585.7 L186.2,584.3 M188.4,583.5 L186.0,582.7 M187.8,581.2 L185.6,581.0 M187.0,578.8 L185.0,579.2 M185.8,576.5 L184.1,577.5 M184.4,574.4 L183.1,575.9 M182.8,572.5 L181.9,574.5 M181.1,570.8 L180.6,573.3 M179.2,569.6 L179.3,572.3 M177.4,568.7 L177.9,571.7 M175.7,568.3 L176.6,571.4 M174.1,568.4 L175.4,571.4 M172.7,568.9 L174.4,571.8 M171.6,569.8 L173.5,572.5 M170.7,571.2 L172.9,573.5 M170.2,572.9 L172.5,574.8 M170.0,574.9 L172.4,576.3 M170.2,577.1 L172.6,577.9 M170.8,579.4 L173.0,579.6 M171.6,581.8 L173.6,581.4 M172.8,584.1 L174.5,583.1 M174.2,586.2 L175.5,584.7 M175.8,588.1 L176.7,586.1 M177.5,589.8 L178.0,587.3 M179.4,591.0 L179.3,588.3 M181.2,591.9 L180.7,588.9 M182.9,592.3 L182.0,589.2 M184.5,592.2 L183.2,589.2" fill="none" stroke="#000" stroke-width="0.6" />
<path d="M162.4,625.0 L163.3,624.5 L164.0,623.8 L161.6,619.3 L162.2,618.7 L162.8,618.0 L166.2,621.3 L166.7,620.4 L167.2,619.4 L164.1,615.4 L164.5,614.5 L164.7,613.5 L168.3,615.8 L168.6,614.6 L168.7,613.3 L165.2,610.1 L165.3,608.9 L165.3,607.8 L168.8,608.8 L168.6,607.3 L168.4,605.8 L164.8,603.7 L164.6,602.5 L164.3,601.2 L167.4,600.9 L166.9,599.3 L166.4,597.8 L162.9,596.9 L162.4,595.6 L161.9,594.3 L164.3,592.7 L163.6,591.2 L162.8,589.7 L159.8,590.2 L159.0,588.9 L158.2,587.7 L159.8,584.9 L158.9,583.6 L157.8,582.2 L155.5,584.0 L154.6,583.0 L153.7,581.9 L154.3,578.2 L153.2,577.1 L152.0,576.0 L150.5,579.0 L149.5,578.2 L148.5,577.4 L148.1,573.1 L146.9,572.3 L145.7,571.6 L145.2,575.4 L144.2,575.0 L143.2,574.6 L141.8,569.9 L140.7,569.5 L139.5,569.3 L140.1,573.7 L139.1,573.6 L138.2,573.6 L136.0,569.0 L134.9,569.1 L133.9,569.3 L135.5,573.9 L134.7,574.2 L133.9,574.5 L130.9,570.4 L115.3,579.4 L114.5,579.9 L113.8,580.6 L116.1,585.1 L115.6,585.7 L115.0,586.4 L111.6,583.1 L111.1,584.0 L110.6,585.0 L113.6,589.0 L113.3,589.9 L113.1,590.9 L109.4,588.6 L109.2,589.8 L109.1,591.1 L112.5,594.3 L112.5,595.5 L112.5,596.6 L109.0,595.6 L109.2,597.1 L109.4,598.6 L113.0,600.7 L113.2,601.9 L113.5,603.2 L110.4,603.5 L110.9,605.1 L111.4,606.6 L114.8,607.5 L115.4,608.8 L115.9,610.1 L113.5,611.7 L114.2,613.2 L115.0,614.7 L118.0,614.2 L118.8,615.5 L119.5,616.7 L118.0,619.5 L118.9,620.8 L120.0,622.2 L122.3,620.4 L123.2,621.4 L124.1,622.5 L123.5,626.2 L124.6,627.3 L125.8,628.4 L127.3,625.4 L128.3,626.2 L129.3,627.0 L129.7,631.3 L130.9,632.1 L132.1,632.8 L132.5,629.0 L133.5,629.4 L134.5,629.8 L135.9,634.5 L137.1,634.9 L138.3,635.1 L137.7,630.7 L138.6,630.8 L139.6,630.8 L141.8,635.4 L142.9,635.3 L143.9,635.1 L142.3,630.5 L143.1,630.2 L143.9,629.9 L146.8,634.0Z" fill="#fff" stroke="#000" stroke-width="0.8" />
<path d="M147.1,630.7 L166.6,614.5 M149.0,628.5 L167.0,610.8 M150.0,626.6 L167.0,608.1 M151.0,623.3 L166.5,603.8 M151.4,620.9 L165.8,600.8 M151.4,616.9 L164.3,596.3 M151.1,614.0 L163.0,593.3 M150.1,609.6 L160.7,588.9 M149.2,606.6 L158.9,586.1 M147.3,602.1 L155.9,582.2 M145.8,599.2 L153.8,579.9 M143.2,595.0 L150.5,576.8 M141.3,592.3 L148.2,575.1 M138.1,588.8 L144.7,573.1 M135.9,586.7 L142.4,572.2 M132.4,584.0 L139.0,571.4 M130.1,582.6 L136.9,571.3 M126.6,581.1 L134.0,571.8" fill="none" stroke="#000" stroke-width="0.7200000000000001" />
<path d="M146.8,634.0 L147.7,633.5 L148.4,632.8 L146.1,628.3 L146.6,627.7 L147.2,627.0 L150.6,630.3 L151.1,629.4 L151.6,628.4 L148.6,624.4 L148.9,623.5 L149.1,622.5 L152.8,624.8 L153.0,623.6 L153.1,622.3 L149.7,619.1 L149.7,617.9 L149.7,616.8 L153.2,617.8 L153.0,616.3 L152.8,614.8 L149.2,612.7 L149.0,611.5 L148.7,610.2 L151.8,609.9 L151.3,608.3 L150.8,606.8 L147.4,605.9 L146.8,604.6 L146.3,603.3 L148.7,601.7 L148.0,600.2 L147.2,598.7 L144.2,599.2 L143.4,597.9 L142.7,596.7 L144.2,593.9 L143.3,592.6 L142.2,591.2 L139.9,593.0 L139.0,592.0 L138.1,590.9 L138.7,587.2 L137.6,586.1 L136.4,585.0 L134.9,588.0 L133.9,587.2 L132.9,586.4 L132.5,582.1 L131.3,581.3 L130.1,580.6 L129.7,584.4 L128.7,584.0 L127.7,583.6 L126.3,578.9 L125.1,578.5 L123.9,578.3 L124.5,582.7 L123.6,582.6 L122.6,582.6 L120.4,578.0 L119.3,578.1 L118.3,578.3 L119.9,582.9 L119.1,583.2 L118.3,583.5 L115.3,579.4 L114.5,579.9 L113.8,580.6 L116.1,585.1 L115.6,585.7 L115.0,586.4 L111.6,583.1 L111.1,584.0 L110.6,585.0 L113.6,589.0 L113.3,589.9 L113.1,590.9 L109.4,588.6 L109.2,589.8 L109.1,591.1 L112.5,594.3 L112.5,595.5 L112.5,596.6 L109.0,595.6 L109.2,597.1 L109.4,598.6 L113.0,600.7 L113.2,601.9 L113.5,603.2 L110.4,603.5 L110.9,605.1 L111.4,606.6 L114.8,607.5 L115.4,608.8 L115.9,610.1 L113.5,611.7 L114.2,613.2 L115.0,614.7 L118.0,614.2 L118.8,615.5 L119.5,616.7 L118.0,619.5 L118.9,620.8 L120.0,622.2 L122.3,620.4 L123.2,621.4 L124.1,622.5 L123.5,626.2 L124.6,627.3 L125.8,628.4 L127.3,625.4 L128.3,626.2 L129.3,627.0 L129.7,631.3 L130.9,632.1 L132.1,632.8 L132.5,629.0 L133.5,629.4 L134.5,629.8 L135.9,634.5 L137.1,634.9 L138.3,635.1 L137.7,630.7 L138.6,630.8 L139.6,630.8 L141.8,635.4 L142.9,635.3 L143.9,635.1 L142.3,630.5 L143.1,630.2 L143.9,629.9 L146.8,634.0Z" fill="#fff" stroke="#000" stroke-width="0.8" />
<path d="M141.7,625.4 L142.3,625.0 L142.8,624.6 L143.3,624.2 L143.7,623.7 L144.1,623.1 L144.5,622.6 L144.8,621.9 L145.1,621.3 L145.4,620.6 L145.6,619.8 L145.8,619.0 L145.9,618.2 L146.0,617.4 L146.1,616.5 L146.1,615.6 L146.1,614.7 L146.0,613.7 L145.9,612.7 L145.8,611.8 L145.6,610.8 L145.3,609.7 L145.1,608.7 L144.8,607.7 L144.4,606.7 L144.0,605.7 L143.6,604.6 L143.2,603.6 L142.7,602.6 L142.2,601.6 L141.6,600.6 L141.0,599.7 L140.4,598.7 L139.8,597.8 L139.1,596.9 L138.5,596.0 L137.8,595.2 L137.1,594.4 L136.3,593.6 L135.6,592.8 L134.8,592.1 L134.0,591.5 L133.3,590.8 L132.5,590.3 L131.7,589.7 L130.9,589.3 L130.1,588.8 L129.3,588.4 L128.5,588.1 L127.8,587.8 L127.0,587.6 L126.2,587.4 L125.5,587.2 L124.8,587.2 L124.1,587.1 L123.4,587.2 L122.7,587.3 L122.0,587.4 L121.4,587.6 L120.8,587.8 L120.2,588.1 L113.8,591.9 L113.2,592.2 L112.7,592.6 L112.2,593.1 L111.8,593.6 L111.4,594.1 L111.0,594.7 L110.7,595.3 L110.4,596.0 L110.1,596.7 L109.9,597.4 L109.7,598.2 L109.6,599.0 L109.5,599.9 L109.4,600.8 L109.4,601.7 L109.4,602.6 L109.5,603.5 L109.6,604.5 L109.7,605.5 L109.9,606.5 L110.2,607.5 L110.4,608.5 L110.7,609.5 L111.1,610.6 L111.5,611.6 L111.9,612.6 L112.3,613.6 L112.8,614.6 L113.3,615.6 L113.9,616.6 L114.5,617.6 L115.1,618.5 L115.7,619.5 L116.4,620.4 L117.0,621.2 L117.7,622.1 L118.4,622.9 L119.2,623.7 L119.9,624.4 L120.7,625.1 L121.5,625.8 L122.2,626.4 L123.0,627.0 L123.8,627.5 L124.6,628.0 L125.4,628.4 L126.2,628.8 L127.0,629.2 L127.7,629.5 L128.5,629.7 L129.3,629.9 L130.0,630.0 L130.7,630.1 L131.4,630.1 L132.1,630.1 L132.8,630.0 L133.5,629.8 L134.1,629.7 L134.7,629.4 L135.2,629.1Z" fill="#fff" stroke="#000" stroke-width="1.0" />
<ellipse cx="124.5" cy="610.5" rx="12.25" ry="21.50" transform="rotate(-30 124.5 610.5)" fill="#fff" stroke="#000" stroke-width="1.0"/>
<ellipse cx="124.5" cy="610.5" rx="7.84" ry="13.76" transform="rotate(-30 124.5 610.5)" fill="none" stroke="#000" stroke-width="0.9"/>
<path d="M119.3,598.4 L118.4,601.2 L118.4,604.7 L119.4,608.5 L121.2,612.4 L123.6,615.9 L126.5,618.7 L129.5,620.4 L132.4,621.0" fill="none" stroke="#000" stroke-width="0.7" />
<path d="M107.0,638.1 L107.4,637.9 L107.7,637.6 L108.0,637.3 L108.3,637.0 L108.5,636.7 L108.8,636.3 L109.0,635.9 L109.2,635.5 L109.3,635.0 L109.5,634.6 L109.6,634.1 L109.7,633.6 L109.7,633.0 L109.8,632.5 L109.8,631.9 L109.8,631.3 L109.7,630.7 L109.6,630.1 L109.5,629.5 L109.4,628.8 L109.3,628.2 L109.1,627.5 L108.9,626.9 L108.7,626.3 L108.5,625.6 L108.2,625.0 L107.9,624.3 L107.6,623.7 L107.3,623.0 L106.9,622.4 L106.6,621.8 L106.2,621.2 L105.8,620.6 L105.4,620.1 L104.9,619.5 L104.5,619.0 L104.0,618.5 L103.6,618.0 L103.1,617.5 L102.6,617.1 L102.1,616.6 L101.7,616.2 L101.2,615.9 L100.7,615.5 L100.2,615.2 L99.7,615.0 L99.2,614.7 L98.7,614.5 L98.2,614.3 L97.7,614.2 L97.2,614.0 L96.7,614.0 L96.3,613.9 L95.8,613.9 L95.4,613.9 L95.0,614.0 L94.5,614.1 L94.2,614.2 L93.8,614.3 L93.4,614.5 L87.7,617.8 L87.4,618.0 L87.0,618.3 L86.7,618.6 L86.5,618.9 L86.2,619.2 L86.0,619.6 L85.7,620.0 L85.6,620.4 L85.4,620.9 L85.3,621.3 L85.1,621.8 L85.1,622.3 L85.0,622.9 L85.0,623.4 L84.9,624.0 L85.0,624.6 L85.0,625.2 L85.1,625.8 L85.2,626.4 L85.3,627.1 L85.4,627.7 L85.6,628.4 L85.8,629.0 L86.0,629.6 L86.3,630.3 L86.5,630.9 L86.8,631.6 L87.1,632.2 L87.4,632.9 L87.8,633.5 L88.2,634.1 L88.5,634.7 L88.9,635.3 L89.3,635.8 L89.8,636.4 L90.2,636.9 L90.7,637.4 L91.1,637.9 L91.6,638.4 L92.1,638.8 L92.6,639.3 L93.1,639.7 L93.6,640.0 L94.1,640.4 L94.6,640.7 L95.1,640.9 L95.6,641.2 L96.1,641.4 L96.5,641.6 L97.0,641.7 L97.5,641.9 L98.0,641.9 L98.4,642.0 L98.9,642.0 L99.3,642.0 L99.8,641.9 L100.2,641.8 L100.6,641.7 L100.9,641.6 L101.3,641.4Z" fill="#fff" stroke="#000" stroke-width="0.9" />
<path d="M102.5,640.4 L108.2,637.1 M103.4,639.0 L109.1,635.7 M103.9,637.2 L109.6,633.9 M104.1,635.2 L109.8,631.9 M103.9,632.9 L109.6,629.6 M103.3,630.5 L109.0,627.2 M102.4,628.1 L108.1,624.8 M101.2,625.7 L106.9,622.4 M99.8,623.5 L105.5,620.2 M98.1,621.5 L103.8,618.2 M96.3,619.8 L102.0,616.5 M94.4,618.5 L100.2,615.2 M92.6,617.7 L98.3,614.4 M90.8,617.2 L96.5,613.9 M89.1,617.3 L94.9,614.0" fill="none" stroke="#000" stroke-width="0.75" />
<ellipse cx="94.5" cy="629.6" rx="7.75" ry="13.60" transform="rotate(-30 94.5 629.6)" fill="#fff" stroke="#000" stroke-width="0.9"/>
<clipPath id="c6"><path d="M99.3,637.8 L99.8,637.4 L100.3,636.9 L100.7,636.2 L101.0,635.4 L101.1,634.5 L101.2,633.5 L101.1,632.5 L100.9,631.4 L100.7,630.2 L100.3,629.1 L99.8,628.0 L99.2,626.9 L98.5,625.8 L97.8,624.8 L97.0,623.9 L96.2,623.1 L95.3,622.4 L94.5,621.9 L93.6,621.4 L92.7,621.1 L91.9,620.9 L91.1,620.9 L90.4,621.1 L89.7,621.4 L89.2,621.8 L88.7,622.3 L88.3,623.0 L88.0,623.8 L87.9,624.7 L87.8,625.7 L87.9,626.7 L88.1,627.8 L88.3,629.0 L88.7,630.1 L89.2,631.2 L89.8,632.3 L90.5,633.4 L91.2,634.4 L92.0,635.3 L92.8,636.1 L93.7,636.8 L94.5,637.3 L95.4,637.8 L96.3,638.1 L97.1,638.3 L97.9,638.3 L98.6,638.1 L99.3,637.8Z"/></clipPath>
<path d="M99.3,637.8 L99.8,637.4 L100.3,636.9 L100.7,636.2 L101.0,635.4 L101.1,634.5 L101.2,633.5 L101.1,632.5 L100.9,631.4 L100.7,630.2 L100.3,629.1 L99.8,628.0 L99.2,626.9 L98.5,625.8 L97.8,624.8 L97.0,623.9 L96.2,623.1 L95.3,622.4 L94.5,621.9 L93.6,621.4 L92.7,621.1 L91.9,620.9 L91.1,620.9 L90.4,621.1 L89.7,621.4 L89.2,621.8 L88.7,622.3 L88.3,623.0 L88.0,623.8 L87.9,624.7 L87.8,625.7 L87.9,626.7 L88.1,627.8 L88.3,629.0 L88.7,630.1 L89.2,631.2 L89.8,632.3 L90.5,633.4 L91.2,634.4 L92.0,635.3 L92.8,636.1 L93.7,636.8 L94.5,637.3 L95.4,637.8 L96.3,638.1 L97.1,638.3 L97.9,638.3 L98.6,638.1 L99.3,637.8Z" fill="#fff" stroke="#000" stroke-width="0.9" />
<g clip-path="url(#c6)">
<path d="M99.3,637.8 L105.0,634.5 M100.1,637.2 L105.8,633.9 M90.7,621.0 L96.5,617.7 M89.7,621.4 L95.5,618.1 M88.9,622.0 L94.6,618.7 M88.3,623.0 L94.0,619.7 M87.9,624.3 L93.6,621.0 M87.8,625.7 L93.5,622.4 M87.9,627.3 L93.7,624.0 M88.3,629.0 L94.1,625.7 M89.0,630.7 L94.7,627.4 M89.8,632.3 L95.5,629.0 M90.8,633.9 L96.5,630.6 M92.0,635.3 L97.7,632.0 M93.2,636.4 L99.0,633.1 M94.5,637.3 L100.3,634.0 M95.8,638.0 L101.6,634.7 M97.1,638.3 L102.8,635.0 M98.3,638.2 L104.0,634.9" fill="none" stroke="#000" stroke-width="0.75" />
<ellipse cx="100.2" cy="626.3" rx="5.43" ry="9.52" transform="rotate(-30 100.2 626.3)" fill="#fff" stroke="#000" stroke-width="0.8"/>
</g>
<path d="M101.1,641.0 L99.4,638.1 M102.2,640.1 L100.3,637.4 M103.1,638.7 L100.9,636.4 M103.6,637.0 L101.3,635.1 M103.8,635.0 L101.4,633.6 M103.6,632.8 L101.2,632.0 M103.0,630.5 L100.8,630.3 M102.2,628.1 L100.2,628.5 M101.0,625.8 L99.3,626.8 M99.6,623.7 L98.3,625.2 M98.0,621.8 L97.1,623.8 M96.3,620.1 L95.8,622.6 M94.4,618.9 L94.5,621.6 M92.6,618.0 L93.1,621.0 M90.9,617.6 L91.8,620.7 M89.3,617.7 L90.6,620.7 M87.9,618.2 L89.6,621.1 M86.8,619.1 L88.7,621.8 M85.9,620.5 L88.1,622.8 M85.4,622.2 L87.7,624.1 M85.2,624.2 L87.6,625.6 M85.4,626.4 L87.8,627.2 M86.0,628.7 L88.2,628.9 M86.8,631.1 L88.8,630.7 M88.0,633.4 L89.7,632.4 M89.4,635.5 L90.7,634.0 M91.0,637.4 L91.9,635.4 M92.7,639.1 L93.2,636.6 M94.6,640.3 L94.5,637.6 M96.4,641.2 L95.9,638.2 M98.1,641.6 L97.2,638.5 M99.7,641.5 L98.4,638.5" fill="none" stroke="#000" stroke-width="0.6" />
<path d="M593.3,575.4 L593.6,575.2 L593.9,574.9 L594.2,574.7 L594.4,574.4 L594.7,574.1 L594.9,573.7 L595.1,573.4 L595.3,573.0 L595.4,572.5 L595.5,572.1 L595.6,571.7 L595.7,571.2 L595.8,570.7 L595.8,570.2 L595.8,569.7 L595.8,569.1 L595.7,568.6 L595.7,568.0 L595.6,567.4 L595.5,566.8 L595.3,566.3 L595.2,565.7 L595.0,565.1 L594.8,564.5 L594.5,563.9 L594.3,563.3 L594.0,562.7 L593.7,562.1 L593.4,561.5 L593.1,561.0 L592.8,560.4 L592.4,559.9 L592.0,559.3 L591.6,558.8 L591.3,558.3 L590.8,557.8 L590.4,557.4 L590.0,556.9 L589.6,556.5 L589.1,556.1 L588.7,555.7 L588.2,555.3 L587.7,555.0 L587.3,554.7 L586.8,554.4 L586.4,554.2 L585.9,553.9 L585.4,553.8 L585.0,553.6 L584.5,553.5 L584.1,553.4 L583.7,553.3 L583.2,553.2 L582.8,553.2 L582.4,553.3 L582.0,553.3 L581.7,553.4 L581.3,553.5 L580.9,553.6 L580.6,553.8 L574.2,557.6 L573.8,557.8 L573.5,558.1 L573.3,558.3 L573.0,558.6 L572.8,558.9 L572.6,559.3 L572.4,559.6 L572.2,560.0 L572.1,560.4 L571.9,560.9 L571.8,561.3 L571.8,561.8 L571.7,562.3 L571.7,562.8 L571.7,563.3 L571.7,563.9 L571.7,564.4 L571.8,565.0 L571.9,565.6 L572.0,566.1 L572.1,566.7 L572.3,567.3 L572.5,567.9 L572.7,568.5 L572.9,569.1 L573.2,569.7 L573.4,570.3 L573.7,570.9 L574.0,571.4 L574.4,572.0 L574.7,572.6 L575.1,573.1 L575.4,573.7 L575.8,574.2 L576.2,574.7 L576.6,575.2 L577.0,575.6 L577.5,576.1 L577.9,576.5 L578.4,576.9 L578.8,577.3 L579.3,577.7 L579.7,578.0 L580.2,578.3 L580.6,578.6 L581.1,578.8 L581.6,579.0 L582.0,579.2 L582.5,579.4 L582.9,579.5 L583.4,579.6 L583.8,579.7 L584.2,579.8 L584.6,579.8 L585.0,579.7 L585.4,579.7 L585.8,579.6 L586.2,579.5 L586.5,579.3 L586.8,579.2Z" fill="#fff" stroke="#000" stroke-width="0.9" />
<path d="M587.9,578.3 L594.4,574.5 M588.7,577.0 L595.2,573.2 M589.2,575.3 L595.6,571.5 M589.3,573.5 L595.8,569.7 M589.1,571.4 L595.6,567.6 M588.6,569.2 L595.1,565.4 M587.8,567.0 L594.2,563.1 M586.6,564.8 L593.1,561.0 M585.3,562.8 L591.7,558.9 M583.7,560.9 L590.2,557.1 M582.1,559.4 L588.5,555.6 M580.4,558.2 L586.8,554.4 M578.6,557.4 L585.1,553.6 M577.0,557.1 L583.5,553.3 M575.5,557.1 L581.9,553.3" fill="none" stroke="#000" stroke-width="0.75" />
<ellipse cx="580.5" cy="568.4" rx="7.12" ry="12.50" transform="rotate(-30.5 580.5 568.4)" fill="#fff" stroke="#000" stroke-width="0.9"/>
<clipPath id="c7"><path d="M585.6,577.0 L586.2,576.6 L586.7,576.0 L587.1,575.3 L587.4,574.4 L587.5,573.5 L587.6,572.4 L587.5,571.4 L587.3,570.2 L587.0,569.0 L586.6,567.8 L586.0,566.7 L585.4,565.5 L584.7,564.4 L583.9,563.4 L583.1,562.4 L582.2,561.6 L581.3,560.9 L580.4,560.3 L579.5,559.8 L578.6,559.5 L577.7,559.3 L576.9,559.3 L576.1,559.5 L575.4,559.8 L574.8,560.2 L574.3,560.8 L573.9,561.5 L573.6,562.4 L573.5,563.3 L573.4,564.4 L573.5,565.4 L573.7,566.6 L574.0,567.8 L574.4,569.0 L575.0,570.1 L575.6,571.3 L576.3,572.4 L577.1,573.4 L577.9,574.4 L578.8,575.2 L579.7,575.9 L580.6,576.5 L581.5,577.0 L582.4,577.3 L583.3,577.5 L584.1,577.5 L584.9,577.3 L585.6,577.0Z"/></clipPath>
<path d="M585.6,577.0 L586.2,576.6 L586.7,576.0 L587.1,575.3 L587.4,574.4 L587.5,573.5 L587.6,572.4 L587.5,571.4 L587.3,570.2 L587.0,569.0 L586.6,567.8 L586.0,566.7 L585.4,565.5 L584.7,564.4 L583.9,563.4 L583.1,562.4 L582.2,561.6 L581.3,560.9 L580.4,560.3 L579.5,559.8 L578.6,559.5 L577.7,559.3 L576.9,559.3 L576.1,559.5 L575.4,559.8 L574.8,560.2 L574.3,560.8 L573.9,561.5 L573.6,562.4 L573.5,563.3 L573.4,564.4 L573.5,565.4 L573.7,566.6 L574.0,567.8 L574.4,569.0 L575.0,570.1 L575.6,571.3 L576.3,572.4 L577.1,573.4 L577.9,574.4 L578.8,575.2 L579.7,575.9 L580.6,576.5 L581.5,577.0 L582.4,577.3 L583.3,577.5 L584.1,577.5 L584.9,577.3 L585.6,577.0Z" fill="#fff" stroke="#000" stroke-width="0.9" />
<g clip-path="url(#c7)">
<path d="M585.6,577.0 L592.0,573.2 M586.4,576.3 L592.9,572.5 M576.5,559.4 L582.9,555.6 M575.4,559.8 L581.9,556.0 M574.6,560.5 L581.0,556.7 M573.9,561.5 L580.4,557.7 M573.6,562.8 L580.0,559.0 M573.4,564.4 L579.9,560.5 M573.6,566.0 L580.1,562.2 M574.0,567.8 L580.5,564.0 M574.7,569.6 L581.2,565.7 M575.6,571.3 L582.1,567.5 M576.7,572.9 L583.1,569.1 M577.9,574.4 L584.4,570.6 M579.2,575.6 L585.7,571.8 M580.6,576.5 L587.1,572.7 M582.0,577.2 L588.5,573.4 M583.3,577.5 L589.8,573.7 M584.5,577.4 L591.0,573.6" fill="none" stroke="#000" stroke-width="0.75" />
<ellipse cx="587.0" cy="564.6" rx="5.70" ry="10.00" transform="rotate(-30.5 587.0 564.6)" fill="#fff" stroke="#000" stroke-width="0.8"/>
</g>
<path d="M586.7,578.8 L585.7,577.3 M587.7,578.0 L586.6,576.5 M588.5,576.7 L587.3,575.5 M588.9,575.1 L587.7,574.1 M589.1,573.3 L587.8,572.6 M588.9,571.3 L587.6,570.9 M588.4,569.2 L587.2,569.0 M587.5,567.0 L586.5,567.2 M586.5,564.9 L585.6,565.4 M585.1,562.9 L584.4,563.7 M583.6,561.2 L583.2,562.3 M582.0,559.7 L581.8,561.0 M580.4,558.5 L580.4,560.0 M578.7,557.8 L579.0,559.4 M577.1,557.4 L577.6,559.1 M575.6,557.5 L576.4,559.1 M574.3,558.0 L575.3,559.5 M573.3,558.8 L574.4,560.3 M572.5,560.1 L573.7,561.3 M572.1,561.7 L573.3,562.7 M571.9,563.5 L573.2,564.2 M572.1,565.5 L573.4,565.9 M572.6,567.6 L573.8,567.8 M573.5,569.8 L574.5,569.6 M574.5,571.9 L575.4,571.4 M575.9,573.9 L576.6,573.1 M577.4,575.6 L577.8,574.5 M579.0,577.1 L579.2,575.8 M580.6,578.3 L580.6,576.8 M582.3,579.0 L582.0,577.4 M583.9,579.4 L583.4,577.7 M585.4,579.3 L584.6,577.7" fill="none" stroke="#000" stroke-width="0.6" />
<path d="M565.7,606.4 L566.4,605.9 L565.0,603.2 L565.7,602.7 L567.5,604.9 L568.2,604.2 L566.6,601.7 L567.0,600.9 L569.0,602.9 L569.5,602.0 L567.7,599.6 L568.1,598.8 L570.1,600.4 L570.4,599.3 L568.5,597.2 L568.7,596.2 L570.8,597.4 L570.9,596.2 L568.9,594.5 L568.9,593.3 L571.0,594.2 L570.9,592.9 L568.8,591.4 L568.7,590.2 L570.7,590.6 L570.5,589.2 L568.4,588.2 L568.1,586.9 L569.9,586.9 L569.5,585.5 L567.5,584.8 L567.1,583.6 L568.8,583.1 L568.2,581.7 L566.3,581.5 L565.7,580.2 L567.2,579.3 L566.5,577.9 L564.7,578.1 L564.0,576.9 L565.2,575.6 L564.4,574.3 L562.8,574.9 L562.0,573.7 L562.9,572.1 L562.0,570.9 L560.6,571.9 L559.8,570.8 L560.4,568.9 L559.4,567.8 L558.3,569.2 L557.3,568.2 L557.6,566.0 L556.6,565.1 L555.8,566.8 L554.8,566.0 L554.7,563.6 L553.6,562.8 L553.1,564.8 L552.1,564.2 L551.8,561.6 L550.7,561.0 L550.5,563.3 L549.5,562.9 L548.9,560.2 L547.7,559.8 L547.9,562.3 L547.0,562.1 L546.0,559.4 L544.9,559.2 L545.4,561.8 L544.5,561.8 L543.3,559.1 L542.3,559.2 L543.1,561.8 L542.3,562.0 L540.8,559.4 L539.9,559.7 L541.0,562.4 L540.3,562.8 L538.6,560.4 L523.7,569.1 L523.0,569.6 L524.3,572.2 L523.7,572.8 L521.9,570.6 L521.2,571.3 L522.8,573.8 L522.4,574.5 L520.3,572.6 L519.9,573.5 L521.7,575.8 L521.3,576.7 L519.3,575.1 L519.0,576.2 L520.9,578.2 L520.7,579.2 L518.6,578.0 L518.5,579.2 L520.5,581.0 L520.5,582.1 L518.4,581.3 L518.5,582.6 L520.6,584.0 L520.7,585.2 L518.7,584.8 L518.9,586.2 L521.0,587.3 L521.3,588.5 L519.4,588.5 L519.8,590.0 L521.9,590.6 L522.3,591.9 L520.6,592.3 L521.2,593.8 L523.1,594.0 L523.7,595.3 L522.2,596.1 L522.9,597.5 L524.7,597.3 L525.4,598.6 L524.2,599.8 L525.0,601.2 L526.6,600.6 L527.4,601.7 L526.5,603.3 L527.4,604.6 L528.8,603.6 L529.6,604.6 L529.0,606.5 L530.0,607.7 L531.1,606.3 L532.1,607.2 L531.8,609.4 L532.8,610.4 L533.6,608.7 L534.6,609.4 L534.6,611.9 L535.8,612.7 L536.2,610.6 L537.2,611.2 L537.6,613.8 L538.7,614.4 L538.9,612.1 L539.9,612.6 L540.5,615.2 L541.6,615.6 L541.5,613.1 L542.4,613.4 L543.4,616.1 L544.5,616.3 L544.0,613.6 L544.9,613.7 L546.1,616.4 L547.1,616.3 L546.3,613.6 L547.1,613.5 L548.6,616.0 L549.5,615.7 L548.4,613.0 L549.1,612.7 L550.8,615.1Z" fill="#fff" stroke="#000" stroke-width="1.0" />
<path d="M551.9,612.4 L565.4,604.8 M552.3,612.0 L565.8,604.5 M553.3,610.5 L567.1,603.3 M553.6,610.0 L567.4,602.8 M554.3,608.1 L568.4,601.3 M554.5,607.5 L568.7,600.7 M554.9,605.4 L569.3,598.8 M555.0,604.6 L569.5,598.1 M555.1,602.3 L569.8,596.0 M555.1,601.5 L569.9,595.2 M554.8,599.0 L569.9,592.8 M554.7,598.1 L569.8,592.0 M554.1,595.5 L569.5,589.4 M553.9,594.6 L569.4,588.5 M553.0,591.9 L568.7,585.9 M552.7,591.0 L568.5,585.0 M551.5,588.3 L567.5,582.3 M551.1,587.4 L567.2,581.4 M549.7,584.8 L565.9,578.7 M549.2,583.9 L565.5,577.8 M547.5,581.5 L564.0,575.3 M546.9,580.7 L563.5,574.4 M545.1,578.4 L561.8,572.0 M544.5,577.7 L561.2,571.2 M542.5,575.7 L559.3,569.0 M541.8,575.1 L558.7,568.3 M539.8,573.4 L556.7,566.4 M539.1,572.9 L556.0,565.8 M537.0,571.6 L553.9,564.2 M536.3,571.2 L553.3,563.7 M534.2,570.2 L551.2,562.5 M533.5,570.0 L550.5,562.1 M531.5,569.4 L548.4,561.2 M530.8,569.3 L547.7,561.0 M528.9,569.2 L545.7,560.6 M528.3,569.2 L545.1,560.5 M526.6,569.5 L543.2,560.5 M526.0,569.6 L542.6,560.5" fill="none" stroke="#000" stroke-width="0.8" />
<path d="M550.8,615.1 L551.6,614.6 L550.2,612.0 L550.8,611.4 L552.7,613.6 L553.3,612.9 L551.7,610.4 L552.2,609.7 L554.2,611.6 L554.7,610.7 L552.9,608.4 L553.2,607.5 L555.3,609.1 L555.6,608.0 L553.7,606.0 L553.9,604.9 L556.0,606.2 L556.1,605.0 L554.0,603.2 L554.1,602.1 L556.1,602.9 L556.1,601.6 L554.0,600.2 L553.9,599.0 L555.9,599.4 L555.6,598.0 L553.5,596.9 L553.3,595.7 L555.1,595.7 L554.7,594.2 L552.7,593.6 L552.3,592.3 L553.9,591.9 L553.4,590.4 L551.4,590.2 L550.9,588.9 L552.4,588.1 L551.7,586.6 L549.9,586.8 L549.2,585.6 L550.4,584.4 L549.6,583.0 L548.0,583.6 L547.2,582.5 L548.1,580.9 L547.2,579.6 L545.8,580.6 L544.9,579.6 L545.6,577.6 L544.5,576.5 L543.5,577.9 L542.5,577.0 L542.8,574.8 L541.7,573.8 L540.9,575.5 L540.0,574.7 L539.9,572.3 L538.8,571.5 L538.3,573.6 L537.3,572.9 L537.0,570.4 L535.9,569.8 L535.7,572.1 L534.7,571.6 L534.0,568.9 L532.9,568.5 L533.1,571.0 L532.1,570.8 L531.2,568.1 L530.1,567.9 L530.6,570.5 L529.7,570.5 L528.5,567.8 L527.5,567.9 L528.3,570.6 L527.5,570.7 L526.0,568.2 L525.1,568.4 L526.2,571.1 L525.4,571.5 L523.7,569.1 L523.0,569.6 L524.3,572.2 L523.7,572.8 L521.9,570.6 L521.2,571.3 L522.8,573.8 L522.4,574.5 L520.3,572.6 L519.9,573.5 L521.7,575.8 L521.3,576.7 L519.3,575.1 L519.0,576.2 L520.9,578.2 L520.7,579.2 L518.6,578.0 L518.5,579.2 L520.5,581.0 L520.5,582.1 L518.4,581.3 L518.5,582.6 L520.6,584.0 L520.7,585.2 L518.7,584.8 L518.9,586.2 L521.0,587.3 L521.3,588.5 L519.4,588.5 L519.8,590.0 L521.9,590.6 L522.3,591.9 L520.6,592.3 L521.2,593.8 L523.1,594.0 L523.7,595.3 L522.2,596.1 L522.9,597.5 L524.7,597.3 L525.4,598.6 L524.2,599.8 L525.0,601.2 L526.6,600.6 L527.4,601.7 L526.5,603.3 L527.4,604.6 L528.8,603.6 L529.6,604.6 L529.0,606.5 L530.0,607.7 L531.1,606.3 L532.1,607.2 L531.8,609.4 L532.8,610.4 L533.6,608.7 L534.6,609.4 L534.6,611.9 L535.8,612.7 L536.2,610.6 L537.2,611.2 L537.6,613.8 L538.7,614.4 L538.9,612.1 L539.9,612.6 L540.5,615.2 L541.6,615.6 L541.5,613.1 L542.4,613.4 L543.4,616.1 L544.5,616.3 L544.0,613.6 L544.9,613.7 L546.1,616.4 L547.1,616.3 L546.3,613.6 L547.1,613.5 L548.6,616.0 L549.5,615.7 L548.4,613.0 L549.1,612.7 L550.8,615.1Z" fill="#fff" stroke="#000" stroke-width="1.0" />
<ellipse cx="537.3" cy="592.1" rx="12.46" ry="21.86" transform="rotate(-30.5 537.3 592.1)" fill="none" stroke="#000" stroke-width="0.7"/>
<path d="M546.6,608.1 L547.1,607.8 L547.5,607.4 L547.9,607.0 L548.3,606.6 L548.6,606.2 L548.9,605.6 L549.2,605.1 L549.5,604.5 L549.7,603.9 L549.9,603.3 L550.0,602.6 L550.1,601.9 L550.2,601.2 L550.3,600.4 L550.3,599.6 L550.2,598.8 L550.2,598.0 L550.1,597.2 L549.9,596.3 L549.8,595.5 L549.6,594.6 L549.3,593.7 L549.0,592.9 L548.7,592.0 L548.4,591.1 L548.0,590.2 L547.6,589.3 L547.2,588.5 L546.8,587.6 L546.3,586.8 L545.8,586.0 L545.3,585.2 L544.7,584.4 L544.1,583.6 L543.5,582.8 L542.9,582.1 L542.3,581.4 L541.7,580.8 L541.0,580.1 L540.4,579.5 L539.7,579.0 L539.0,578.4 L538.4,578.0 L537.7,577.5 L537.0,577.1 L536.3,576.7 L535.6,576.4 L534.9,576.1 L534.3,575.9 L533.6,575.7 L533.0,575.5 L532.3,575.4 L531.7,575.3 L531.1,575.3 L530.5,575.4 L529.9,575.4 L529.3,575.6 L528.8,575.7 L528.3,575.9 L527.8,576.2 L508.9,587.4 L508.4,587.7 L508.0,588.0 L507.5,588.4 L507.2,588.8 L506.8,589.3 L506.5,589.8 L506.2,590.3 L506.0,590.9 L505.8,591.5 L505.6,592.2 L505.4,592.9 L505.3,593.6 L505.2,594.3 L505.2,595.0 L505.2,595.8 L505.2,596.6 L505.3,597.4 L505.4,598.3 L505.5,599.1 L505.7,600.0 L505.9,600.8 L506.1,601.7 L506.4,602.6 L506.7,603.5 L507.0,604.4 L507.4,605.2 L507.8,606.1 L508.2,607.0 L508.7,607.8 L509.2,608.7 L509.7,609.5 L510.2,610.3 L510.7,611.1 L511.3,611.9 L511.9,612.6 L512.5,613.3 L513.1,614.0 L513.8,614.7 L514.4,615.3 L515.1,615.9 L515.7,616.5 L516.4,617.0 L517.1,617.5 L517.8,618.0 L518.5,618.4 L519.1,618.7 L519.8,619.1 L520.5,619.3 L521.2,619.6 L521.8,619.8 L522.5,619.9 L523.1,620.0 L523.8,620.1 L524.4,620.1 L525.0,620.1 L525.5,620.0 L526.1,619.9 L526.6,619.7 L527.1,619.5 L527.6,619.2Z" fill="#fff" stroke="#000" stroke-width="1.0" />
<ellipse cx="518.2" cy="603.3" rx="10.54" ry="18.50" transform="rotate(-30.5 518.2 603.3)" fill="#fff" stroke="#000" stroke-width="1.0"/>
<path d="M513.0,588.8 L510.5,589.4 L508.6,591.1 L507.4,593.6 L507.0,596.9 L507.5,600.6 L508.8,604.6 L510.8,608.4 L513.3,611.9" fill="none" stroke="#000" stroke-width="0.6" />
<path d="M524.4,613.2 L524.7,613.0 L525.0,612.8 L525.3,612.6 L525.5,612.3 L525.7,612.0 L525.9,611.7 L526.1,611.4 L526.3,611.0 L526.4,610.6 L526.5,610.2 L526.6,609.8 L526.7,609.3 L526.7,608.9 L526.8,608.4 L526.8,607.9 L526.7,607.4 L526.7,606.9 L526.6,606.3 L526.6,605.8 L526.4,605.3 L526.3,604.7 L526.2,604.2 L526.0,603.6 L525.8,603.1 L525.6,602.5 L525.4,601.9 L525.1,601.4 L524.8,600.8 L524.6,600.3 L524.2,599.8 L523.9,599.2 L523.6,598.7 L523.2,598.2 L522.9,597.7 L522.5,597.3 L522.1,596.8 L521.7,596.4 L521.3,596.0 L520.9,595.6 L520.5,595.2 L520.1,594.8 L519.7,594.5 L519.2,594.2 L518.8,593.9 L518.4,593.6 L517.9,593.4 L517.5,593.2 L517.1,593.0 L516.7,592.9 L516.2,592.7 L515.8,592.6 L515.4,592.6 L515.0,592.5 L514.6,592.5 L514.3,592.5 L513.9,592.6 L513.5,592.7 L513.2,592.8 L512.9,592.9 L512.6,593.1 L463.5,622.0 L463.2,622.2 L462.9,622.4 L462.6,622.7 L462.4,622.9 L462.2,623.2 L462.0,623.5 L461.8,623.9 L461.6,624.3 L461.5,624.6 L461.4,625.0 L461.3,625.5 L461.2,625.9 L461.2,626.4 L461.1,626.9 L461.1,627.4 L461.1,627.9 L461.2,628.4 L461.3,628.9 L461.3,629.4 L461.4,630.0 L461.6,630.5 L461.7,631.1 L461.9,631.6 L462.1,632.2 L462.3,632.7 L462.5,633.3 L462.8,633.9 L463.1,634.4 L463.3,634.9 L463.6,635.5 L464.0,636.0 L464.3,636.5 L464.6,637.0 L465.0,637.5 L465.4,638.0 L465.8,638.4 L466.2,638.9 L466.6,639.3 L467.0,639.7 L467.4,640.1 L467.8,640.4 L468.2,640.7 L468.7,641.1 L469.1,641.3 L469.5,641.6 L470.0,641.8 L470.4,642.0 L470.8,642.2 L471.2,642.4 L471.7,642.5 L472.1,642.6 L472.5,642.7 L472.9,642.7 L473.3,642.7 L473.6,642.7 L474.0,642.6 L474.4,642.6 L474.7,642.5 L475.0,642.3 L475.3,642.2Z" fill="#fff" stroke="#000" stroke-width="1.0" />
<ellipse cx="469.4" cy="632.1" rx="6.67" ry="11.70" transform="rotate(-30.5 469.4 632.1)" fill="#fff" stroke="#000" stroke-width="1.0"/>
<path d="M475.4,642.3 L476.0,641.9 L476.5,641.5 L475.3,639.3 L475.6,638.8 L475.8,638.2 L477.5,639.2 L477.7,638.4 L477.8,637.5 L476.1,635.9 L476.1,635.1 L476.0,634.3 L477.5,634.2 L477.2,633.2 L476.9,632.1 L475.2,631.5 L474.8,630.7 L474.4,629.9 L475.2,628.6 L474.6,627.6 L473.9,626.7 L472.7,627.3 L472.1,626.6 L471.4,626.0 L471.4,624.0 L470.6,623.3 L469.8,622.7 L469.3,624.3 L468.6,624.0 L468.0,623.7 L467.1,621.5 L466.3,621.3 L465.5,621.3 L465.9,623.4 L465.4,623.5 L464.9,623.7 L463.3,621.8 L423.7,645.2 L423.2,645.6 L422.7,646.1 L423.9,648.2 L423.6,648.7 L423.3,649.3 L421.6,648.3 L421.4,649.1 L421.4,650.0 L423.0,651.6 L423.1,652.4 L423.2,653.2 L421.7,653.3 L421.9,654.4 L422.3,655.4 L424.0,656.0 L424.4,656.8 L424.8,657.7 L423.9,658.9 L424.5,659.9 L425.2,660.8 L426.5,660.2 L427.1,660.9 L427.7,661.5 L427.7,663.5 L428.5,664.2 L429.4,664.8 L429.9,663.2 L430.5,663.5 L431.2,663.8 L432.1,666.0 L432.9,666.2 L433.6,666.2 L433.2,664.1 L433.8,664.0 L434.3,663.8 L435.8,665.7Z" fill="#fff" stroke="#000" stroke-width="0.9" />
<path d="M436.9,664.7 L476.5,641.4 M437.9,662.6 L477.5,639.2 M438.2,660.7 L477.8,637.4 M437.8,657.6 L477.5,634.2 M437.2,655.3 L476.8,632.0 M435.6,652.0 L475.2,628.6 M434.2,649.9 L473.9,626.6 M431.8,647.3 L471.4,624.0 M430.1,646.0 L469.7,622.7 M427.4,644.8 L467.1,621.5 M425.8,644.6 L465.5,621.3" fill="none" stroke="#000" stroke-width="0.7" />
<path d="M435.8,665.7 L436.3,665.3 L436.8,664.8 L435.6,662.6 L435.9,662.1 L436.2,661.6 L437.9,662.6 L438.1,661.7 L438.2,660.8 L436.5,659.3 L436.4,658.5 L436.3,657.7 L437.8,657.6 L437.6,656.5 L437.2,655.4 L435.5,654.9 L435.1,654.0 L434.7,653.2 L435.6,652.0 L435.0,651.0 L434.3,650.0 L433.0,650.6 L432.4,650.0 L431.8,649.3 L431.8,647.3 L431.0,646.7 L430.1,646.1 L429.6,647.7 L429.0,647.3 L428.3,647.1 L427.4,644.8 L426.7,644.7 L425.9,644.6 L426.3,646.8 L425.7,646.9 L425.2,647.1 L423.7,645.2 L423.2,645.6 L422.7,646.1 L423.9,648.2 L423.6,648.7 L423.3,649.3 L421.6,648.3 L421.4,649.1 L421.4,650.0 L423.0,651.6 L423.1,652.4 L423.2,653.2 L421.7,653.3 L421.9,654.4 L422.3,655.4 L424.0,656.0 L424.4,656.8 L424.8,657.7 L423.9,658.9 L424.5,659.9 L425.2,660.8 L426.5,660.2 L427.1,660.9 L427.7,661.5 L427.7,663.5 L428.5,664.2 L429.4,664.8 L429.9,663.2 L430.5,663.5 L431.2,663.8 L432.1,666.0 L432.9,666.2 L433.6,666.2 L433.2,664.1 L433.8,664.0 L434.3,663.8 L435.8,665.7Z" fill="#fff" stroke="#000" stroke-width="0.9" />
<path d="M434.1,662.8 L434.3,662.7 L434.5,662.5 L434.7,662.4 L434.9,662.2 L435.1,661.9 L435.2,661.7 L435.3,661.5 L435.5,661.2 L435.6,660.9 L435.6,660.6 L435.7,660.3 L435.8,660.0 L435.8,659.6 L435.8,659.3 L435.8,658.9 L435.8,658.5 L435.8,658.2 L435.7,657.8 L435.7,657.4 L435.6,657.0 L435.5,656.6 L435.4,656.2 L435.3,655.8 L435.1,655.4 L435.0,654.9 L434.8,654.5 L434.6,654.1 L434.4,653.7 L434.2,653.3 L434.0,652.9 L433.7,652.6 L433.5,652.2 L433.2,651.8 L433.0,651.5 L432.7,651.1 L432.4,650.8 L432.1,650.5 L431.8,650.1 L431.5,649.9 L431.2,649.6 L430.9,649.3 L430.6,649.1 L430.3,648.8 L430.0,648.6 L429.7,648.4 L429.3,648.3 L429.0,648.1 L428.7,648.0 L428.4,647.9 L428.1,647.8 L427.8,647.7 L427.5,647.7 L427.2,647.6 L426.9,647.6 L426.6,647.6 L426.4,647.7 L426.1,647.7 L425.9,647.8 L425.6,647.9 L425.4,648.0 L417.6,652.6 L417.4,652.7 L417.2,652.9 L417.0,653.1 L416.9,653.3 L416.7,653.5 L416.5,653.7 L416.4,654.0 L416.3,654.2 L416.2,654.5 L416.1,654.8 L416.0,655.1 L416.0,655.5 L415.9,655.8 L415.9,656.2 L415.9,656.5 L415.9,656.9 L416.0,657.3 L416.0,657.7 L416.1,658.1 L416.2,658.4 L416.3,658.9 L416.4,659.3 L416.5,659.7 L416.6,660.1 L416.8,660.5 L417.0,660.9 L417.1,661.3 L417.3,661.7 L417.6,662.1 L417.8,662.5 L418.0,662.9 L418.3,663.2 L418.5,663.6 L418.8,664.0 L419.0,664.3 L419.3,664.7 L419.6,665.0 L419.9,665.3 L420.2,665.6 L420.5,665.9 L420.8,666.1 L421.1,666.4 L421.5,666.6 L421.8,666.8 L422.1,667.0 L422.4,667.2 L422.7,667.3 L423.0,667.5 L423.4,667.6 L423.7,667.7 L424.0,667.7 L424.3,667.8 L424.6,667.8 L424.8,667.8 L425.1,667.8 L425.4,667.8 L425.7,667.7 L425.9,667.6 L426.1,667.5 L426.4,667.4Z" fill="#fff" stroke="#000" stroke-width="0.9" />
<ellipse cx="422.0" cy="660.0" rx="4.90" ry="8.60" transform="rotate(-30.5 422.0 660.0)" fill="#fff" stroke="#000" stroke-width="0.9"/>
<path d="M409.5,701.0 L410.2,700.5 L410.9,700.0 L411.5,699.4 L412.1,698.7 L412.7,698.0 L413.2,697.2 L413.6,696.3 L414.0,695.4 L414.4,694.4 L414.6,693.4 L414.9,692.3 L415.1,691.2 L415.2,690.1 L415.2,688.9 L415.3,687.7 L415.2,686.4 L415.1,685.1 L415.0,683.8 L414.7,682.5 L414.5,681.1 L414.1,679.7 L413.8,678.4 L413.3,677.0 L412.9,675.6 L412.3,674.2 L411.7,672.8 L411.1,671.4 L410.4,670.1 L409.7,668.7 L409.0,667.4 L408.2,666.1 L407.4,664.8 L406.5,663.6 L405.6,662.3 L404.7,661.2 L403.7,660.0 L402.7,658.9 L401.7,657.9 L400.7,656.9 L399.6,655.9 L398.6,655.1 L397.5,654.2 L396.5,653.4 L395.4,652.7 L394.3,652.1 L393.2,651.5 L392.1,651.0 L391.1,650.5 L390.0,650.1 L389.0,649.8 L387.9,649.6 L386.9,649.4 L385.9,649.3 L385.0,649.3 L384.0,649.3 L383.1,649.5 L382.2,649.7 L381.4,649.9 L380.6,650.3 L379.8,650.7 L367.0,658.2 L366.2,658.7 L365.6,659.3 L364.9,659.9 L364.3,660.5 L363.8,661.3 L363.3,662.1 L362.8,662.9 L362.4,663.9 L362.1,664.8 L361.8,665.8 L361.6,666.9 L361.4,668.0 L361.3,669.2 L361.2,670.4 L361.2,671.6 L361.2,672.8 L361.3,674.1 L361.5,675.4 L361.7,676.8 L362.0,678.1 L362.3,679.5 L362.7,680.9 L363.1,682.3 L363.6,683.7 L364.1,685.0 L364.7,686.4 L365.3,687.8 L366.0,689.2 L366.7,690.5 L367.5,691.8 L368.3,693.2 L369.1,694.4 L370.0,695.7 L370.9,696.9 L371.8,698.1 L372.7,699.2 L373.7,700.3 L374.7,701.4 L375.8,702.3 L376.8,703.3 L377.8,704.2 L378.9,705.0 L380.0,705.8 L381.1,706.5 L382.1,707.2 L383.2,707.7 L384.3,708.3 L385.4,708.7 L386.4,709.1 L387.5,709.4 L388.5,709.7 L389.5,709.8 L390.5,709.9 L391.5,709.9 L392.4,709.9 L393.3,709.8 L394.2,709.6 L395.0,709.3 L395.8,709.0 L396.6,708.6Z" fill="#fff" stroke="#000" stroke-width="1.0" />
<ellipse cx="381.8" cy="683.4" rx="16.64" ry="29.20" transform="rotate(-30.5 381.8 683.4)" fill="#fff" stroke="#000" stroke-width="1.0"/>
<ellipse cx="381.8" cy="683.4" rx="15.48" ry="27.16" transform="rotate(-30.5 381.8 683.4)" fill="none" stroke="#000" stroke-width="0.7"/>
<ellipse cx="381.8" cy="683.4" rx="13.15" ry="23.07" transform="rotate(-30.5 381.8 683.4)" fill="none" stroke="#000" stroke-width="0.8"/>
<ellipse cx="381.8" cy="683.4" rx="9.65" ry="16.94" transform="rotate(-30.5 381.8 683.4)" fill="none" stroke="#000" stroke-width="0.8"/>
<ellipse cx="381.8" cy="683.4" rx="8.32" ry="14.60" transform="rotate(-30.5 381.8 683.4)" fill="#fff" stroke="#000" stroke-width="0.9"/>
<ellipse cx="381.8" cy="683.4" rx="6.99" ry="12.26" transform="rotate(-30.5 381.8 683.4)" fill="none" stroke="#000" stroke-width="0.7"/>
<rect x="391.6" y="696.4" width="4" height="5.6" fill="none" stroke="#000" stroke-width="0.7" transform="rotate(143 393.6 699.2)"/>
<rect x="393.9" y="688.2" width="4" height="5.6" fill="none" stroke="#000" stroke-width="0.7" transform="rotate(118 395.9 691.0)"/>
<rect x="390.8" y="677.0" width="4" height="5.6" fill="none" stroke="#000" stroke-width="0.7" transform="rotate(72 392.8 679.8)"/>
<rect x="383.5" y="667.2" width="4" height="5.6" fill="none" stroke="#000" stroke-width="0.7" transform="rotate(16 385.5 670.0)"/>
<rect x="374.8" y="662.5" width="4" height="5.6" fill="none" stroke="#000" stroke-width="0.7" transform="rotate(-15 376.8 665.3)"/>
<rect x="368.0" y="664.8" width="4" height="5.6" fill="none" stroke="#000" stroke-width="0.7" transform="rotate(-37 370.0 667.6)"/>
<rect x="365.7" y="673.0" width="4" height="5.6" fill="none" stroke="#000" stroke-width="0.7" transform="rotate(-62 367.7 675.8)"/>
<rect x="368.8" y="684.2" width="4" height="5.6" fill="none" stroke="#000" stroke-width="0.7" transform="rotate(252 370.8 687.0)"/>
<rect x="376.1" y="694.0" width="4" height="5.6" fill="none" stroke="#000" stroke-width="0.7" transform="rotate(196 378.1 696.8)"/>
<rect x="384.8" y="698.7" width="4" height="5.6" fill="none" stroke="#000" stroke-width="0.7" transform="rotate(165 386.8 701.5)"/>
<path d="M364.4,715.0 L364.9,714.8 L365.3,714.4 L365.7,714.0 L366.1,713.6 L366.4,713.2 L366.7,712.7 L367.0,712.1 L367.3,711.6 L367.5,710.9 L367.7,710.3 L367.8,709.7 L367.9,709.0 L368.0,708.2 L368.0,707.5 L368.0,706.7 L368.0,705.9 L368.0,705.1 L367.9,704.3 L367.7,703.5 L367.6,702.6 L367.3,701.8 L367.1,700.9 L366.8,700.1 L366.5,699.2 L366.2,698.3 L365.9,697.5 L365.5,696.6 L365.0,695.8 L364.6,694.9 L364.1,694.1 L363.6,693.3 L363.1,692.5 L362.6,691.7 L362.0,691.0 L361.4,690.2 L360.8,689.5 L360.2,688.8 L359.6,688.2 L359.0,687.6 L358.3,687.0 L357.7,686.4 L357.0,685.9 L356.3,685.4 L355.7,685.0 L355.0,684.6 L354.3,684.2 L353.6,683.9 L353.0,683.6 L352.3,683.3 L351.7,683.2 L351.0,683.0 L350.4,682.9 L349.8,682.8 L349.2,682.8 L348.6,682.9 L348.0,682.9 L347.5,683.1 L346.9,683.2 L346.4,683.4 L346.0,683.7 L342.2,685.9 L341.7,686.2 L341.3,686.6 L340.9,686.9 L340.5,687.4 L340.2,687.8 L339.9,688.3 L339.6,688.8 L339.3,689.4 L339.1,690.0 L338.9,690.7 L338.8,691.3 L338.7,692.0 L338.6,692.7 L338.6,693.5 L338.5,694.2 L338.6,695.0 L338.6,695.8 L338.7,696.6 L338.9,697.5 L339.0,698.3 L339.2,699.2 L339.5,700.0 L339.7,700.9 L340.0,701.8 L340.4,702.6 L340.7,703.5 L341.1,704.3 L341.5,705.2 L342.0,706.0 L342.5,706.9 L343.0,707.7 L343.5,708.5 L344.0,709.3 L344.6,710.0 L345.2,710.7 L345.8,711.5 L346.4,712.1 L347.0,712.8 L347.6,713.4 L348.3,714.0 L348.9,714.6 L349.6,715.1 L350.3,715.6 L350.9,716.0 L351.6,716.4 L352.3,716.8 L353.0,717.1 L353.6,717.4 L354.3,717.6 L354.9,717.8 L355.6,718.0 L356.2,718.1 L356.8,718.1 L357.4,718.1 L358.0,718.1 L358.6,718.0 L359.1,717.9 L359.7,717.7 L360.2,717.5 L360.6,717.3Z" fill="#fff" stroke="#000" stroke-width="0.9" />
<ellipse cx="351.4" cy="701.6" rx="10.37" ry="18.20" transform="rotate(-30.5 351.4 701.6)" fill="#fff" stroke="#000" stroke-width="0.9"/>
<ellipse cx="351.4" cy="701.6" rx="8.71" ry="15.29" transform="rotate(-30.5 351.4 701.6)" fill="none" stroke="#000" stroke-width="0.765"/>
<path d="M337.6,725.4 L338.0,725.1 L338.3,724.8 L338.7,724.5 L339.0,724.2 L339.3,723.8 L339.5,723.4 L339.8,722.9 L340.0,722.5 L340.1,722.0 L340.3,721.4 L340.4,720.9 L340.5,720.3 L340.6,719.7 L340.6,719.1 L340.6,718.4 L340.6,717.8 L340.5,717.1 L340.5,716.4 L340.3,715.7 L340.2,715.0 L340.0,714.3 L339.8,713.6 L339.6,712.9 L339.4,712.1 L339.1,711.4 L338.8,710.7 L338.5,710.0 L338.1,709.3 L337.7,708.6 L337.4,707.9 L336.9,707.2 L336.5,706.5 L336.1,705.9 L335.6,705.3 L335.1,704.6 L334.6,704.0 L334.1,703.5 L333.6,702.9 L333.0,702.4 L332.5,701.9 L331.9,701.5 L331.4,701.0 L330.8,700.6 L330.3,700.2 L329.7,699.9 L329.1,699.6 L328.6,699.3 L328.0,699.1 L327.5,698.9 L326.9,698.7 L326.4,698.6 L325.9,698.5 L325.4,698.5 L324.9,698.5 L324.4,698.5 L323.9,698.6 L323.4,698.7 L323.0,698.8 L322.6,699.0 L322.2,699.2 L314.0,704.0 L313.6,704.3 L313.2,704.5 L312.9,704.9 L312.6,705.2 L312.3,705.6 L312.1,706.0 L311.8,706.4 L311.6,706.9 L311.4,707.4 L311.3,708.0 L311.2,708.5 L311.1,709.1 L311.0,709.7 L311.0,710.3 L311.0,710.9 L311.0,711.6 L311.0,712.3 L311.1,713.0 L311.2,713.7 L311.4,714.4 L311.5,715.1 L311.7,715.8 L312.0,716.5 L312.2,717.2 L312.5,718.0 L312.8,718.7 L313.1,719.4 L313.5,720.1 L313.8,720.8 L314.2,721.5 L314.6,722.2 L315.1,722.8 L315.5,723.5 L316.0,724.1 L316.5,724.7 L317.0,725.3 L317.5,725.9 L318.0,726.4 L318.6,727.0 L319.1,727.5 L319.6,727.9 L320.2,728.4 L320.8,728.8 L321.3,729.1 L321.9,729.5 L322.4,729.8 L323.0,730.0 L323.6,730.3 L324.1,730.5 L324.6,730.6 L325.2,730.8 L325.7,730.9 L326.2,730.9 L326.7,730.9 L327.2,730.9 L327.7,730.8 L328.2,730.7 L328.6,730.6 L329.0,730.4 L329.4,730.2Z" fill="#fff" stroke="#000" stroke-width="0.9" />
<ellipse cx="321.7" cy="717.1" rx="8.66" ry="15.20" transform="rotate(-30.5 321.7 717.1)" fill="#fff" stroke="#000" stroke-width="0.9"/>
<ellipse cx="321.7" cy="717.1" rx="6.76" ry="11.86" transform="rotate(-30.5 321.7 717.1)" fill="none" stroke="#000" stroke-width="0.765"/>
<ellipse cx="289.2" cy="738.0" rx="20.12" ry="35.30" transform="rotate(-30.5 289.2 738.0)" fill="#fff" stroke="#000" stroke-width="1.0"/>
<path d="M278.9,709.8 L274.3,710.9 L270.6,713.7 L268.3,718.3 L267.3,724.2 L267.9,731.0 L269.9,738.3 L273.2,745.6 L277.6,752.3 L282.8,758.1 L288.4,762.5 L294.1,765.3 L299.5,766.2" fill="none" stroke="#000" stroke-width="0.7" />
<path d="M311.1,758.7 L312.0,754.7 L312.1,750.1 L311.5,745.2 L310.3,740.0 L308.3,734.8 L305.8,729.7 L302.8,724.8 L299.3,720.4" fill="none" stroke="#000" stroke-width="0.7" />
<ellipse cx="284.0" cy="741.0" rx="9.80" ry="17.20" transform="rotate(-30.5 284.0 741.0)" fill="none" stroke="#000" stroke-width="0.9"/>
<ellipse cx="284.0" cy="741.0" rx="8.72" ry="15.30" transform="rotate(-30.5 284.0 741.0)" fill="none" stroke="#000" stroke-width="0.6"/>
<ellipse cx="284.0" cy="741.0" rx="7.52" ry="13.20" transform="rotate(-30.5 284.0 741.0)" fill="none" stroke="#000" stroke-width="0.9"/>
<rect x="93.7" y="261.6" width="40.6" height="40.7" fill="#00ff00" stroke="#000" stroke-width="1.1"/>
<line x1="426.70" y1="98.90" x2="432.50" y2="116.00" stroke="#000" stroke-width="1.4"/>
<line x1="308.10" y1="140.40" x2="323.60" y2="173.10" stroke="#000" stroke-width="1.4"/>
<line x1="408.50" y1="191.80" x2="437.40" y2="205.60" stroke="#000" stroke-width="1.4"/>
<line x1="208.50" y1="209.50" x2="228.00" y2="256.00" stroke="#000" stroke-width="1.4"/>
<line x1="139.00" y1="242.00" x2="150.00" y2="263.00" stroke="#000" stroke-width="1.4"/>
<line x1="114.50" y1="296.30" x2="117.50" y2="313.00" stroke="#000" stroke-width="1.4"/>
<line x1="58.50" y1="326.00" x2="92.60" y2="331.50" stroke="#000" stroke-width="1.4"/>
<line x1="263.80" y1="308.00" x2="270.70" y2="283.00" stroke="#000" stroke-width="1.4"/>
<line x1="507.00" y1="314.00" x2="493.00" y2="281.50" stroke="#000" stroke-width="1.4"/>
<line x1="554.00" y1="250.50" x2="575.00" y2="263.80" stroke="#000" stroke-width="1.4"/>
<line x1="303.20" y1="397.30" x2="328.30" y2="425.50" stroke="#000" stroke-width="1.4"/>
<line x1="249.70" y1="483.90" x2="263.30" y2="518.60" stroke="#000" stroke-width="1.4"/>
<line x1="95.00" y1="545.00" x2="119.40" y2="579.50" stroke="#000" stroke-width="1.4"/>
<line x1="57.00" y1="610.00" x2="86.00" y2="622.80" stroke="#000" stroke-width="1.4"/>
<line x1="188.70" y1="588.50" x2="219.30" y2="601.00" stroke="#000" stroke-width="1.4"/>
<line x1="574.00" y1="521.30" x2="580.50" y2="552.50" stroke="#000" stroke-width="1.4"/>
<line x1="447.70" y1="575.40" x2="475.00" y2="615.00" stroke="#000" stroke-width="1.4"/>
<line x1="330.70" y1="647.00" x2="343.90" y2="684.00" stroke="#000" stroke-width="1.4"/>
<line x1="338.00" y1="727.50" x2="359.00" y2="735.00" stroke="#000" stroke-width="1.4"/>
<line x1="234.50" y1="721.00" x2="264.00" y2="725.60" stroke="#000" stroke-width="1.4"/>
<text x="415.3" y="92.6" font-size="15">&#8199;9</text>
<clipPath id="c8"><rect x="415.30" y="77.60" width="8.34" height="13.83"/><rect x="418.94" y="77.60" width="1.50" height="17.00"/></clipPath>
<text x="415.30" y="92.6" font-size="15" clip-path="url(#c8)">1</text>
<text x="296.0" y="135.5" font-size="15">2&#8199;</text>
<clipPath id="c9"><rect x="304.34" y="120.50" width="8.34" height="13.83"/><rect x="307.99" y="120.50" width="1.50" height="17.00"/></clipPath>
<text x="304.34" y="135.5" font-size="15" clip-path="url(#c9)">1</text>
<text x="441.5" y="216.6" font-size="15">&#8199;42</text>
<clipPath id="c10"><rect x="441.50" y="201.60" width="8.34" height="13.83"/><rect x="445.14" y="201.60" width="1.50" height="17.00"/></clipPath>
<text x="441.50" y="216.6" font-size="15" clip-path="url(#c10)">1</text>
<text x="194.5" y="204.0" font-size="15">&#8199;27</text>
<clipPath id="c11"><rect x="194.50" y="189.00" width="8.34" height="13.83"/><rect x="198.15" y="189.00" width="1.50" height="17.00"/></clipPath>
<text x="194.50" y="204.0" font-size="15" clip-path="url(#c11)">1</text>
<text x="130.6" y="236.0" font-size="15">9</text>
<text x="100.4" y="288.0" font-size="15">&#8199;&#8199;9</text>
<clipPath id="c12"><rect x="100.40" y="273.00" width="8.34" height="13.83"/><rect x="104.05" y="273.00" width="1.50" height="17.00"/></clipPath>
<text x="100.40" y="288.0" font-size="15" clip-path="url(#c12)">1</text>
<clipPath id="c13"><rect x="108.74" y="273.00" width="8.34" height="13.83"/><rect x="112.39" y="273.00" width="1.50" height="17.00"/></clipPath>
<text x="108.74" y="288.0" font-size="15" clip-path="url(#c13)">1</text>
<text x="39.4" y="329.0" font-size="15">97</text>
<text x="253.4" y="320.8" font-size="15">22</text>
<text x="507.4" y="329.0" font-size="15">8</text>
<text x="576.4" y="278.5" font-size="15">97</text>
<text x="331.0" y="436.8" font-size="15">3</text>
<text x="234.4" y="478.0" font-size="15">&#8199;38</text>
<clipPath id="c14"><rect x="234.40" y="463.00" width="8.34" height="13.83"/><rect x="238.05" y="463.00" width="1.50" height="17.00"/></clipPath>
<text x="234.40" y="478.0" font-size="15" clip-path="url(#c14)">1</text>
<text x="81.0" y="539.8" font-size="15">&#8199;5</text>
<clipPath id="c15"><rect x="81.00" y="524.80" width="8.34" height="13.83"/><rect x="84.64" y="524.80" width="1.50" height="17.00"/></clipPath>
<text x="81.00" y="539.8" font-size="15" clip-path="url(#c15)">1</text>
<text x="36.4" y="609.4" font-size="15">95</text>
<text x="223.0" y="610.0" font-size="15">95</text>
<text x="562.0" y="518.0" font-size="15">87</text>
<text x="429.4" y="569.0" font-size="15">&#8199;82</text>
<clipPath id="c16"><rect x="429.40" y="554.00" width="8.34" height="13.83"/><rect x="433.04" y="554.00" width="1.50" height="17.00"/></clipPath>
<text x="429.40" y="569.0" font-size="15" clip-path="url(#c16)">1</text>
<text x="316.0" y="641.9" font-size="15">&#8199;&#8199;8</text>
<clipPath id="c17"><rect x="316.00" y="626.90" width="8.34" height="13.83"/><rect x="319.64" y="626.90" width="1.50" height="17.00"/></clipPath>
<text x="316.00" y="641.9" font-size="15" clip-path="url(#c17)">1</text>
<clipPath id="c18"><rect x="324.34" y="626.90" width="8.34" height="13.83"/><rect x="327.99" y="626.90" width="1.50" height="17.00"/></clipPath>
<text x="324.34" y="641.9" font-size="15" clip-path="url(#c18)">1</text>
<text x="214.0" y="723.7" font-size="15">84</text>
<text x="362.0" y="745.0" font-size="15">&#8199;2&#8199;</text>
<clipPath id="c19"><rect x="362.00" y="730.00" width="8.34" height="13.83"/><rect x="365.64" y="730.00" width="1.50" height="17.00"/></clipPath>
<text x="362.00" y="745.0" font-size="15" clip-path="url(#c19)">1</text>
<clipPath id="c20"><rect x="378.69" y="730.00" width="8.34" height="13.83"/><rect x="382.33" y="730.00" width="1.50" height="17.00"/></clipPath>
<text x="378.69" y="745.0" font-size="15" clip-path="url(#c20)">1</text>
<text x="428.5" y="422.3" font-size="12.8" text-anchor="middle">COUNTERSHAFT</text>
<text x="428.5" y="437.2" font-size="12.8" text-anchor="middle">ASSEMBLY</text>
<text x="151" y="671" font-size="12.8" text-anchor="middle">REVERSE IDLER GEAR</text>
<text x="151" y="685.4" font-size="12.8" text-anchor="middle">ASSEMBLY</text>
<text x="500.5" y="748" font-size="12.8" text-anchor="middle">DRIVE GEAR</text>
<text x="503" y="762" font-size="12.8" text-anchor="middle">ASSEMBLY</text>
</svg></body></html>
